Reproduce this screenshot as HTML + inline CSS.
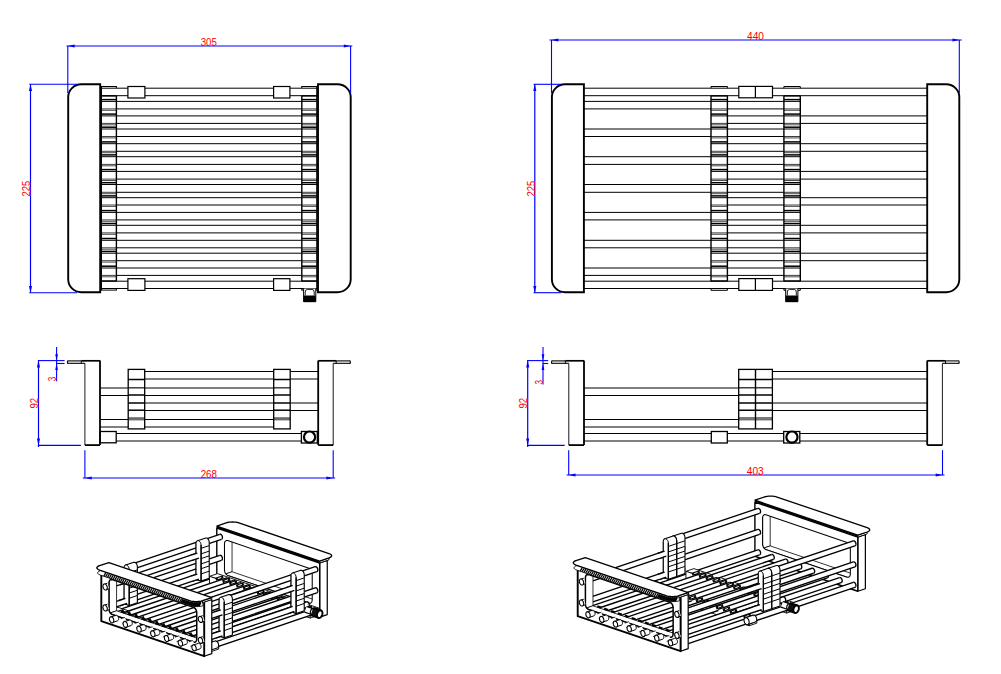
<!DOCTYPE html>
<html><head><meta charset="utf-8"><title>drawing</title>
<style>
html,body{margin:0;padding:0;background:#fff;}
body{width:1001px;height:674px;overflow:hidden;font-family:"Liberation Sans",sans-serif;}
svg{display:block;font-family:"Liberation Sans",sans-serif;}
</style></head><body>
<svg width="1001" height="674" viewBox="0 0 1001 674">
<rect x="0" y="0" width="1001" height="674" fill="#fff"/>
<line x1="583.90" y1="88.20" x2="927.20" y2="88.20" stroke="#000" stroke-width="1.0"/>
<line x1="583.90" y1="95.70" x2="927.20" y2="95.70" stroke="#000" stroke-width="1.0"/>
<line x1="727.40" y1="101.40" x2="783.90" y2="101.40" stroke="#000" stroke-width="1.0"/>
<line x1="727.40" y1="108.90" x2="783.90" y2="108.90" stroke="#000" stroke-width="1.0"/>
<line x1="583.90" y1="101.40" x2="711.00" y2="101.40" stroke="#000" stroke-width="1.0"/>
<line x1="583.90" y1="108.90" x2="711.00" y2="108.90" stroke="#000" stroke-width="1.0"/>
<line x1="727.40" y1="115.90" x2="783.90" y2="115.90" stroke="#000" stroke-width="1.0"/>
<line x1="727.40" y1="123.40" x2="783.90" y2="123.40" stroke="#000" stroke-width="1.0"/>
<line x1="800.30" y1="115.90" x2="927.20" y2="115.90" stroke="#000" stroke-width="1.0"/>
<line x1="800.30" y1="123.40" x2="927.20" y2="123.40" stroke="#000" stroke-width="1.0"/>
<line x1="727.40" y1="129.00" x2="783.90" y2="129.00" stroke="#000" stroke-width="1.0"/>
<line x1="727.40" y1="136.50" x2="783.90" y2="136.50" stroke="#000" stroke-width="1.0"/>
<line x1="583.90" y1="129.00" x2="711.00" y2="129.00" stroke="#000" stroke-width="1.0"/>
<line x1="583.90" y1="136.50" x2="711.00" y2="136.50" stroke="#000" stroke-width="1.0"/>
<line x1="727.40" y1="143.70" x2="783.90" y2="143.70" stroke="#000" stroke-width="1.0"/>
<line x1="727.40" y1="151.30" x2="783.90" y2="151.30" stroke="#000" stroke-width="1.0"/>
<line x1="800.30" y1="143.70" x2="927.20" y2="143.70" stroke="#000" stroke-width="1.0"/>
<line x1="800.30" y1="151.30" x2="927.20" y2="151.30" stroke="#000" stroke-width="1.0"/>
<line x1="727.40" y1="156.70" x2="783.90" y2="156.70" stroke="#000" stroke-width="1.0"/>
<line x1="727.40" y1="164.40" x2="783.90" y2="164.40" stroke="#000" stroke-width="1.0"/>
<line x1="583.90" y1="156.70" x2="711.00" y2="156.70" stroke="#000" stroke-width="1.0"/>
<line x1="583.90" y1="164.40" x2="711.00" y2="164.40" stroke="#000" stroke-width="1.0"/>
<line x1="727.40" y1="171.40" x2="783.90" y2="171.40" stroke="#000" stroke-width="1.0"/>
<line x1="727.40" y1="179.10" x2="783.90" y2="179.10" stroke="#000" stroke-width="1.0"/>
<line x1="800.30" y1="171.40" x2="927.20" y2="171.40" stroke="#000" stroke-width="1.0"/>
<line x1="800.30" y1="179.10" x2="927.20" y2="179.10" stroke="#000" stroke-width="1.0"/>
<line x1="727.40" y1="184.50" x2="783.90" y2="184.50" stroke="#000" stroke-width="1.0"/>
<line x1="727.40" y1="192.30" x2="783.90" y2="192.30" stroke="#000" stroke-width="1.0"/>
<line x1="583.90" y1="184.50" x2="711.00" y2="184.50" stroke="#000" stroke-width="1.0"/>
<line x1="583.90" y1="192.30" x2="711.00" y2="192.30" stroke="#000" stroke-width="1.0"/>
<line x1="727.40" y1="197.70" x2="783.90" y2="197.70" stroke="#000" stroke-width="1.0"/>
<line x1="727.40" y1="205.00" x2="783.90" y2="205.00" stroke="#000" stroke-width="1.0"/>
<line x1="800.30" y1="197.70" x2="927.20" y2="197.70" stroke="#000" stroke-width="1.0"/>
<line x1="800.30" y1="205.00" x2="927.20" y2="205.00" stroke="#000" stroke-width="1.0"/>
<line x1="727.40" y1="212.40" x2="783.90" y2="212.40" stroke="#000" stroke-width="1.0"/>
<line x1="727.40" y1="219.90" x2="783.90" y2="219.90" stroke="#000" stroke-width="1.0"/>
<line x1="583.90" y1="212.40" x2="711.00" y2="212.40" stroke="#000" stroke-width="1.0"/>
<line x1="583.90" y1="219.90" x2="711.00" y2="219.90" stroke="#000" stroke-width="1.0"/>
<line x1="727.40" y1="225.30" x2="783.90" y2="225.30" stroke="#000" stroke-width="1.0"/>
<line x1="727.40" y1="232.90" x2="783.90" y2="232.90" stroke="#000" stroke-width="1.0"/>
<line x1="800.30" y1="225.30" x2="927.20" y2="225.30" stroke="#000" stroke-width="1.0"/>
<line x1="800.30" y1="232.90" x2="927.20" y2="232.90" stroke="#000" stroke-width="1.0"/>
<line x1="727.40" y1="240.30" x2="783.90" y2="240.30" stroke="#000" stroke-width="1.0"/>
<line x1="727.40" y1="247.80" x2="783.90" y2="247.80" stroke="#000" stroke-width="1.0"/>
<line x1="583.90" y1="240.30" x2="711.00" y2="240.30" stroke="#000" stroke-width="1.0"/>
<line x1="583.90" y1="247.80" x2="711.00" y2="247.80" stroke="#000" stroke-width="1.0"/>
<line x1="727.40" y1="253.20" x2="783.90" y2="253.20" stroke="#000" stroke-width="1.0"/>
<line x1="727.40" y1="260.70" x2="783.90" y2="260.70" stroke="#000" stroke-width="1.0"/>
<line x1="800.30" y1="253.20" x2="927.20" y2="253.20" stroke="#000" stroke-width="1.0"/>
<line x1="800.30" y1="260.70" x2="927.20" y2="260.70" stroke="#000" stroke-width="1.0"/>
<line x1="727.40" y1="268.00" x2="783.90" y2="268.00" stroke="#000" stroke-width="1.0"/>
<line x1="727.40" y1="275.40" x2="783.90" y2="275.40" stroke="#000" stroke-width="1.0"/>
<line x1="583.90" y1="268.00" x2="711.00" y2="268.00" stroke="#000" stroke-width="1.0"/>
<line x1="583.90" y1="275.40" x2="711.00" y2="275.40" stroke="#000" stroke-width="1.0"/>
<line x1="583.90" y1="281.20" x2="927.20" y2="281.20" stroke="#000" stroke-width="1.0"/>
<line x1="583.90" y1="288.50" x2="927.20" y2="288.50" stroke="#000" stroke-width="1.0"/>
<line x1="711.00" y1="99.60" x2="727.40" y2="99.60" stroke="#000" stroke-width="1.5"/>
<line x1="711.00" y1="101.40" x2="727.40" y2="101.40" stroke="#000" stroke-width="1.0"/>
<line x1="711.00" y1="108.90" x2="727.40" y2="108.90" stroke="#000" stroke-width="1.0" stroke-opacity="0.75"/>
<line x1="711.00" y1="110.30" x2="727.40" y2="110.30" stroke="#000" stroke-width="1.0" stroke-opacity="0.7"/>
<line x1="711.00" y1="114.10" x2="727.40" y2="114.10" stroke="#000" stroke-width="1.5"/>
<line x1="711.00" y1="115.90" x2="727.40" y2="115.90" stroke="#000" stroke-width="1.0"/>
<line x1="711.00" y1="123.40" x2="727.40" y2="123.40" stroke="#000" stroke-width="1.0" stroke-opacity="0.75"/>
<line x1="711.00" y1="124.80" x2="727.40" y2="124.80" stroke="#000" stroke-width="1.0" stroke-opacity="0.7"/>
<line x1="711.00" y1="127.20" x2="727.40" y2="127.20" stroke="#000" stroke-width="1.5"/>
<line x1="711.00" y1="129.00" x2="727.40" y2="129.00" stroke="#000" stroke-width="1.0"/>
<line x1="711.00" y1="136.50" x2="727.40" y2="136.50" stroke="#000" stroke-width="1.0" stroke-opacity="0.75"/>
<line x1="711.00" y1="137.90" x2="727.40" y2="137.90" stroke="#000" stroke-width="1.0" stroke-opacity="0.7"/>
<line x1="711.00" y1="141.90" x2="727.40" y2="141.90" stroke="#000" stroke-width="1.5"/>
<line x1="711.00" y1="143.70" x2="727.40" y2="143.70" stroke="#000" stroke-width="1.0"/>
<line x1="711.00" y1="151.30" x2="727.40" y2="151.30" stroke="#000" stroke-width="1.0" stroke-opacity="0.75"/>
<line x1="711.00" y1="152.70" x2="727.40" y2="152.70" stroke="#000" stroke-width="1.0" stroke-opacity="0.7"/>
<line x1="711.00" y1="154.90" x2="727.40" y2="154.90" stroke="#000" stroke-width="1.5"/>
<line x1="711.00" y1="156.70" x2="727.40" y2="156.70" stroke="#000" stroke-width="1.0"/>
<line x1="711.00" y1="164.40" x2="727.40" y2="164.40" stroke="#000" stroke-width="1.0" stroke-opacity="0.75"/>
<line x1="711.00" y1="165.80" x2="727.40" y2="165.80" stroke="#000" stroke-width="1.0" stroke-opacity="0.7"/>
<line x1="711.00" y1="169.60" x2="727.40" y2="169.60" stroke="#000" stroke-width="1.5"/>
<line x1="711.00" y1="171.40" x2="727.40" y2="171.40" stroke="#000" stroke-width="1.0"/>
<line x1="711.00" y1="179.10" x2="727.40" y2="179.10" stroke="#000" stroke-width="1.0" stroke-opacity="0.75"/>
<line x1="711.00" y1="180.50" x2="727.40" y2="180.50" stroke="#000" stroke-width="1.0" stroke-opacity="0.7"/>
<line x1="711.00" y1="182.70" x2="727.40" y2="182.70" stroke="#000" stroke-width="1.5"/>
<line x1="711.00" y1="184.50" x2="727.40" y2="184.50" stroke="#000" stroke-width="1.0"/>
<line x1="711.00" y1="192.30" x2="727.40" y2="192.30" stroke="#000" stroke-width="1.0" stroke-opacity="0.75"/>
<line x1="711.00" y1="193.70" x2="727.40" y2="193.70" stroke="#000" stroke-width="1.0" stroke-opacity="0.7"/>
<line x1="711.00" y1="195.90" x2="727.40" y2="195.90" stroke="#000" stroke-width="1.5"/>
<line x1="711.00" y1="197.70" x2="727.40" y2="197.70" stroke="#000" stroke-width="1.0"/>
<line x1="711.00" y1="205.00" x2="727.40" y2="205.00" stroke="#000" stroke-width="1.0" stroke-opacity="0.75"/>
<line x1="711.00" y1="206.40" x2="727.40" y2="206.40" stroke="#000" stroke-width="1.0" stroke-opacity="0.7"/>
<line x1="711.00" y1="210.60" x2="727.40" y2="210.60" stroke="#000" stroke-width="1.5"/>
<line x1="711.00" y1="212.40" x2="727.40" y2="212.40" stroke="#000" stroke-width="1.0"/>
<line x1="711.00" y1="219.90" x2="727.40" y2="219.90" stroke="#000" stroke-width="1.0" stroke-opacity="0.75"/>
<line x1="711.00" y1="221.30" x2="727.40" y2="221.30" stroke="#000" stroke-width="1.0" stroke-opacity="0.7"/>
<line x1="711.00" y1="223.50" x2="727.40" y2="223.50" stroke="#000" stroke-width="1.5"/>
<line x1="711.00" y1="225.30" x2="727.40" y2="225.30" stroke="#000" stroke-width="1.0"/>
<line x1="711.00" y1="232.90" x2="727.40" y2="232.90" stroke="#000" stroke-width="1.0" stroke-opacity="0.75"/>
<line x1="711.00" y1="234.30" x2="727.40" y2="234.30" stroke="#000" stroke-width="1.0" stroke-opacity="0.7"/>
<line x1="711.00" y1="238.50" x2="727.40" y2="238.50" stroke="#000" stroke-width="1.5"/>
<line x1="711.00" y1="240.30" x2="727.40" y2="240.30" stroke="#000" stroke-width="1.0"/>
<line x1="711.00" y1="247.80" x2="727.40" y2="247.80" stroke="#000" stroke-width="1.0" stroke-opacity="0.75"/>
<line x1="711.00" y1="249.20" x2="727.40" y2="249.20" stroke="#000" stroke-width="1.0" stroke-opacity="0.7"/>
<line x1="711.00" y1="251.40" x2="727.40" y2="251.40" stroke="#000" stroke-width="1.5"/>
<line x1="711.00" y1="253.20" x2="727.40" y2="253.20" stroke="#000" stroke-width="1.0"/>
<line x1="711.00" y1="260.70" x2="727.40" y2="260.70" stroke="#000" stroke-width="1.0" stroke-opacity="0.75"/>
<line x1="711.00" y1="262.10" x2="727.40" y2="262.10" stroke="#000" stroke-width="1.0" stroke-opacity="0.7"/>
<line x1="711.00" y1="266.20" x2="727.40" y2="266.20" stroke="#000" stroke-width="1.5"/>
<line x1="711.00" y1="268.00" x2="727.40" y2="268.00" stroke="#000" stroke-width="1.0"/>
<line x1="711.00" y1="275.40" x2="727.40" y2="275.40" stroke="#000" stroke-width="1.0" stroke-opacity="0.75"/>
<line x1="711.00" y1="276.80" x2="727.40" y2="276.80" stroke="#000" stroke-width="1.0" stroke-opacity="0.7"/>
<line x1="783.90" y1="99.60" x2="800.30" y2="99.60" stroke="#000" stroke-width="1.5"/>
<line x1="783.90" y1="101.40" x2="800.30" y2="101.40" stroke="#000" stroke-width="1.0"/>
<line x1="783.90" y1="108.90" x2="800.30" y2="108.90" stroke="#000" stroke-width="1.0" stroke-opacity="0.75"/>
<line x1="783.90" y1="110.30" x2="800.30" y2="110.30" stroke="#000" stroke-width="1.0" stroke-opacity="0.7"/>
<line x1="783.90" y1="114.10" x2="800.30" y2="114.10" stroke="#000" stroke-width="1.5"/>
<line x1="783.90" y1="115.90" x2="800.30" y2="115.90" stroke="#000" stroke-width="1.0"/>
<line x1="783.90" y1="123.40" x2="800.30" y2="123.40" stroke="#000" stroke-width="1.0" stroke-opacity="0.75"/>
<line x1="783.90" y1="124.80" x2="800.30" y2="124.80" stroke="#000" stroke-width="1.0" stroke-opacity="0.7"/>
<line x1="783.90" y1="127.20" x2="800.30" y2="127.20" stroke="#000" stroke-width="1.5"/>
<line x1="783.90" y1="129.00" x2="800.30" y2="129.00" stroke="#000" stroke-width="1.0"/>
<line x1="783.90" y1="136.50" x2="800.30" y2="136.50" stroke="#000" stroke-width="1.0" stroke-opacity="0.75"/>
<line x1="783.90" y1="137.90" x2="800.30" y2="137.90" stroke="#000" stroke-width="1.0" stroke-opacity="0.7"/>
<line x1="783.90" y1="141.90" x2="800.30" y2="141.90" stroke="#000" stroke-width="1.5"/>
<line x1="783.90" y1="143.70" x2="800.30" y2="143.70" stroke="#000" stroke-width="1.0"/>
<line x1="783.90" y1="151.30" x2="800.30" y2="151.30" stroke="#000" stroke-width="1.0" stroke-opacity="0.75"/>
<line x1="783.90" y1="152.70" x2="800.30" y2="152.70" stroke="#000" stroke-width="1.0" stroke-opacity="0.7"/>
<line x1="783.90" y1="154.90" x2="800.30" y2="154.90" stroke="#000" stroke-width="1.5"/>
<line x1="783.90" y1="156.70" x2="800.30" y2="156.70" stroke="#000" stroke-width="1.0"/>
<line x1="783.90" y1="164.40" x2="800.30" y2="164.40" stroke="#000" stroke-width="1.0" stroke-opacity="0.75"/>
<line x1="783.90" y1="165.80" x2="800.30" y2="165.80" stroke="#000" stroke-width="1.0" stroke-opacity="0.7"/>
<line x1="783.90" y1="169.60" x2="800.30" y2="169.60" stroke="#000" stroke-width="1.5"/>
<line x1="783.90" y1="171.40" x2="800.30" y2="171.40" stroke="#000" stroke-width="1.0"/>
<line x1="783.90" y1="179.10" x2="800.30" y2="179.10" stroke="#000" stroke-width="1.0" stroke-opacity="0.75"/>
<line x1="783.90" y1="180.50" x2="800.30" y2="180.50" stroke="#000" stroke-width="1.0" stroke-opacity="0.7"/>
<line x1="783.90" y1="182.70" x2="800.30" y2="182.70" stroke="#000" stroke-width="1.5"/>
<line x1="783.90" y1="184.50" x2="800.30" y2="184.50" stroke="#000" stroke-width="1.0"/>
<line x1="783.90" y1="192.30" x2="800.30" y2="192.30" stroke="#000" stroke-width="1.0" stroke-opacity="0.75"/>
<line x1="783.90" y1="193.70" x2="800.30" y2="193.70" stroke="#000" stroke-width="1.0" stroke-opacity="0.7"/>
<line x1="783.90" y1="195.90" x2="800.30" y2="195.90" stroke="#000" stroke-width="1.5"/>
<line x1="783.90" y1="197.70" x2="800.30" y2="197.70" stroke="#000" stroke-width="1.0"/>
<line x1="783.90" y1="205.00" x2="800.30" y2="205.00" stroke="#000" stroke-width="1.0" stroke-opacity="0.75"/>
<line x1="783.90" y1="206.40" x2="800.30" y2="206.40" stroke="#000" stroke-width="1.0" stroke-opacity="0.7"/>
<line x1="783.90" y1="210.60" x2="800.30" y2="210.60" stroke="#000" stroke-width="1.5"/>
<line x1="783.90" y1="212.40" x2="800.30" y2="212.40" stroke="#000" stroke-width="1.0"/>
<line x1="783.90" y1="219.90" x2="800.30" y2="219.90" stroke="#000" stroke-width="1.0" stroke-opacity="0.75"/>
<line x1="783.90" y1="221.30" x2="800.30" y2="221.30" stroke="#000" stroke-width="1.0" stroke-opacity="0.7"/>
<line x1="783.90" y1="223.50" x2="800.30" y2="223.50" stroke="#000" stroke-width="1.5"/>
<line x1="783.90" y1="225.30" x2="800.30" y2="225.30" stroke="#000" stroke-width="1.0"/>
<line x1="783.90" y1="232.90" x2="800.30" y2="232.90" stroke="#000" stroke-width="1.0" stroke-opacity="0.75"/>
<line x1="783.90" y1="234.30" x2="800.30" y2="234.30" stroke="#000" stroke-width="1.0" stroke-opacity="0.7"/>
<line x1="783.90" y1="238.50" x2="800.30" y2="238.50" stroke="#000" stroke-width="1.5"/>
<line x1="783.90" y1="240.30" x2="800.30" y2="240.30" stroke="#000" stroke-width="1.0"/>
<line x1="783.90" y1="247.80" x2="800.30" y2="247.80" stroke="#000" stroke-width="1.0" stroke-opacity="0.75"/>
<line x1="783.90" y1="249.20" x2="800.30" y2="249.20" stroke="#000" stroke-width="1.0" stroke-opacity="0.7"/>
<line x1="783.90" y1="251.40" x2="800.30" y2="251.40" stroke="#000" stroke-width="1.5"/>
<line x1="783.90" y1="253.20" x2="800.30" y2="253.20" stroke="#000" stroke-width="1.0"/>
<line x1="783.90" y1="260.70" x2="800.30" y2="260.70" stroke="#000" stroke-width="1.0" stroke-opacity="0.75"/>
<line x1="783.90" y1="262.10" x2="800.30" y2="262.10" stroke="#000" stroke-width="1.0" stroke-opacity="0.7"/>
<line x1="783.90" y1="266.20" x2="800.30" y2="266.20" stroke="#000" stroke-width="1.5"/>
<line x1="783.90" y1="268.00" x2="800.30" y2="268.00" stroke="#000" stroke-width="1.0"/>
<line x1="783.90" y1="275.40" x2="800.30" y2="275.40" stroke="#000" stroke-width="1.0" stroke-opacity="0.75"/>
<line x1="783.90" y1="276.80" x2="800.30" y2="276.80" stroke="#000" stroke-width="1.0" stroke-opacity="0.7"/>
<line x1="711.00" y1="95.90" x2="727.40" y2="95.90" stroke="#000" stroke-width="1.4"/>
<line x1="711.00" y1="281.00" x2="727.40" y2="281.00" stroke="#000" stroke-width="1.4"/>
<line x1="711.00" y1="95.70" x2="711.00" y2="281.20" stroke="#000" stroke-width="1.4"/>
<line x1="727.40" y1="95.70" x2="727.40" y2="281.20" stroke="#000" stroke-width="1.4"/>
<line x1="711.00" y1="86.50" x2="727.40" y2="86.50" stroke="#000" stroke-width="1.0"/>
<line x1="711.00" y1="290.30" x2="727.40" y2="290.30" stroke="#000" stroke-width="1.0"/>
<line x1="711.00" y1="86.50" x2="711.00" y2="88.20" stroke="#000" stroke-width="1.0"/>
<line x1="727.40" y1="86.50" x2="727.40" y2="88.20" stroke="#000" stroke-width="1.0"/>
<line x1="711.00" y1="288.50" x2="711.00" y2="290.30" stroke="#000" stroke-width="1.0"/>
<line x1="727.40" y1="288.50" x2="727.40" y2="290.30" stroke="#000" stroke-width="1.0"/>
<line x1="783.90" y1="95.90" x2="800.30" y2="95.90" stroke="#000" stroke-width="1.4"/>
<line x1="783.90" y1="281.00" x2="800.30" y2="281.00" stroke="#000" stroke-width="1.4"/>
<line x1="783.90" y1="95.70" x2="783.90" y2="281.20" stroke="#000" stroke-width="1.4"/>
<line x1="800.30" y1="95.70" x2="800.30" y2="281.20" stroke="#000" stroke-width="1.4"/>
<line x1="783.90" y1="86.50" x2="800.30" y2="86.50" stroke="#000" stroke-width="1.0"/>
<line x1="783.90" y1="290.30" x2="800.30" y2="290.30" stroke="#000" stroke-width="1.0"/>
<line x1="783.90" y1="86.50" x2="783.90" y2="88.20" stroke="#000" stroke-width="1.0"/>
<line x1="800.30" y1="86.50" x2="800.30" y2="88.20" stroke="#000" stroke-width="1.0"/>
<line x1="783.90" y1="288.50" x2="783.90" y2="290.30" stroke="#000" stroke-width="1.0"/>
<line x1="800.30" y1="288.50" x2="800.30" y2="290.30" stroke="#000" stroke-width="1.0"/>
<rect x="738.80" y="86.40" width="33.70" height="11.40" rx="0" fill="#fff" stroke="#000" stroke-width="1.2"/>
<line x1="755.40" y1="86.40" x2="755.40" y2="97.80" stroke="#000" stroke-width="1.2"/>
<rect x="738.80" y="278.60" width="33.70" height="11.80" rx="0" fill="#fff" stroke="#000" stroke-width="1.2"/>
<line x1="755.40" y1="278.60" x2="755.40" y2="290.40" stroke="#000" stroke-width="1.2"/>
<path d="M785.7 288.6 L785.7 301.7 L797.9 301.7 L797.9 288.6" fill="#fff" stroke="#000" stroke-width="1.0" />
<rect x="785.7" y="295.5" width="12.20" height="6.50" fill="#000"/>
<path d="M787.3000000000001 295.5 L787.3000000000001 292.0 Q787.3000000000001 289.5 789.5 289.40000000000003 L794.1 289.40000000000003 Q796.3 289.5 796.3 292.0 L796.3 295.5" fill="none" stroke="#000" stroke-width="0.9" />
<path d="M583.9 84.3 L564.9 84.3 A13 13 0 0 0 551.9 97.3 L551.9 279.2 A13 13 0 0 0 564.9 292.2 L583.9 292.2 Z" fill="#fff" stroke="#000" stroke-width="1.9" />
<path d="M927.2 84.3 L946.3 84.3 A13 13 0 0 1 959.3 97.3 L959.3 279.2 A13 13 0 0 1 946.3 292.2 L927.2 292.2 Z" fill="#fff" stroke="#000" stroke-width="1.9" />
<line x1="551.50" y1="40.00" x2="551.50" y2="93.40" stroke="#0000ff" stroke-width="1.1"/>
<line x1="959.30" y1="40.00" x2="959.30" y2="93.40" stroke="#0000ff" stroke-width="1.1"/>
<line x1="549.50" y1="40.00" x2="961.70" y2="40.00" stroke="#0000ff" stroke-width="1.0"/>
<polygon points="551.50,40.00 558.30,38.45 558.30,41.55" fill="#0000ff"/>
<polygon points="959.30,40.00 952.50,41.55 952.50,38.45" fill="#0000ff"/>
<line x1="534.80" y1="84.30" x2="534.80" y2="292.70" stroke="#0000ff" stroke-width="1.2"/>
<line x1="533.60" y1="84.30" x2="561.40" y2="84.30" stroke="#0000ff" stroke-width="1.1"/>
<line x1="533.60" y1="292.70" x2="561.40" y2="292.70" stroke="#0000ff" stroke-width="1.1"/>
<polygon points="534.80,84.30 536.35,91.10 533.25,91.10" fill="#0000ff"/>
<polygon points="534.80,292.70 533.25,285.90 536.35,285.90" fill="#0000ff"/>
<line x1="100.20" y1="88.20" x2="318.00" y2="88.20" stroke="#000" stroke-width="1.0"/>
<line x1="100.20" y1="95.70" x2="318.00" y2="95.70" stroke="#000" stroke-width="1.0"/>
<line x1="116.40" y1="101.40" x2="301.80" y2="101.40" stroke="#000" stroke-width="1.0"/>
<line x1="116.40" y1="108.90" x2="301.80" y2="108.90" stroke="#000" stroke-width="1.0"/>
<line x1="116.40" y1="115.90" x2="301.80" y2="115.90" stroke="#000" stroke-width="1.0"/>
<line x1="116.40" y1="123.40" x2="301.80" y2="123.40" stroke="#000" stroke-width="1.0"/>
<line x1="116.40" y1="129.00" x2="301.80" y2="129.00" stroke="#000" stroke-width="1.0"/>
<line x1="116.40" y1="136.50" x2="301.80" y2="136.50" stroke="#000" stroke-width="1.0"/>
<line x1="116.40" y1="143.70" x2="301.80" y2="143.70" stroke="#000" stroke-width="1.0"/>
<line x1="116.40" y1="151.30" x2="301.80" y2="151.30" stroke="#000" stroke-width="1.0"/>
<line x1="116.40" y1="156.70" x2="301.80" y2="156.70" stroke="#000" stroke-width="1.0"/>
<line x1="116.40" y1="164.40" x2="301.80" y2="164.40" stroke="#000" stroke-width="1.0"/>
<line x1="116.40" y1="171.40" x2="301.80" y2="171.40" stroke="#000" stroke-width="1.0"/>
<line x1="116.40" y1="179.10" x2="301.80" y2="179.10" stroke="#000" stroke-width="1.0"/>
<line x1="116.40" y1="184.50" x2="301.80" y2="184.50" stroke="#000" stroke-width="1.0"/>
<line x1="116.40" y1="192.30" x2="301.80" y2="192.30" stroke="#000" stroke-width="1.0"/>
<line x1="116.40" y1="197.70" x2="301.80" y2="197.70" stroke="#000" stroke-width="1.0"/>
<line x1="116.40" y1="205.00" x2="301.80" y2="205.00" stroke="#000" stroke-width="1.0"/>
<line x1="116.40" y1="212.40" x2="301.80" y2="212.40" stroke="#000" stroke-width="1.0"/>
<line x1="116.40" y1="219.90" x2="301.80" y2="219.90" stroke="#000" stroke-width="1.0"/>
<line x1="116.40" y1="225.30" x2="301.80" y2="225.30" stroke="#000" stroke-width="1.0"/>
<line x1="116.40" y1="232.90" x2="301.80" y2="232.90" stroke="#000" stroke-width="1.0"/>
<line x1="116.40" y1="240.30" x2="301.80" y2="240.30" stroke="#000" stroke-width="1.0"/>
<line x1="116.40" y1="247.80" x2="301.80" y2="247.80" stroke="#000" stroke-width="1.0"/>
<line x1="116.40" y1="253.20" x2="301.80" y2="253.20" stroke="#000" stroke-width="1.0"/>
<line x1="116.40" y1="260.70" x2="301.80" y2="260.70" stroke="#000" stroke-width="1.0"/>
<line x1="116.40" y1="268.00" x2="301.80" y2="268.00" stroke="#000" stroke-width="1.0"/>
<line x1="116.40" y1="275.40" x2="301.80" y2="275.40" stroke="#000" stroke-width="1.0"/>
<line x1="100.20" y1="281.20" x2="318.00" y2="281.20" stroke="#000" stroke-width="1.0"/>
<line x1="100.20" y1="288.50" x2="318.00" y2="288.50" stroke="#000" stroke-width="1.0"/>
<line x1="101.20" y1="99.60" x2="116.40" y2="99.60" stroke="#000" stroke-width="1.5"/>
<line x1="101.20" y1="101.40" x2="116.40" y2="101.40" stroke="#000" stroke-width="1.0"/>
<line x1="101.20" y1="108.90" x2="116.40" y2="108.90" stroke="#000" stroke-width="1.0" stroke-opacity="0.75"/>
<line x1="101.20" y1="110.30" x2="116.40" y2="110.30" stroke="#000" stroke-width="1.0" stroke-opacity="0.7"/>
<line x1="101.20" y1="114.10" x2="116.40" y2="114.10" stroke="#000" stroke-width="1.5"/>
<line x1="101.20" y1="115.90" x2="116.40" y2="115.90" stroke="#000" stroke-width="1.0"/>
<line x1="101.20" y1="123.40" x2="116.40" y2="123.40" stroke="#000" stroke-width="1.0" stroke-opacity="0.75"/>
<line x1="101.20" y1="124.80" x2="116.40" y2="124.80" stroke="#000" stroke-width="1.0" stroke-opacity="0.7"/>
<line x1="101.20" y1="127.20" x2="116.40" y2="127.20" stroke="#000" stroke-width="1.5"/>
<line x1="101.20" y1="129.00" x2="116.40" y2="129.00" stroke="#000" stroke-width="1.0"/>
<line x1="101.20" y1="136.50" x2="116.40" y2="136.50" stroke="#000" stroke-width="1.0" stroke-opacity="0.75"/>
<line x1="101.20" y1="137.90" x2="116.40" y2="137.90" stroke="#000" stroke-width="1.0" stroke-opacity="0.7"/>
<line x1="101.20" y1="141.90" x2="116.40" y2="141.90" stroke="#000" stroke-width="1.5"/>
<line x1="101.20" y1="143.70" x2="116.40" y2="143.70" stroke="#000" stroke-width="1.0"/>
<line x1="101.20" y1="151.30" x2="116.40" y2="151.30" stroke="#000" stroke-width="1.0" stroke-opacity="0.75"/>
<line x1="101.20" y1="152.70" x2="116.40" y2="152.70" stroke="#000" stroke-width="1.0" stroke-opacity="0.7"/>
<line x1="101.20" y1="154.90" x2="116.40" y2="154.90" stroke="#000" stroke-width="1.5"/>
<line x1="101.20" y1="156.70" x2="116.40" y2="156.70" stroke="#000" stroke-width="1.0"/>
<line x1="101.20" y1="164.40" x2="116.40" y2="164.40" stroke="#000" stroke-width="1.0" stroke-opacity="0.75"/>
<line x1="101.20" y1="165.80" x2="116.40" y2="165.80" stroke="#000" stroke-width="1.0" stroke-opacity="0.7"/>
<line x1="101.20" y1="169.60" x2="116.40" y2="169.60" stroke="#000" stroke-width="1.5"/>
<line x1="101.20" y1="171.40" x2="116.40" y2="171.40" stroke="#000" stroke-width="1.0"/>
<line x1="101.20" y1="179.10" x2="116.40" y2="179.10" stroke="#000" stroke-width="1.0" stroke-opacity="0.75"/>
<line x1="101.20" y1="180.50" x2="116.40" y2="180.50" stroke="#000" stroke-width="1.0" stroke-opacity="0.7"/>
<line x1="101.20" y1="182.70" x2="116.40" y2="182.70" stroke="#000" stroke-width="1.5"/>
<line x1="101.20" y1="184.50" x2="116.40" y2="184.50" stroke="#000" stroke-width="1.0"/>
<line x1="101.20" y1="192.30" x2="116.40" y2="192.30" stroke="#000" stroke-width="1.0" stroke-opacity="0.75"/>
<line x1="101.20" y1="193.70" x2="116.40" y2="193.70" stroke="#000" stroke-width="1.0" stroke-opacity="0.7"/>
<line x1="101.20" y1="195.90" x2="116.40" y2="195.90" stroke="#000" stroke-width="1.5"/>
<line x1="101.20" y1="197.70" x2="116.40" y2="197.70" stroke="#000" stroke-width="1.0"/>
<line x1="101.20" y1="205.00" x2="116.40" y2="205.00" stroke="#000" stroke-width="1.0" stroke-opacity="0.75"/>
<line x1="101.20" y1="206.40" x2="116.40" y2="206.40" stroke="#000" stroke-width="1.0" stroke-opacity="0.7"/>
<line x1="101.20" y1="210.60" x2="116.40" y2="210.60" stroke="#000" stroke-width="1.5"/>
<line x1="101.20" y1="212.40" x2="116.40" y2="212.40" stroke="#000" stroke-width="1.0"/>
<line x1="101.20" y1="219.90" x2="116.40" y2="219.90" stroke="#000" stroke-width="1.0" stroke-opacity="0.75"/>
<line x1="101.20" y1="221.30" x2="116.40" y2="221.30" stroke="#000" stroke-width="1.0" stroke-opacity="0.7"/>
<line x1="101.20" y1="223.50" x2="116.40" y2="223.50" stroke="#000" stroke-width="1.5"/>
<line x1="101.20" y1="225.30" x2="116.40" y2="225.30" stroke="#000" stroke-width="1.0"/>
<line x1="101.20" y1="232.90" x2="116.40" y2="232.90" stroke="#000" stroke-width="1.0" stroke-opacity="0.75"/>
<line x1="101.20" y1="234.30" x2="116.40" y2="234.30" stroke="#000" stroke-width="1.0" stroke-opacity="0.7"/>
<line x1="101.20" y1="238.50" x2="116.40" y2="238.50" stroke="#000" stroke-width="1.5"/>
<line x1="101.20" y1="240.30" x2="116.40" y2="240.30" stroke="#000" stroke-width="1.0"/>
<line x1="101.20" y1="247.80" x2="116.40" y2="247.80" stroke="#000" stroke-width="1.0" stroke-opacity="0.75"/>
<line x1="101.20" y1="249.20" x2="116.40" y2="249.20" stroke="#000" stroke-width="1.0" stroke-opacity="0.7"/>
<line x1="101.20" y1="251.40" x2="116.40" y2="251.40" stroke="#000" stroke-width="1.5"/>
<line x1="101.20" y1="253.20" x2="116.40" y2="253.20" stroke="#000" stroke-width="1.0"/>
<line x1="101.20" y1="260.70" x2="116.40" y2="260.70" stroke="#000" stroke-width="1.0" stroke-opacity="0.75"/>
<line x1="101.20" y1="262.10" x2="116.40" y2="262.10" stroke="#000" stroke-width="1.0" stroke-opacity="0.7"/>
<line x1="101.20" y1="266.20" x2="116.40" y2="266.20" stroke="#000" stroke-width="1.5"/>
<line x1="101.20" y1="268.00" x2="116.40" y2="268.00" stroke="#000" stroke-width="1.0"/>
<line x1="101.20" y1="275.40" x2="116.40" y2="275.40" stroke="#000" stroke-width="1.0" stroke-opacity="0.75"/>
<line x1="101.20" y1="276.80" x2="116.40" y2="276.80" stroke="#000" stroke-width="1.0" stroke-opacity="0.7"/>
<line x1="301.80" y1="99.60" x2="317.00" y2="99.60" stroke="#000" stroke-width="1.5"/>
<line x1="301.80" y1="101.40" x2="317.00" y2="101.40" stroke="#000" stroke-width="1.0"/>
<line x1="301.80" y1="108.90" x2="317.00" y2="108.90" stroke="#000" stroke-width="1.0" stroke-opacity="0.75"/>
<line x1="301.80" y1="110.30" x2="317.00" y2="110.30" stroke="#000" stroke-width="1.0" stroke-opacity="0.7"/>
<line x1="301.80" y1="114.10" x2="317.00" y2="114.10" stroke="#000" stroke-width="1.5"/>
<line x1="301.80" y1="115.90" x2="317.00" y2="115.90" stroke="#000" stroke-width="1.0"/>
<line x1="301.80" y1="123.40" x2="317.00" y2="123.40" stroke="#000" stroke-width="1.0" stroke-opacity="0.75"/>
<line x1="301.80" y1="124.80" x2="317.00" y2="124.80" stroke="#000" stroke-width="1.0" stroke-opacity="0.7"/>
<line x1="301.80" y1="127.20" x2="317.00" y2="127.20" stroke="#000" stroke-width="1.5"/>
<line x1="301.80" y1="129.00" x2="317.00" y2="129.00" stroke="#000" stroke-width="1.0"/>
<line x1="301.80" y1="136.50" x2="317.00" y2="136.50" stroke="#000" stroke-width="1.0" stroke-opacity="0.75"/>
<line x1="301.80" y1="137.90" x2="317.00" y2="137.90" stroke="#000" stroke-width="1.0" stroke-opacity="0.7"/>
<line x1="301.80" y1="141.90" x2="317.00" y2="141.90" stroke="#000" stroke-width="1.5"/>
<line x1="301.80" y1="143.70" x2="317.00" y2="143.70" stroke="#000" stroke-width="1.0"/>
<line x1="301.80" y1="151.30" x2="317.00" y2="151.30" stroke="#000" stroke-width="1.0" stroke-opacity="0.75"/>
<line x1="301.80" y1="152.70" x2="317.00" y2="152.70" stroke="#000" stroke-width="1.0" stroke-opacity="0.7"/>
<line x1="301.80" y1="154.90" x2="317.00" y2="154.90" stroke="#000" stroke-width="1.5"/>
<line x1="301.80" y1="156.70" x2="317.00" y2="156.70" stroke="#000" stroke-width="1.0"/>
<line x1="301.80" y1="164.40" x2="317.00" y2="164.40" stroke="#000" stroke-width="1.0" stroke-opacity="0.75"/>
<line x1="301.80" y1="165.80" x2="317.00" y2="165.80" stroke="#000" stroke-width="1.0" stroke-opacity="0.7"/>
<line x1="301.80" y1="169.60" x2="317.00" y2="169.60" stroke="#000" stroke-width="1.5"/>
<line x1="301.80" y1="171.40" x2="317.00" y2="171.40" stroke="#000" stroke-width="1.0"/>
<line x1="301.80" y1="179.10" x2="317.00" y2="179.10" stroke="#000" stroke-width="1.0" stroke-opacity="0.75"/>
<line x1="301.80" y1="180.50" x2="317.00" y2="180.50" stroke="#000" stroke-width="1.0" stroke-opacity="0.7"/>
<line x1="301.80" y1="182.70" x2="317.00" y2="182.70" stroke="#000" stroke-width="1.5"/>
<line x1="301.80" y1="184.50" x2="317.00" y2="184.50" stroke="#000" stroke-width="1.0"/>
<line x1="301.80" y1="192.30" x2="317.00" y2="192.30" stroke="#000" stroke-width="1.0" stroke-opacity="0.75"/>
<line x1="301.80" y1="193.70" x2="317.00" y2="193.70" stroke="#000" stroke-width="1.0" stroke-opacity="0.7"/>
<line x1="301.80" y1="195.90" x2="317.00" y2="195.90" stroke="#000" stroke-width="1.5"/>
<line x1="301.80" y1="197.70" x2="317.00" y2="197.70" stroke="#000" stroke-width="1.0"/>
<line x1="301.80" y1="205.00" x2="317.00" y2="205.00" stroke="#000" stroke-width="1.0" stroke-opacity="0.75"/>
<line x1="301.80" y1="206.40" x2="317.00" y2="206.40" stroke="#000" stroke-width="1.0" stroke-opacity="0.7"/>
<line x1="301.80" y1="210.60" x2="317.00" y2="210.60" stroke="#000" stroke-width="1.5"/>
<line x1="301.80" y1="212.40" x2="317.00" y2="212.40" stroke="#000" stroke-width="1.0"/>
<line x1="301.80" y1="219.90" x2="317.00" y2="219.90" stroke="#000" stroke-width="1.0" stroke-opacity="0.75"/>
<line x1="301.80" y1="221.30" x2="317.00" y2="221.30" stroke="#000" stroke-width="1.0" stroke-opacity="0.7"/>
<line x1="301.80" y1="223.50" x2="317.00" y2="223.50" stroke="#000" stroke-width="1.5"/>
<line x1="301.80" y1="225.30" x2="317.00" y2="225.30" stroke="#000" stroke-width="1.0"/>
<line x1="301.80" y1="232.90" x2="317.00" y2="232.90" stroke="#000" stroke-width="1.0" stroke-opacity="0.75"/>
<line x1="301.80" y1="234.30" x2="317.00" y2="234.30" stroke="#000" stroke-width="1.0" stroke-opacity="0.7"/>
<line x1="301.80" y1="238.50" x2="317.00" y2="238.50" stroke="#000" stroke-width="1.5"/>
<line x1="301.80" y1="240.30" x2="317.00" y2="240.30" stroke="#000" stroke-width="1.0"/>
<line x1="301.80" y1="247.80" x2="317.00" y2="247.80" stroke="#000" stroke-width="1.0" stroke-opacity="0.75"/>
<line x1="301.80" y1="249.20" x2="317.00" y2="249.20" stroke="#000" stroke-width="1.0" stroke-opacity="0.7"/>
<line x1="301.80" y1="251.40" x2="317.00" y2="251.40" stroke="#000" stroke-width="1.5"/>
<line x1="301.80" y1="253.20" x2="317.00" y2="253.20" stroke="#000" stroke-width="1.0"/>
<line x1="301.80" y1="260.70" x2="317.00" y2="260.70" stroke="#000" stroke-width="1.0" stroke-opacity="0.75"/>
<line x1="301.80" y1="262.10" x2="317.00" y2="262.10" stroke="#000" stroke-width="1.0" stroke-opacity="0.7"/>
<line x1="301.80" y1="266.20" x2="317.00" y2="266.20" stroke="#000" stroke-width="1.5"/>
<line x1="301.80" y1="268.00" x2="317.00" y2="268.00" stroke="#000" stroke-width="1.0"/>
<line x1="301.80" y1="275.40" x2="317.00" y2="275.40" stroke="#000" stroke-width="1.0" stroke-opacity="0.75"/>
<line x1="301.80" y1="276.80" x2="317.00" y2="276.80" stroke="#000" stroke-width="1.0" stroke-opacity="0.7"/>
<line x1="100.20" y1="95.90" x2="116.40" y2="95.90" stroke="#000" stroke-width="1.4"/>
<line x1="301.80" y1="95.90" x2="318.00" y2="95.90" stroke="#000" stroke-width="1.4"/>
<line x1="100.20" y1="281.00" x2="116.40" y2="281.00" stroke="#000" stroke-width="1.4"/>
<line x1="301.80" y1="281.00" x2="318.00" y2="281.00" stroke="#000" stroke-width="1.4"/>
<line x1="116.40" y1="95.70" x2="116.40" y2="281.20" stroke="#000" stroke-width="1.4"/>
<line x1="301.80" y1="95.70" x2="301.80" y2="281.20" stroke="#000" stroke-width="1.4"/>
<line x1="116.40" y1="86.50" x2="116.40" y2="88.20" stroke="#000" stroke-width="1.0"/>
<line x1="301.80" y1="86.50" x2="301.80" y2="88.20" stroke="#000" stroke-width="1.0"/>
<line x1="116.40" y1="288.50" x2="116.40" y2="290.10" stroke="#000" stroke-width="1.0"/>
<line x1="301.80" y1="288.50" x2="301.80" y2="290.10" stroke="#000" stroke-width="1.0"/>
<line x1="101.50" y1="86.50" x2="101.50" y2="290.20" stroke="#000" stroke-width="1.0"/>
<line x1="316.70" y1="86.50" x2="316.70" y2="290.20" stroke="#000" stroke-width="1.0"/>
<line x1="100.20" y1="86.50" x2="116.90" y2="86.50" stroke="#000" stroke-width="1.0"/>
<line x1="301.30" y1="86.50" x2="318.00" y2="86.50" stroke="#000" stroke-width="1.0"/>
<line x1="100.20" y1="290.10" x2="116.90" y2="290.10" stroke="#000" stroke-width="1.0"/>
<line x1="301.30" y1="290.10" x2="318.00" y2="290.10" stroke="#000" stroke-width="1.0"/>
<rect x="127.90" y="86.50" width="17.00" height="11.50" rx="0" fill="#fff" stroke="#000" stroke-width="1.2"/>
<rect x="127.90" y="278.70" width="17.00" height="11.70" rx="0" fill="#fff" stroke="#000" stroke-width="1.2"/>
<rect x="273.60" y="86.50" width="16.30" height="11.50" rx="0" fill="#fff" stroke="#000" stroke-width="1.2"/>
<rect x="273.60" y="278.70" width="16.30" height="11.70" rx="0" fill="#fff" stroke="#000" stroke-width="1.2"/>
<path d="M303.6 288.6 L303.6 301.7 L315.8 301.7 L315.8 288.6" fill="#fff" stroke="#000" stroke-width="1.0" />
<rect x="303.6" y="295.5" width="12.20" height="6.50" fill="#000"/>
<path d="M305.20000000000005 295.5 L305.20000000000005 292.0 Q305.20000000000005 289.5 307.40000000000003 289.40000000000003 L312.0 289.40000000000003 Q314.2 289.5 314.2 292.0 L314.2 295.5" fill="none" stroke="#000" stroke-width="0.9" />
<path d="M100.2 84.3 L81.2 84.3 A13 13 0 0 0 68.2 97.3 L68.2 279.2 A13 13 0 0 0 81.2 292.2 L100.2 292.2 Z" fill="#fff" stroke="#000" stroke-width="1.9" />
<path d="M318.0 84.3 L337.7 84.3 A13 13 0 0 1 350.7 97.3 L350.7 279.2 A13 13 0 0 1 337.7 292.2 L318.0 292.2 Z" fill="#fff" stroke="#000" stroke-width="1.9" />
<line x1="67.80" y1="46.00" x2="67.80" y2="93.30" stroke="#0000ff" stroke-width="1.1"/>
<line x1="350.60" y1="46.00" x2="350.60" y2="93.30" stroke="#0000ff" stroke-width="1.1"/>
<line x1="66.50" y1="46.00" x2="352.30" y2="46.00" stroke="#0000ff" stroke-width="1.0"/>
<polygon points="67.80,46.00 74.60,44.45 74.60,47.55" fill="#0000ff"/>
<polygon points="350.60,46.00 343.80,47.55 343.80,44.45" fill="#0000ff"/>
<text x="200.70" y="46.00" font-size="11" fill="#ff0000" textLength="16.2" lengthAdjust="spacingAndGlyphs">305</text>
<line x1="30.50" y1="84.30" x2="30.50" y2="292.70" stroke="#0000ff" stroke-width="1.2"/>
<line x1="29.30" y1="84.30" x2="77.00" y2="84.30" stroke="#0000ff" stroke-width="1.1"/>
<line x1="29.30" y1="292.70" x2="77.00" y2="292.70" stroke="#0000ff" stroke-width="1.1"/>
<polygon points="30.50,84.30 32.05,91.10 28.95,91.10" fill="#0000ff"/>
<polygon points="30.50,292.70 28.95,285.90 32.05,285.90" fill="#0000ff"/>
<text transform="translate(30.00,196.50) rotate(-90)" font-size="11" fill="#ff0000" textLength="15.8" lengthAdjust="spacingAndGlyphs">225</text>
<text x="747.00" y="39.90" font-size="11" fill="#ff0000" textLength="17.0" lengthAdjust="spacingAndGlyphs">440</text>
<text transform="translate(534.60,196.50) rotate(-90)" font-size="11" fill="#ff0000" textLength="15.8" lengthAdjust="spacingAndGlyphs">225</text>
<line x1="144.70" y1="371.50" x2="273.70" y2="371.50" stroke="#000" stroke-width="1.0"/>
<line x1="144.70" y1="379.00" x2="273.70" y2="379.00" stroke="#000" stroke-width="1.0"/>
<line x1="144.70" y1="388.00" x2="273.70" y2="388.00" stroke="#000" stroke-width="1.0"/>
<line x1="144.70" y1="395.50" x2="273.70" y2="395.50" stroke="#000" stroke-width="1.0"/>
<line x1="144.70" y1="403.00" x2="273.70" y2="403.00" stroke="#000" stroke-width="1.0"/>
<line x1="144.70" y1="410.50" x2="273.70" y2="410.50" stroke="#000" stroke-width="1.0"/>
<line x1="144.70" y1="419.50" x2="273.70" y2="419.50" stroke="#000" stroke-width="1.0"/>
<line x1="144.70" y1="427.00" x2="273.70" y2="427.00" stroke="#000" stroke-width="1.0"/>
<line x1="100.00" y1="388.00" x2="128.20" y2="388.00" stroke="#000" stroke-width="1.0"/>
<line x1="100.00" y1="395.50" x2="128.20" y2="395.50" stroke="#000" stroke-width="1.0"/>
<line x1="100.00" y1="419.50" x2="128.20" y2="419.50" stroke="#000" stroke-width="1.0"/>
<line x1="100.00" y1="427.00" x2="128.20" y2="427.00" stroke="#000" stroke-width="1.0"/>
<line x1="290.20" y1="371.50" x2="318.20" y2="371.50" stroke="#000" stroke-width="1.0"/>
<line x1="290.20" y1="379.00" x2="318.20" y2="379.00" stroke="#000" stroke-width="1.0"/>
<line x1="290.20" y1="403.00" x2="318.20" y2="403.00" stroke="#000" stroke-width="1.0"/>
<line x1="290.20" y1="410.50" x2="318.20" y2="410.50" stroke="#000" stroke-width="1.0"/>
<line x1="116.20" y1="433.50" x2="301.40" y2="433.50" stroke="#000" stroke-width="1.0"/>
<line x1="116.20" y1="441.00" x2="301.40" y2="441.00" stroke="#000" stroke-width="1.0"/>
<rect x="128.20" y="369.40" width="16.50" height="59.50" rx="0" fill="#fff" stroke="#000" stroke-width="1.3"/>
<line x1="128.20" y1="379.50" x2="144.70" y2="379.50" stroke="#000" stroke-width="1.5" stroke-opacity="1"/>
<line x1="128.20" y1="387.80" x2="144.70" y2="387.80" stroke="#000" stroke-width="1.5" stroke-opacity="0.75"/>
<line x1="128.20" y1="395.00" x2="144.70" y2="395.00" stroke="#000" stroke-width="1.5" stroke-opacity="1"/>
<line x1="128.20" y1="403.00" x2="144.70" y2="403.00" stroke="#000" stroke-width="1.5" stroke-opacity="1"/>
<line x1="128.20" y1="410.20" x2="144.70" y2="410.20" stroke="#000" stroke-width="1.5" stroke-opacity="1"/>
<line x1="128.20" y1="418.10" x2="144.70" y2="418.10" stroke="#000" stroke-width="1.5" stroke-opacity="0.7"/>
<line x1="128.20" y1="419.80" x2="144.70" y2="419.80" stroke="#000" stroke-width="1.0" stroke-opacity="0.8"/>
<rect x="273.70" y="369.40" width="16.50" height="59.50" rx="0" fill="#fff" stroke="#000" stroke-width="1.3"/>
<line x1="273.70" y1="379.50" x2="290.20" y2="379.50" stroke="#000" stroke-width="1.5" stroke-opacity="1"/>
<line x1="273.70" y1="387.80" x2="290.20" y2="387.80" stroke="#000" stroke-width="1.5" stroke-opacity="0.75"/>
<line x1="273.70" y1="395.00" x2="290.20" y2="395.00" stroke="#000" stroke-width="1.5" stroke-opacity="1"/>
<line x1="273.70" y1="403.00" x2="290.20" y2="403.00" stroke="#000" stroke-width="1.5" stroke-opacity="1"/>
<line x1="273.70" y1="410.20" x2="290.20" y2="410.20" stroke="#000" stroke-width="1.5" stroke-opacity="1"/>
<line x1="273.70" y1="418.10" x2="290.20" y2="418.10" stroke="#000" stroke-width="1.5" stroke-opacity="0.7"/>
<line x1="273.70" y1="419.80" x2="290.20" y2="419.80" stroke="#000" stroke-width="1.0" stroke-opacity="0.8"/>
<rect x="100.00" y="431.50" width="16.20" height="11.30" rx="0" fill="#fff" stroke="#000" stroke-width="1.3"/>
<rect x="301.40" y="431.50" width="15.90" height="11.50" rx="0" fill="#fff" stroke="#000" stroke-width="1.3"/>
<circle cx="309.55" cy="437.1" r="5.6" fill="#fff" stroke="#000" stroke-width="2.2"/>
<path d="M100.0 445.1 L84.9 445.1" fill="none" stroke="#000" stroke-width="1.8" />
<line x1="84.90" y1="363.40" x2="84.90" y2="445.10" stroke="#000" stroke-width="1.0" stroke-opacity="0.9"/>
<line x1="100.00" y1="360.60" x2="100.00" y2="445.10" stroke="#000" stroke-width="1.8"/>
<path d="M81.3 360.8 L100.0 360.8" fill="none" stroke="#000" stroke-width="1.7" />
<path d="M67.8 360.9 L81.3 360.9" fill="none" stroke="#000" stroke-width="1.1" />
<path d="M67.5 363.3 L84.9 363.3" fill="none" stroke="#000" stroke-width="1.1" />
<line x1="81.30" y1="360.60" x2="81.30" y2="363.30" stroke="#000" stroke-width="1.0"/>
<path d="M67.9 360.5 Q66.8 362.1 67.9 363.7" fill="none" stroke="#000" stroke-width="1.1" />
<path d="M318.2 445.1 L333.2 445.1" fill="none" stroke="#000" stroke-width="1.8" />
<line x1="333.20" y1="363.40" x2="333.20" y2="445.10" stroke="#000" stroke-width="1.0" stroke-opacity="0.9"/>
<line x1="318.20" y1="360.60" x2="318.20" y2="445.10" stroke="#000" stroke-width="1.8"/>
<path d="M336.2 360.8 L318.2 360.8" fill="none" stroke="#000" stroke-width="1.7" />
<path d="M350.0 360.9 L336.2 360.9" fill="none" stroke="#000" stroke-width="1.1" />
<path d="M350.3 363.3 L333.2 363.3" fill="none" stroke="#000" stroke-width="1.1" />
<line x1="336.20" y1="360.60" x2="336.20" y2="363.30" stroke="#000" stroke-width="1.0"/>
<path d="M349.90000000000003 360.5 Q351.0 362.1 349.90000000000003 363.7" fill="none" stroke="#000" stroke-width="1.1" />
<line x1="38.50" y1="360.60" x2="38.50" y2="447.00" stroke="#0000ff" stroke-width="1.2"/>
<line x1="37.90" y1="360.60" x2="64.60" y2="360.60" stroke="#0000ff" stroke-width="1.1"/>
<line x1="37.90" y1="445.40" x2="80.90" y2="445.40" stroke="#0000ff" stroke-width="1.1"/>
<polygon points="38.50,360.60 40.05,367.40 36.95,367.40" fill="#0000ff"/>
<polygon points="38.50,445.40 36.95,438.60 40.05,438.60" fill="#0000ff"/>
<line x1="56.60" y1="347.00" x2="56.60" y2="381.20" stroke="#0000ff" stroke-width="1.1"/>
<line x1="56.20" y1="363.50" x2="64.60" y2="363.50" stroke="#0000ff" stroke-width="1.1"/>
<polygon points="56.60,360.60 55.20,354.20 58.00,354.20" fill="#0000ff"/>
<polygon points="56.60,363.50 58.00,369.90 55.20,369.90" fill="#0000ff"/>
<line x1="84.90" y1="450.20" x2="84.90" y2="478.00" stroke="#0000ff" stroke-width="1.1"/>
<line x1="333.20" y1="450.20" x2="333.20" y2="478.00" stroke="#0000ff" stroke-width="1.1"/>
<line x1="82.80" y1="478.00" x2="335.20" y2="478.00" stroke="#0000ff" stroke-width="1.0"/>
<polygon points="84.90,478.00 91.70,476.45 91.70,479.55" fill="#0000ff"/>
<polygon points="333.20,478.00 326.40,479.55 326.40,476.45" fill="#0000ff"/>
<text x="200.70" y="477.80" font-size="11" fill="#ff0000" textLength="16.3" lengthAdjust="spacingAndGlyphs">268</text>
<text transform="translate(38.20,408.50) rotate(-90)" font-size="11" fill="#ff0000" textLength="10.7" lengthAdjust="spacingAndGlyphs">92</text>
<text transform="translate(56.40,381.20) rotate(-90)" font-size="11" fill="#ff0000" textLength="4.5" lengthAdjust="spacingAndGlyphs">3</text>
<line x1="584.00" y1="388.00" x2="738.70" y2="388.00" stroke="#000" stroke-width="1.0"/>
<line x1="584.00" y1="395.50" x2="738.70" y2="395.50" stroke="#000" stroke-width="1.0"/>
<line x1="584.00" y1="419.50" x2="738.70" y2="419.50" stroke="#000" stroke-width="1.0"/>
<line x1="584.00" y1="427.00" x2="738.70" y2="427.00" stroke="#000" stroke-width="1.0"/>
<line x1="772.40" y1="371.50" x2="927.20" y2="371.50" stroke="#000" stroke-width="1.0"/>
<line x1="772.40" y1="379.00" x2="927.20" y2="379.00" stroke="#000" stroke-width="1.0"/>
<line x1="772.40" y1="403.00" x2="927.20" y2="403.00" stroke="#000" stroke-width="1.0"/>
<line x1="772.40" y1="410.50" x2="927.20" y2="410.50" stroke="#000" stroke-width="1.0"/>
<line x1="584.00" y1="433.50" x2="927.20" y2="433.50" stroke="#000" stroke-width="1.0"/>
<line x1="584.00" y1="441.00" x2="927.20" y2="441.00" stroke="#000" stroke-width="1.0"/>
<rect x="738.70" y="369.40" width="33.70" height="59.50" rx="0" fill="#fff" stroke="#000" stroke-width="1.3"/>
<line x1="738.70" y1="379.50" x2="772.40" y2="379.50" stroke="#000" stroke-width="1.5" stroke-opacity="1"/>
<line x1="738.70" y1="387.80" x2="772.40" y2="387.80" stroke="#000" stroke-width="1.5" stroke-opacity="0.75"/>
<line x1="738.70" y1="395.00" x2="772.40" y2="395.00" stroke="#000" stroke-width="1.5" stroke-opacity="1"/>
<line x1="738.70" y1="403.00" x2="772.40" y2="403.00" stroke="#000" stroke-width="1.5" stroke-opacity="1"/>
<line x1="738.70" y1="410.20" x2="772.40" y2="410.20" stroke="#000" stroke-width="1.5" stroke-opacity="1"/>
<line x1="738.70" y1="418.10" x2="772.40" y2="418.10" stroke="#000" stroke-width="1.5" stroke-opacity="0.7"/>
<line x1="738.70" y1="419.80" x2="772.40" y2="419.80" stroke="#000" stroke-width="1.0" stroke-opacity="0.8"/>
<line x1="755.50" y1="369.40" x2="755.50" y2="428.90" stroke="#000" stroke-width="1.4"/>
<rect x="711.30" y="431.50" width="16.00" height="11.50" rx="0" fill="#fff" stroke="#000" stroke-width="1.3"/>
<rect x="783.70" y="431.50" width="16.10" height="11.50" rx="0" fill="#fff" stroke="#000" stroke-width="1.3"/>
<circle cx="791.95" cy="437.1" r="5.6" fill="#fff" stroke="#000" stroke-width="2.2"/>
<path d="M584.0 445.1 L568.8 445.1" fill="none" stroke="#000" stroke-width="1.8" />
<line x1="568.80" y1="363.40" x2="568.80" y2="445.10" stroke="#000" stroke-width="1.0" stroke-opacity="0.9"/>
<line x1="584.00" y1="360.60" x2="584.00" y2="445.10" stroke="#000" stroke-width="1.8"/>
<path d="M565.3 360.8 L584.0 360.8" fill="none" stroke="#000" stroke-width="1.7" />
<path d="M551.9 360.9 L565.3 360.9" fill="none" stroke="#000" stroke-width="1.1" />
<path d="M551.6 363.3 L568.8 363.3" fill="none" stroke="#000" stroke-width="1.1" />
<line x1="565.30" y1="360.60" x2="565.30" y2="363.30" stroke="#000" stroke-width="1.0"/>
<path d="M552.0 360.5 Q550.9 362.1 552.0 363.7" fill="none" stroke="#000" stroke-width="1.1" />
<path d="M927.2 445.1 L942.4 445.1" fill="none" stroke="#000" stroke-width="1.8" />
<line x1="942.40" y1="363.40" x2="942.40" y2="445.10" stroke="#000" stroke-width="1.0" stroke-opacity="0.9"/>
<line x1="927.20" y1="360.60" x2="927.20" y2="445.10" stroke="#000" stroke-width="1.8"/>
<path d="M945.5 360.8 L927.2 360.8" fill="none" stroke="#000" stroke-width="1.7" />
<path d="M958.8000000000001 360.9 L945.5 360.9" fill="none" stroke="#000" stroke-width="1.1" />
<path d="M959.1 363.3 L942.4 363.3" fill="none" stroke="#000" stroke-width="1.1" />
<line x1="945.50" y1="360.60" x2="945.50" y2="363.30" stroke="#000" stroke-width="1.0"/>
<path d="M958.7 360.5 Q959.8000000000001 362.1 958.7 363.7" fill="none" stroke="#000" stroke-width="1.1" />
<line x1="527.70" y1="360.60" x2="527.70" y2="447.00" stroke="#0000ff" stroke-width="1.2"/>
<line x1="527.10" y1="360.60" x2="548.20" y2="360.60" stroke="#0000ff" stroke-width="1.1"/>
<line x1="527.10" y1="445.40" x2="564.70" y2="445.40" stroke="#0000ff" stroke-width="1.1"/>
<polygon points="527.70,360.60 529.25,367.40 526.15,367.40" fill="#0000ff"/>
<polygon points="527.70,445.40 526.15,438.60 529.25,438.60" fill="#0000ff"/>
<line x1="543.00" y1="347.00" x2="543.00" y2="384.50" stroke="#0000ff" stroke-width="1.1"/>
<line x1="542.60" y1="363.50" x2="548.20" y2="363.50" stroke="#0000ff" stroke-width="1.1"/>
<polygon points="543.00,360.60 541.60,354.20 544.40,354.20" fill="#0000ff"/>
<polygon points="543.00,363.50 544.40,369.90 541.60,369.90" fill="#0000ff"/>
<line x1="568.70" y1="450.20" x2="568.70" y2="475.00" stroke="#0000ff" stroke-width="1.1"/>
<line x1="942.50" y1="450.20" x2="942.50" y2="475.00" stroke="#0000ff" stroke-width="1.1"/>
<line x1="566.60" y1="475.00" x2="944.50" y2="475.00" stroke="#0000ff" stroke-width="1.0"/>
<polygon points="568.70,475.00 575.50,473.45 575.50,476.55" fill="#0000ff"/>
<polygon points="942.50,475.00 935.70,476.55 935.70,473.45" fill="#0000ff"/>
<text x="746.80" y="474.80" font-size="11" fill="#ff0000" textLength="16.9" lengthAdjust="spacingAndGlyphs">403</text>
<text transform="translate(527.40,408.50) rotate(-90)" font-size="11" fill="#ff0000" textLength="10.7" lengthAdjust="spacingAndGlyphs">92</text>
<text transform="translate(542.80,384.50) rotate(-90)" font-size="11" fill="#ff0000" textLength="4.5" lengthAdjust="spacingAndGlyphs">3</text>
<path d="M319.68 617.14 L327.26 614.58 L327.26 560.42 L319.68 562.99 Z" fill="#fff" stroke="#000" stroke-width="1.2" stroke-linejoin="round"/>
<path d="M224.48 574.32 L232.06 571.76 L232.06 536.94 L224.48 539.51 Z" fill="#fff" stroke="#000" stroke-width="0.8" stroke-linejoin="round"/>
<path d="M224.48 574.32 L232.06 571.76 L319.80 601.60 L312.22 604.17 Z" fill="#fff" stroke="#000" stroke-width="0.8" stroke-linejoin="round"/>
<path d="M216.79 582.14 L319.68 617.14 L319.68 562.99 L216.79 527.99 Z M312.22 573.65 L312.06 572.27 L311.61 570.92 L310.90 569.73 L310.01 568.81 L309.02 568.26 L227.68 540.60 L226.69 540.47 L225.80 540.78 L225.09 541.49 L224.64 542.53 L224.48 543.80 L224.48 570.02 L224.64 571.40 L225.09 572.76 L225.80 573.95 L226.69 574.86 L227.68 575.41 L309.02 603.08 L310.01 603.20 L310.90 602.90 L311.61 602.19 L312.06 601.14 L312.22 599.87 Z" fill="#fff" fill-rule="evenodd" stroke="none"/>
<path d="M216.79 582.14 L319.68 617.14 L319.68 562.99 L216.79 527.99 Z" fill="none" stroke="#000" stroke-width="1.4" stroke-linejoin="round"/>
<path d="M312.22 573.65 L312.06 572.27 L311.61 570.92 L310.90 569.73 L310.01 568.81 L309.02 568.26 L227.68 540.60 L226.69 540.47 L225.80 540.78 L225.09 541.49 L224.64 542.53 L224.48 543.80 L224.48 570.02 L224.64 571.40 L225.09 572.76 L225.80 573.95 L226.69 574.86 L227.68 575.41 L309.02 603.08 L310.01 603.20 L310.90 602.90 L311.61 602.19 L312.06 601.14 L312.22 599.87 Z" fill="none" stroke="#000" stroke-width="1.05" stroke-linejoin="round"/>
<line x1="216.79" y1="526.88" x2="319.68" y2="561.88" stroke="#000" stroke-width="1.7"/>
<path d="M319.68 562.99 L329.00 559.84 L329.00 557.87 L319.68 561.02 Z" fill="#fff" stroke="#000" stroke-width="0.9" stroke-linejoin="round"/>
<path d="M319.68 561.02 L329.00 557.87 L330.12 557.41 L330.96 556.88 L331.47 556.30 L331.65 555.70 L331.47 555.11 L330.95 554.53 L330.11 554.00 L328.99 553.53 L238.91 522.89 L237.54 522.50 L235.97 522.22 L234.27 522.04 L232.51 521.98 L230.74 522.04 L229.04 522.21 L227.48 522.49 L226.11 522.87 L216.79 526.02 Z" fill="#fff" stroke="#000" stroke-width="1.3" stroke-linejoin="round"/>
<path d="M221.43 580.72 L221.74 580.56 L222.00 580.31 L222.21 579.98 L222.35 579.58 L222.43 579.13 L222.44 578.65 L222.37 578.15 L222.24 577.65 L222.04 577.17 L221.79 576.73 L221.49 576.35 L221.16 576.05 L220.81 575.82 L220.44 575.69 L220.09 575.65 L219.75 575.71 Z" fill="#fff" stroke="none" stroke-width="0" />
<path d="M113.53 617.21 L221.43 580.72 L219.75 575.71 L111.85 612.21 Z" fill="#fff" stroke="none" stroke-width="0" />
<line x1="113.53" y1="617.21" x2="221.43" y2="580.72" stroke="#000" stroke-width="1.35"/>
<line x1="111.85" y1="612.21" x2="219.75" y2="575.71" stroke="#000" stroke-width="1.35"/>
<path d="M221.43 580.72 L221.74 580.56 L222.00 580.31 L222.21 579.98 L222.35 579.58 L222.43 579.13 L222.44 578.65 L222.37 578.15 L222.24 577.65 L222.04 577.17 L221.79 576.73 L221.49 576.35 L221.16 576.05 L220.81 575.82 L220.44 575.69 L220.09 575.65 L219.75 575.71" fill="none" stroke="#000" stroke-width="1.35" />
<path d="M121.85 615.46 L122.27 615.24 L122.64 614.90 L122.92 614.45 L123.12 613.90 L123.23 613.27 L123.24 612.60 L123.15 611.91 L122.97 611.22 L122.70 610.56 L122.35 609.96 L121.94 609.43 L121.48 609.00 L120.99 608.69 L120.49 608.51 L119.99 608.46 L119.52 608.55 Z" fill="#fff" stroke="none" stroke-width="0" />
<path d="M114.22 618.04 L121.85 615.46 L119.52 608.55 L111.89 611.13 Z" fill="#fff" stroke="none" stroke-width="0" />
<line x1="114.22" y1="618.04" x2="121.85" y2="615.46" stroke="#000" stroke-width="1.1"/>
<line x1="111.89" y1="611.13" x2="119.52" y2="608.55" stroke="#000" stroke-width="1.1"/>
<path d="M121.85 615.46 L122.27 615.24 L122.64 614.90 L122.92 614.45 L123.12 613.90 L123.23 613.27 L123.24 612.60 L123.15 611.91 L122.97 611.22 L122.70 610.56 L122.35 609.96 L121.94 609.43 L121.48 609.00 L120.99 608.69 L120.49 608.51 L119.99 608.46 L119.52 608.55" fill="none" stroke="#000" stroke-width="1.1" />
<path d="M115.62 615.46 L115.53 614.54 L115.28 613.62 L114.87 612.77 L114.34 612.04 L113.72 611.49 L113.06 611.15 L112.39 611.04 L111.78 611.17 L111.25 611.54 L110.84 612.11 L110.58 612.85 L110.50 613.71 L110.58 614.63 L110.84 615.55 L111.25 616.40 L111.78 617.13 L112.39 617.68 L113.06 618.02 L113.72 618.13 L114.34 618.00 L114.87 617.63 L115.28 617.06 L115.53 616.32 Z" fill="#fff" stroke="#000" stroke-width="1.1" />
<path d="M207.36 555.21 L207.67 555.05 L207.93 554.80 L208.14 554.47 L208.28 554.07 L208.36 553.62 L208.37 553.14 L208.30 552.64 L208.17 552.14 L207.98 551.66 L207.72 551.22 L207.43 550.84 L207.09 550.53 L206.74 550.31 L206.37 550.18 L206.02 550.14 L205.68 550.20 Z" fill="#fff" stroke="none" stroke-width="0" />
<path d="M113.53 586.94 L207.36 555.21 L205.68 550.20 L111.85 581.94 Z" fill="#fff" stroke="none" stroke-width="0" />
<line x1="113.53" y1="586.94" x2="207.36" y2="555.21" stroke="#000" stroke-width="1.35"/>
<line x1="111.85" y1="581.94" x2="205.68" y2="550.20" stroke="#000" stroke-width="1.35"/>
<path d="M207.36 555.21 L207.67 555.05 L207.93 554.80 L208.14 554.47 L208.28 554.07 L208.36 553.62 L208.37 553.14 L208.30 552.64 L208.17 552.14 L207.98 551.66 L207.72 551.22 L207.43 550.84 L207.09 550.53 L206.74 550.31 L206.37 550.18 L206.02 550.14 L205.68 550.20" fill="none" stroke="#000" stroke-width="1.35" />
<path d="M207.36 576.20 L207.67 576.05 L207.93 575.80 L208.14 575.47 L208.28 575.07 L208.36 574.62 L208.37 574.14 L208.30 573.63 L208.17 573.14 L207.98 572.66 L207.72 572.22 L207.43 571.84 L207.09 571.53 L206.74 571.31 L206.37 571.17 L206.02 571.14 L205.68 571.20 Z" fill="#fff" stroke="none" stroke-width="0" />
<path d="M113.53 607.94 L207.36 576.20 L205.68 571.20 L111.85 602.94 Z" fill="#fff" stroke="none" stroke-width="0" />
<line x1="113.53" y1="607.94" x2="207.36" y2="576.20" stroke="#000" stroke-width="1.35"/>
<line x1="111.85" y1="602.94" x2="205.68" y2="571.20" stroke="#000" stroke-width="1.35"/>
<path d="M207.36 576.20 L207.67 576.05 L207.93 575.80 L208.14 575.47 L208.28 575.07 L208.36 574.62 L208.37 574.14 L208.30 573.63 L208.17 573.14 L207.98 572.66 L207.72 572.22 L207.43 571.84 L207.09 571.53 L206.74 571.31 L206.37 571.17 L206.02 571.14 L205.68 571.20" fill="none" stroke="#000" stroke-width="1.35" />
<path d="M221.43 539.27 L221.74 539.11 L222.00 538.87 L222.21 538.54 L222.35 538.14 L222.43 537.69 L222.44 537.20 L222.37 536.70 L222.24 536.20 L222.04 535.73 L221.79 535.29 L221.49 534.91 L221.16 534.60 L220.81 534.38 L220.44 534.24 L220.09 534.21 L219.75 534.27 Z" fill="#fff" stroke="none" stroke-width="0" />
<path d="M127.33 571.10 L221.43 539.27 L219.75 534.27 L125.65 566.10 Z" fill="#fff" stroke="none" stroke-width="0" />
<line x1="127.33" y1="571.10" x2="221.43" y2="539.27" stroke="#000" stroke-width="1.35"/>
<line x1="125.65" y1="566.10" x2="219.75" y2="534.27" stroke="#000" stroke-width="1.35"/>
<path d="M221.43 539.27 L221.74 539.11 L222.00 538.87 L222.21 538.54 L222.35 538.14 L222.43 537.69 L222.44 537.20 L222.37 536.70 L222.24 536.20 L222.04 535.73 L221.79 535.29 L221.49 534.91 L221.16 534.60 L220.81 534.38 L220.44 534.24 L220.09 534.21 L219.75 534.27" fill="none" stroke="#000" stroke-width="1.35" />
<path d="M221.43 560.33 L221.74 560.17 L222.00 559.93 L222.21 559.60 L222.35 559.20 L222.43 558.75 L222.44 558.26 L222.37 557.76 L222.24 557.26 L222.04 556.79 L221.79 556.35 L221.49 555.97 L221.16 555.66 L220.81 555.44 L220.44 555.30 L220.09 555.27 L219.75 555.33 Z" fill="#fff" stroke="none" stroke-width="0" />
<path d="M127.33 592.16 L221.43 560.33 L219.75 555.33 L125.65 587.16 Z" fill="#fff" stroke="none" stroke-width="0" />
<line x1="127.33" y1="592.16" x2="221.43" y2="560.33" stroke="#000" stroke-width="1.35"/>
<line x1="125.65" y1="587.16" x2="219.75" y2="555.33" stroke="#000" stroke-width="1.35"/>
<path d="M221.43 560.33 L221.74 560.17 L222.00 559.93 L222.21 559.60 L222.35 559.20 L222.43 558.75 L222.44 558.26 L222.37 557.76 L222.24 557.26 L222.04 556.79 L221.79 556.35 L221.49 555.97 L221.16 555.66 L220.81 555.44 L220.44 555.30 L220.09 555.27 L219.75 555.33" fill="none" stroke="#000" stroke-width="1.35" />
<path d="M196.05 579.40 L201.09 581.12 L209.22 578.37 L209.22 542.26 L209.03 540.91 L208.48 539.62 L207.67 538.62 L206.70 538.03 L205.74 537.96 L197.61 540.71 L196.79 541.16 L196.25 542.07 L196.05 543.30 Z" fill="#fff" stroke="#000" stroke-width="1.1" stroke-linejoin="round"/>
<path d="M196.05 579.40 L201.09 581.12 L201.09 545.01 L200.90 543.66 L200.35 542.38 L199.53 541.37 L198.57 540.78 L197.61 540.71 L196.79 541.16 L196.25 542.07 L196.05 543.30 Z" fill="#fff" stroke="#000" stroke-width="1.0" stroke-linejoin="round"/>
<line x1="201.09" y1="548.33" x2="209.22" y2="545.58" stroke="#000" stroke-width="1.0"/>
<line x1="201.09" y1="553.86" x2="209.22" y2="551.11" stroke="#000" stroke-width="1.0"/>
<line x1="201.09" y1="558.58" x2="209.22" y2="555.83" stroke="#000" stroke-width="1.0"/>
<line x1="201.09" y1="563.92" x2="209.22" y2="561.17" stroke="#000" stroke-width="1.0"/>
<line x1="201.09" y1="568.71" x2="209.22" y2="565.96" stroke="#000" stroke-width="1.0"/>
<line x1="201.09" y1="573.93" x2="209.22" y2="571.18" stroke="#000" stroke-width="1.0"/>
<line x1="201.09" y1="581.12" x2="201.09" y2="545.01" stroke="#000" stroke-width="1.3"/>
<path d="M191.92 560.43 L199.00 558.03 L197.32 553.03 L190.24 555.42 Z" fill="#fff" stroke="none" stroke-width="0" />
<line x1="191.92" y1="560.43" x2="199.00" y2="558.03" stroke="#000" stroke-width="1.35"/>
<line x1="190.24" y1="555.42" x2="197.32" y2="553.03" stroke="#000" stroke-width="1.35"/>
<path d="M191.92 581.43 L199.00 579.03 L197.32 574.03 L190.24 576.42 Z" fill="#fff" stroke="none" stroke-width="0" />
<line x1="191.92" y1="581.43" x2="199.00" y2="579.03" stroke="#000" stroke-width="1.35"/>
<line x1="190.24" y1="576.42" x2="197.32" y2="574.03" stroke="#000" stroke-width="1.35"/>
<path d="M124.15 603.72 L129.19 605.44 L137.37 602.67 L137.37 566.57 L137.17 565.21 L136.63 563.93 L135.81 562.92 L134.85 562.33 L133.88 562.26 L125.71 565.03 L124.89 565.48 L124.35 566.39 L124.15 567.62 Z" fill="#fff" stroke="#000" stroke-width="1.1" stroke-linejoin="round"/>
<path d="M124.15 603.72 L129.19 605.44 L129.19 569.33 L129.00 567.97 L128.45 566.69 L127.63 565.68 L126.67 565.10 L125.71 565.03 L124.89 565.48 L124.35 566.39 L124.15 567.62 Z" fill="#fff" stroke="#000" stroke-width="1.0" stroke-linejoin="round"/>
<line x1="129.19" y1="572.65" x2="137.37" y2="569.88" stroke="#000" stroke-width="1.0"/>
<line x1="129.19" y1="578.17" x2="137.37" y2="575.41" stroke="#000" stroke-width="1.0"/>
<line x1="129.19" y1="582.90" x2="137.37" y2="580.14" stroke="#000" stroke-width="1.0"/>
<line x1="129.19" y1="588.24" x2="137.37" y2="585.48" stroke="#000" stroke-width="1.0"/>
<line x1="129.19" y1="593.03" x2="137.37" y2="590.27" stroke="#000" stroke-width="1.0"/>
<line x1="129.19" y1="598.25" x2="137.37" y2="595.49" stroke="#000" stroke-width="1.0"/>
<line x1="129.19" y1="605.44" x2="129.19" y2="569.33" stroke="#000" stroke-width="1.3"/>
<path d="M120.02 584.75 L127.10 582.35 L125.42 577.35 L118.34 579.74 Z" fill="#fff" stroke="none" stroke-width="0" />
<line x1="120.02" y1="584.75" x2="127.10" y2="582.35" stroke="#000" stroke-width="1.35"/>
<line x1="118.34" y1="579.74" x2="125.42" y2="577.35" stroke="#000" stroke-width="1.35"/>
<path d="M120.02 605.75 L127.10 603.35 L125.42 598.35 L118.34 600.74 Z" fill="#fff" stroke="none" stroke-width="0" />
<line x1="120.02" y1="605.75" x2="127.10" y2="603.35" stroke="#000" stroke-width="1.35"/>
<line x1="118.34" y1="600.74" x2="125.42" y2="598.35" stroke="#000" stroke-width="1.35"/>
<path d="M209.53 576.32 L217.52 573.61 L318.26 607.88 L310.27 610.59 Z" fill="#fff" stroke="#000" stroke-width="0.9" stroke-linejoin="round"/>
<path d="M209.53 583.81 L310.27 618.08 L310.27 610.59 L209.53 576.32 Z" fill="#fff" stroke="#000" stroke-width="0.9" stroke-linejoin="round"/>
<path d="M310.27 618.08 L318.26 615.37 L318.26 607.88 L310.27 610.59 Z" fill="#fff" stroke="#000" stroke-width="0.9" stroke-linejoin="round"/>
<path d="M110.36 609.86 L117.99 607.28 L218.73 641.55 L211.10 644.13 Z" fill="#fff" stroke="#000" stroke-width="0.9" stroke-linejoin="round"/>
<path d="M110.36 617.35 L211.10 651.62 L211.10 644.13 L110.36 609.86 Z" fill="#fff" stroke="#000" stroke-width="0.9" stroke-linejoin="round"/>
<path d="M211.10 651.62 L218.73 649.04 L218.73 641.55 L211.10 644.13 Z" fill="#fff" stroke="#000" stroke-width="0.9" stroke-linejoin="round"/>
<path d="M227.58 583.06 L227.89 582.90 L228.15 582.65 L228.36 582.32 L228.50 581.92 L228.58 581.47 L228.59 580.99 L228.53 580.49 L228.39 579.99 L228.20 579.51 L227.95 579.08 L227.65 578.69 L227.31 578.39 L226.96 578.16 L226.60 578.03 L226.24 577.99 L225.90 578.05 Z" fill="#fff" stroke="none" stroke-width="0" />
<path d="M112.47 621.99 L227.58 583.06 L225.90 578.05 L110.79 616.99 Z" fill="#fff" stroke="none" stroke-width="0" />
<line x1="112.47" y1="621.99" x2="227.58" y2="583.06" stroke="#000" stroke-width="1.35"/>
<line x1="110.79" y1="616.99" x2="225.90" y2="578.05" stroke="#000" stroke-width="1.35"/>
<path d="M227.58 583.06 L227.89 582.90 L228.15 582.65 L228.36 582.32 L228.50 581.92 L228.58 581.47 L228.59 580.99 L228.53 580.49 L228.39 579.99 L228.20 579.51 L227.95 579.08 L227.65 578.69 L227.31 578.39 L226.96 578.16 L226.60 578.03 L226.24 577.99 L225.90 578.05" fill="none" stroke="#000" stroke-width="1.35" />
<path d="M235.12 585.38 L235.43 585.22 L235.69 584.97 L235.90 584.64 L236.04 584.24 L236.12 583.79 L236.13 583.31 L236.07 582.81 L235.93 582.31 L235.74 581.83 L235.49 581.39 L235.19 581.01 L234.85 580.70 L234.50 580.48 L234.14 580.35 L233.78 580.31 L233.44 580.37 Z" fill="#fff" stroke="none" stroke-width="0" />
<path d="M127.59 621.74 L235.12 585.38 L233.44 580.37 L125.91 616.74 Z" fill="#fff" stroke="none" stroke-width="0" />
<line x1="127.59" y1="621.74" x2="235.12" y2="585.38" stroke="#000" stroke-width="1.35"/>
<line x1="125.91" y1="616.74" x2="233.44" y2="580.37" stroke="#000" stroke-width="1.35"/>
<path d="M235.12 585.38 L235.43 585.22 L235.69 584.97 L235.90 584.64 L236.04 584.24 L236.12 583.79 L236.13 583.31 L236.07 582.81 L235.93 582.31 L235.74 581.83 L235.49 581.39 L235.19 581.01 L234.85 580.70 L234.50 580.48 L234.14 580.35 L233.78 580.31 L233.44 580.37" fill="none" stroke="#000" stroke-width="1.35" />
<path d="M241.24 587.70 L241.55 587.55 L241.81 587.30 L242.02 586.97 L242.16 586.57 L242.24 586.12 L242.25 585.64 L242.18 585.13 L242.05 584.64 L241.85 584.16 L241.60 583.72 L241.30 583.34 L240.97 583.03 L240.62 582.81 L240.25 582.67 L239.90 582.64 L239.56 582.70 Z" fill="#fff" stroke="none" stroke-width="0" />
<path d="M126.13 626.64 L241.24 587.70 L239.56 582.70 L124.44 621.63 Z" fill="#fff" stroke="none" stroke-width="0" />
<line x1="126.13" y1="626.64" x2="241.24" y2="587.70" stroke="#000" stroke-width="1.35"/>
<line x1="124.44" y1="621.63" x2="239.56" y2="582.70" stroke="#000" stroke-width="1.35"/>
<path d="M241.24 587.70 L241.55 587.55 L241.81 587.30 L242.02 586.97 L242.16 586.57 L242.24 586.12 L242.25 585.64 L242.18 585.13 L242.05 584.64 L241.85 584.16 L241.60 583.72 L241.30 583.34 L240.97 583.03 L240.62 582.81 L240.25 582.67 L239.90 582.64 L239.56 582.70" fill="none" stroke="#000" stroke-width="1.35" />
<path d="M248.90 590.06 L249.21 589.90 L249.47 589.66 L249.68 589.33 L249.83 588.93 L249.90 588.48 L249.91 587.99 L249.85 587.49 L249.71 586.99 L249.52 586.52 L249.27 586.08 L248.97 585.70 L248.63 585.39 L248.28 585.17 L247.92 585.03 L247.56 585.00 L247.22 585.06 Z" fill="#fff" stroke="none" stroke-width="0" />
<path d="M141.37 626.43 L248.90 590.06 L247.22 585.06 L139.69 621.43 Z" fill="#fff" stroke="none" stroke-width="0" />
<line x1="141.37" y1="626.43" x2="248.90" y2="590.06" stroke="#000" stroke-width="1.35"/>
<line x1="139.69" y1="621.43" x2="247.22" y2="585.06" stroke="#000" stroke-width="1.35"/>
<path d="M248.90 590.06 L249.21 589.90 L249.47 589.66 L249.68 589.33 L249.83 588.93 L249.90 588.48 L249.91 587.99 L249.85 587.49 L249.71 586.99 L249.52 586.52 L249.27 586.08 L248.97 585.70 L248.63 585.39 L248.28 585.17 L247.92 585.03 L247.56 585.00 L247.22 585.06" fill="none" stroke="#000" stroke-width="1.35" />
<path d="M255.00 592.38 L255.30 592.22 L255.56 591.98 L255.77 591.65 L255.92 591.25 L255.99 590.80 L256.00 590.32 L255.94 589.81 L255.81 589.31 L255.61 588.84 L255.36 588.40 L255.06 588.02 L254.73 587.71 L254.37 587.49 L254.01 587.35 L253.65 587.32 L253.31 587.38 Z" fill="#fff" stroke="none" stroke-width="0" />
<path d="M139.88 631.32 L255.00 592.38 L253.31 587.38 L138.20 626.31 Z" fill="#fff" stroke="none" stroke-width="0" />
<line x1="139.88" y1="631.32" x2="255.00" y2="592.38" stroke="#000" stroke-width="1.35"/>
<line x1="138.20" y1="626.31" x2="253.31" y2="587.38" stroke="#000" stroke-width="1.35"/>
<path d="M255.00 592.38 L255.30 592.22 L255.56 591.98 L255.77 591.65 L255.92 591.25 L255.99 590.80 L256.00 590.32 L255.94 589.81 L255.81 589.31 L255.61 588.84 L255.36 588.40 L255.06 588.02 L254.73 587.71 L254.37 587.49 L254.01 587.35 L253.65 587.32 L253.31 587.38" fill="none" stroke="#000" stroke-width="1.35" />
<path d="M262.63 594.73 L262.94 594.58 L263.20 594.33 L263.41 594.00 L263.56 593.60 L263.63 593.15 L263.64 592.67 L263.58 592.16 L263.44 591.67 L263.25 591.19 L263.00 590.75 L262.70 590.37 L262.37 590.06 L262.01 589.84 L261.65 589.70 L261.29 589.67 L260.95 589.73 Z" fill="#fff" stroke="none" stroke-width="0" />
<path d="M155.10 631.10 L262.63 594.73 L260.95 589.73 L153.42 626.10 Z" fill="#fff" stroke="none" stroke-width="0" />
<line x1="155.10" y1="631.10" x2="262.63" y2="594.73" stroke="#000" stroke-width="1.35"/>
<line x1="153.42" y1="626.10" x2="260.95" y2="589.73" stroke="#000" stroke-width="1.35"/>
<path d="M262.63 594.73 L262.94 594.58 L263.20 594.33 L263.41 594.00 L263.56 593.60 L263.63 593.15 L263.64 592.67 L263.58 592.16 L263.44 591.67 L263.25 591.19 L263.00 590.75 L262.70 590.37 L262.37 590.06 L262.01 589.84 L261.65 589.70 L261.29 589.67 L260.95 589.73" fill="none" stroke="#000" stroke-width="1.35" />
<path d="M268.78 597.07 L269.08 596.91 L269.34 596.66 L269.55 596.33 L269.70 595.94 L269.78 595.49 L269.78 595.00 L269.72 594.50 L269.59 594.00 L269.39 593.53 L269.14 593.09 L268.84 592.71 L268.51 592.40 L268.15 592.17 L267.79 592.04 L267.43 592.00 L267.09 592.07 Z" fill="#fff" stroke="none" stroke-width="0" />
<path d="M153.66 636.01 L268.78 597.07 L267.09 592.07 L151.98 631.00 Z" fill="#fff" stroke="none" stroke-width="0" />
<line x1="153.66" y1="636.01" x2="268.78" y2="597.07" stroke="#000" stroke-width="1.35"/>
<line x1="151.98" y1="631.00" x2="267.09" y2="592.07" stroke="#000" stroke-width="1.35"/>
<path d="M268.78 597.07 L269.08 596.91 L269.34 596.66 L269.55 596.33 L269.70 595.94 L269.78 595.49 L269.78 595.00 L269.72 594.50 L269.59 594.00 L269.39 593.53 L269.14 593.09 L268.84 592.71 L268.51 592.40 L268.15 592.17 L267.79 592.04 L267.43 592.00 L267.09 592.07" fill="none" stroke="#000" stroke-width="1.35" />
<path d="M275.55 599.13 L275.86 598.97 L276.12 598.72 L276.33 598.39 L276.47 597.99 L276.55 597.54 L276.56 597.06 L276.49 596.56 L276.36 596.06 L276.16 595.58 L275.91 595.14 L275.61 594.76 L275.28 594.46 L274.93 594.23 L274.56 594.10 L274.20 594.06 L273.87 594.12 Z" fill="#fff" stroke="none" stroke-width="0" />
<path d="M168.02 635.50 L275.55 599.13 L273.87 594.12 L166.34 630.49 Z" fill="#fff" stroke="none" stroke-width="0" />
<line x1="168.02" y1="635.50" x2="275.55" y2="599.13" stroke="#000" stroke-width="1.35"/>
<line x1="166.34" y1="630.49" x2="273.87" y2="594.12" stroke="#000" stroke-width="1.35"/>
<path d="M275.55 599.13 L275.86 598.97 L276.12 598.72 L276.33 598.39 L276.47 597.99 L276.55 597.54 L276.56 597.06 L276.49 596.56 L276.36 596.06 L276.16 595.58 L275.91 595.14 L275.61 594.76 L275.28 594.46 L274.93 594.23 L274.56 594.10 L274.20 594.06 L273.87 594.12" fill="none" stroke="#000" stroke-width="1.35" />
<path d="M282.51 601.74 L282.81 601.58 L283.07 601.33 L283.28 601.01 L283.43 600.61 L283.51 600.16 L283.51 599.67 L283.45 599.17 L283.32 598.67 L283.12 598.20 L282.87 597.76 L282.57 597.38 L282.24 597.07 L281.88 596.85 L281.52 596.71 L281.16 596.68 L280.82 596.74 Z" fill="#fff" stroke="none" stroke-width="0" />
<path d="M167.39 640.68 L282.51 601.74 L280.82 596.74 L165.71 635.67 Z" fill="#fff" stroke="none" stroke-width="0" />
<line x1="167.39" y1="640.68" x2="282.51" y2="601.74" stroke="#000" stroke-width="1.35"/>
<line x1="165.71" y1="635.67" x2="280.82" y2="596.74" stroke="#000" stroke-width="1.35"/>
<path d="M282.51 601.74 L282.81 601.58 L283.07 601.33 L283.28 601.01 L283.43 600.61 L283.51 600.16 L283.51 599.67 L283.45 599.17 L283.32 598.67 L283.12 598.20 L282.87 597.76 L282.57 597.38 L282.24 597.07 L281.88 596.85 L281.52 596.71 L281.16 596.68 L280.82 596.74" fill="none" stroke="#000" stroke-width="1.35" />
<path d="M289.28 603.80 L289.59 603.64 L289.85 603.39 L290.06 603.06 L290.20 602.66 L290.28 602.22 L290.29 601.73 L290.22 601.23 L290.09 600.73 L289.89 600.25 L289.64 599.82 L289.34 599.44 L289.01 599.13 L288.66 598.90 L288.29 598.77 L287.94 598.73 L287.60 598.79 Z" fill="#fff" stroke="none" stroke-width="0" />
<path d="M181.75 640.17 L289.28 603.80 L287.60 598.79 L180.07 635.16 Z" fill="#fff" stroke="none" stroke-width="0" />
<line x1="181.75" y1="640.17" x2="289.28" y2="603.80" stroke="#000" stroke-width="1.35"/>
<line x1="180.07" y1="635.16" x2="287.60" y2="598.79" stroke="#000" stroke-width="1.35"/>
<path d="M289.28 603.80 L289.59 603.64 L289.85 603.39 L290.06 603.06 L290.20 602.66 L290.28 602.22 L290.29 601.73 L290.22 601.23 L290.09 600.73 L289.89 600.25 L289.64 599.82 L289.34 599.44 L289.01 599.13 L288.66 598.90 L288.29 598.77 L287.94 598.73 L287.60 598.79" fill="none" stroke="#000" stroke-width="1.35" />
<path d="M296.31 606.44 L296.62 606.28 L296.88 606.03 L297.09 605.70 L297.23 605.30 L297.31 604.86 L297.32 604.37 L297.25 603.87 L297.12 603.37 L296.93 602.89 L296.67 602.46 L296.38 602.08 L296.04 601.77 L295.69 601.54 L295.33 601.41 L294.97 601.37 L294.63 601.43 Z" fill="#fff" stroke="none" stroke-width="0" />
<path d="M181.20 645.37 L296.31 606.44 L294.63 601.43 L179.52 640.37 Z" fill="#fff" stroke="none" stroke-width="0" />
<line x1="181.20" y1="645.37" x2="296.31" y2="606.44" stroke="#000" stroke-width="1.35"/>
<line x1="179.52" y1="640.37" x2="294.63" y2="601.43" stroke="#000" stroke-width="1.35"/>
<path d="M296.31 606.44 L296.62 606.28 L296.88 606.03 L297.09 605.70 L297.23 605.30 L297.31 604.86 L297.32 604.37 L297.25 603.87 L297.12 603.37 L296.93 602.89 L296.67 602.46 L296.38 602.08 L296.04 601.77 L295.69 601.54 L295.33 601.41 L294.97 601.37 L294.63 601.43" fill="none" stroke="#000" stroke-width="1.35" />
<path d="M303.06 608.49 L303.37 608.33 L303.63 608.08 L303.84 607.75 L303.98 607.35 L304.06 606.90 L304.07 606.42 L304.00 605.92 L303.87 605.42 L303.67 604.94 L303.42 604.50 L303.12 604.12 L302.79 603.81 L302.44 603.59 L302.07 603.46 L301.72 603.42 L301.38 603.48 Z" fill="#fff" stroke="none" stroke-width="0" />
<path d="M195.53 644.86 L303.06 608.49 L301.38 603.48 L193.85 639.85 Z" fill="#fff" stroke="none" stroke-width="0" />
<line x1="195.53" y1="644.86" x2="303.06" y2="608.49" stroke="#000" stroke-width="1.35"/>
<line x1="193.85" y1="639.85" x2="301.38" y2="603.48" stroke="#000" stroke-width="1.35"/>
<path d="M303.06 608.49 L303.37 608.33 L303.63 608.08 L303.84 607.75 L303.98 607.35 L304.06 606.90 L304.07 606.42 L304.00 605.92 L303.87 605.42 L303.67 604.94 L303.42 604.50 L303.12 604.12 L302.79 603.81 L302.44 603.59 L302.07 603.46 L301.72 603.42 L301.38 603.48" fill="none" stroke="#000" stroke-width="1.35" />
<path d="M309.99 611.09 L310.30 610.93 L310.56 610.69 L310.77 610.36 L310.92 609.96 L310.99 609.51 L311.00 609.02 L310.94 608.52 L310.80 608.02 L310.61 607.55 L310.36 607.11 L310.06 606.73 L309.73 606.42 L309.37 606.20 L309.01 606.06 L308.65 606.03 L308.31 606.09 Z" fill="#fff" stroke="none" stroke-width="0" />
<path d="M194.88 650.03 L309.99 611.09 L308.31 606.09 L193.20 645.02 Z" fill="#fff" stroke="none" stroke-width="0" />
<line x1="194.88" y1="650.03" x2="309.99" y2="611.09" stroke="#000" stroke-width="1.35"/>
<line x1="193.20" y1="645.02" x2="308.31" y2="606.09" stroke="#000" stroke-width="1.35"/>
<path d="M309.99 611.09 L310.30 610.93 L310.56 610.69 L310.77 610.36 L310.92 609.96 L310.99 609.51 L311.00 609.02 L310.94 608.52 L310.80 608.02 L310.61 607.55 L310.36 607.11 L310.06 606.73 L309.73 606.42 L309.37 606.20 L309.01 606.06 L308.65 606.03 L308.31 606.09" fill="none" stroke="#000" stroke-width="1.35" />
<line x1="215.71" y1="579.31" x2="223.25" y2="576.76" stroke="#0a0a0a" stroke-width="3.2"/>
<line x1="217.77" y1="578.61" x2="221.19" y2="577.46" stroke="#fff" stroke-width="1.0"/>
<line x1="222.56" y1="581.64" x2="230.10" y2="579.09" stroke="#0a0a0a" stroke-width="3.2"/>
<line x1="224.62" y1="580.95" x2="228.04" y2="579.79" stroke="#fff" stroke-width="1.0"/>
<line x1="229.39" y1="583.96" x2="236.93" y2="581.41" stroke="#0a0a0a" stroke-width="3.2"/>
<line x1="231.45" y1="583.27" x2="234.87" y2="582.11" stroke="#fff" stroke-width="1.0"/>
<line x1="236.28" y1="586.31" x2="243.82" y2="583.76" stroke="#0a0a0a" stroke-width="3.2"/>
<line x1="238.34" y1="585.61" x2="241.76" y2="584.45" stroke="#fff" stroke-width="1.0"/>
<line x1="243.16" y1="588.65" x2="250.70" y2="586.10" stroke="#0a0a0a" stroke-width="3.2"/>
<line x1="245.22" y1="587.95" x2="248.64" y2="586.79" stroke="#fff" stroke-width="1.0"/>
<line x1="250.03" y1="590.98" x2="257.56" y2="588.43" stroke="#0a0a0a" stroke-width="3.2"/>
<line x1="252.08" y1="590.29" x2="255.51" y2="589.13" stroke="#fff" stroke-width="1.0"/>
<line x1="256.92" y1="593.33" x2="264.45" y2="590.78" stroke="#0a0a0a" stroke-width="3.2"/>
<line x1="258.97" y1="592.63" x2="262.40" y2="591.47" stroke="#fff" stroke-width="1.0"/>
<line x1="263.37" y1="595.52" x2="270.91" y2="592.97" stroke="#0a0a0a" stroke-width="3.2"/>
<line x1="265.43" y1="594.83" x2="268.85" y2="593.67" stroke="#fff" stroke-width="1.0"/>
<line x1="270.24" y1="597.86" x2="277.78" y2="595.31" stroke="#0a0a0a" stroke-width="3.2"/>
<line x1="272.29" y1="597.16" x2="275.72" y2="596.00" stroke="#fff" stroke-width="1.0"/>
<line x1="277.10" y1="600.19" x2="284.64" y2="597.64" stroke="#0a0a0a" stroke-width="3.2"/>
<line x1="279.16" y1="599.50" x2="282.59" y2="598.34" stroke="#fff" stroke-width="1.0"/>
<line x1="284.01" y1="602.54" x2="291.54" y2="599.99" stroke="#0a0a0a" stroke-width="3.2"/>
<line x1="286.06" y1="601.85" x2="289.49" y2="600.69" stroke="#fff" stroke-width="1.0"/>
<line x1="290.90" y1="604.89" x2="298.43" y2="602.34" stroke="#0a0a0a" stroke-width="3.2"/>
<line x1="292.95" y1="604.19" x2="296.38" y2="603.03" stroke="#fff" stroke-width="1.0"/>
<line x1="297.74" y1="607.21" x2="305.27" y2="604.66" stroke="#0a0a0a" stroke-width="3.2"/>
<line x1="299.79" y1="606.52" x2="303.22" y2="605.36" stroke="#fff" stroke-width="1.0"/>
<line x1="304.64" y1="609.56" x2="312.18" y2="607.01" stroke="#0a0a0a" stroke-width="3.2"/>
<line x1="306.70" y1="608.87" x2="310.12" y2="607.71" stroke="#fff" stroke-width="1.0"/>
<line x1="116.54" y1="612.85" x2="123.71" y2="610.43" stroke="#0a0a0a" stroke-width="3.2"/>
<line x1="118.59" y1="612.16" x2="121.65" y2="611.12" stroke="#fff" stroke-width="1.0"/>
<line x1="123.39" y1="615.18" x2="130.56" y2="612.76" stroke="#0a0a0a" stroke-width="3.2"/>
<line x1="125.45" y1="614.49" x2="128.51" y2="613.45" stroke="#fff" stroke-width="1.0"/>
<line x1="130.22" y1="617.51" x2="137.39" y2="615.08" stroke="#0a0a0a" stroke-width="3.2"/>
<line x1="132.28" y1="616.81" x2="135.34" y2="615.77" stroke="#fff" stroke-width="1.0"/>
<line x1="137.11" y1="619.85" x2="144.28" y2="617.42" stroke="#0a0a0a" stroke-width="3.2"/>
<line x1="139.17" y1="619.15" x2="142.23" y2="618.12" stroke="#fff" stroke-width="1.0"/>
<line x1="143.99" y1="622.19" x2="151.16" y2="619.76" stroke="#0a0a0a" stroke-width="3.2"/>
<line x1="146.04" y1="621.49" x2="149.10" y2="620.46" stroke="#fff" stroke-width="1.0"/>
<line x1="150.85" y1="624.52" x2="158.03" y2="622.10" stroke="#0a0a0a" stroke-width="3.2"/>
<line x1="152.91" y1="623.83" x2="155.97" y2="622.79" stroke="#fff" stroke-width="1.0"/>
<line x1="157.74" y1="626.87" x2="164.92" y2="624.44" stroke="#0a0a0a" stroke-width="3.2"/>
<line x1="159.80" y1="626.17" x2="162.86" y2="625.14" stroke="#fff" stroke-width="1.0"/>
<line x1="164.20" y1="629.06" x2="171.37" y2="626.64" stroke="#0a0a0a" stroke-width="3.2"/>
<line x1="166.26" y1="628.37" x2="169.32" y2="627.33" stroke="#fff" stroke-width="1.0"/>
<line x1="171.07" y1="631.40" x2="178.24" y2="628.97" stroke="#0a0a0a" stroke-width="3.2"/>
<line x1="173.12" y1="630.71" x2="176.18" y2="629.67" stroke="#fff" stroke-width="1.0"/>
<line x1="177.93" y1="633.74" x2="185.10" y2="631.31" stroke="#0a0a0a" stroke-width="3.2"/>
<line x1="179.99" y1="633.04" x2="183.05" y2="632.01" stroke="#fff" stroke-width="1.0"/>
<line x1="184.84" y1="636.08" x2="192.01" y2="633.66" stroke="#0a0a0a" stroke-width="3.2"/>
<line x1="186.89" y1="635.39" x2="189.95" y2="634.35" stroke="#fff" stroke-width="1.0"/>
<line x1="191.73" y1="638.43" x2="198.90" y2="636.00" stroke="#0a0a0a" stroke-width="3.2"/>
<line x1="193.78" y1="637.73" x2="196.84" y2="636.70" stroke="#fff" stroke-width="1.0"/>
<line x1="198.57" y1="640.75" x2="205.74" y2="638.33" stroke="#0a0a0a" stroke-width="3.2"/>
<line x1="200.62" y1="640.06" x2="203.68" y2="639.02" stroke="#fff" stroke-width="1.0"/>
<line x1="205.47" y1="643.10" x2="212.64" y2="640.68" stroke="#0a0a0a" stroke-width="3.2"/>
<line x1="207.52" y1="642.41" x2="210.58" y2="641.37" stroke="#fff" stroke-width="1.0"/>
<path d="M316.82 613.17 L317.12 613.01 L317.38 612.76 L317.59 612.43 L317.74 612.03 L317.81 611.58 L317.82 611.10 L317.76 610.60 L317.63 610.10 L317.43 609.62 L317.18 609.18 L316.88 608.80 L316.55 608.49 L316.19 608.27 L315.83 608.13 L315.47 608.10 L315.13 608.16 Z" fill="#fff" stroke="none" stroke-width="0" />
<path d="M208.92 649.66 L316.82 613.17 L315.13 608.16 L207.24 644.65 Z" fill="#fff" stroke="none" stroke-width="0" />
<line x1="208.92" y1="649.66" x2="316.82" y2="613.17" stroke="#000" stroke-width="1.35"/>
<line x1="207.24" y1="644.65" x2="315.13" y2="608.16" stroke="#000" stroke-width="1.35"/>
<path d="M316.82 613.17 L317.12 613.01 L317.38 612.76 L317.59 612.43 L317.74 612.03 L317.81 611.58 L317.82 611.10 L317.76 610.60 L317.63 610.10 L317.43 609.62 L317.18 609.18 L316.88 608.80 L316.55 608.49 L316.19 608.27 L315.83 608.13 L315.47 608.10 L315.13 608.16" fill="none" stroke="#000" stroke-width="1.35" />
<path d="M217.24 647.91 L217.66 647.69 L218.02 647.35 L218.31 646.89 L218.51 646.34 L218.62 645.72 L218.63 645.05 L218.54 644.36 L218.36 643.67 L218.08 643.01 L217.74 642.40 L217.32 641.88 L216.86 641.45 L216.37 641.14 L215.87 640.96 L215.38 640.91 L214.91 640.99 Z" fill="#fff" stroke="none" stroke-width="0" />
<path d="M209.61 650.49 L217.24 647.91 L214.91 640.99 L207.28 643.57 Z" fill="#fff" stroke="none" stroke-width="0" />
<line x1="209.61" y1="650.49" x2="217.24" y2="647.91" stroke="#000" stroke-width="1.1"/>
<line x1="207.28" y1="643.57" x2="214.91" y2="640.99" stroke="#000" stroke-width="1.1"/>
<path d="M217.24 647.91 L217.66 647.69 L218.02 647.35 L218.31 646.89 L218.51 646.34 L218.62 645.72 L218.63 645.05 L218.54 644.36 L218.36 643.67 L218.08 643.01 L217.74 642.40 L217.32 641.88 L216.86 641.45 L216.37 641.14 L215.87 640.96 L215.38 640.91 L214.91 640.99" fill="none" stroke="#000" stroke-width="1.1" />
<path d="M211.01 647.90 L210.92 646.99 L210.66 646.07 L210.26 645.22 L209.72 644.49 L209.11 643.94 L208.44 643.59 L207.78 643.49 L207.16 643.62 L206.63 643.98 L206.22 644.56 L205.97 645.30 L205.88 646.16 L205.97 647.08 L206.22 648.00 L206.63 648.85 L207.16 649.57 L207.78 650.13 L208.44 650.47 L209.11 650.58 L209.72 650.45 L210.26 650.08 L210.66 649.51 L210.92 648.76 Z" fill="#fff" stroke="#000" stroke-width="1.1" />
<path d="M302.75 587.65 L303.05 587.50 L303.31 587.25 L303.52 586.92 L303.67 586.52 L303.75 586.07 L303.75 585.59 L303.69 585.08 L303.56 584.58 L303.36 584.11 L303.11 583.67 L302.81 583.29 L302.48 582.98 L302.12 582.76 L301.76 582.62 L301.40 582.59 L301.06 582.65 Z" fill="#fff" stroke="none" stroke-width="0" />
<path d="M208.92 619.39 L302.75 587.65 L301.06 582.65 L207.24 614.38 Z" fill="#fff" stroke="none" stroke-width="0" />
<line x1="208.92" y1="619.39" x2="302.75" y2="587.65" stroke="#000" stroke-width="1.35"/>
<line x1="207.24" y1="614.38" x2="301.06" y2="582.65" stroke="#000" stroke-width="1.35"/>
<path d="M302.75 587.65 L303.05 587.50 L303.31 587.25 L303.52 586.92 L303.67 586.52 L303.75 586.07 L303.75 585.59 L303.69 585.08 L303.56 584.58 L303.36 584.11 L303.11 583.67 L302.81 583.29 L302.48 582.98 L302.12 582.76 L301.76 582.62 L301.40 582.59 L301.06 582.65" fill="none" stroke="#000" stroke-width="1.35" />
<path d="M308.23 606.80 L308.53 606.64 L308.80 606.39 L309.00 606.06 L309.15 605.66 L309.23 605.22 L309.23 604.73 L309.17 604.23 L309.04 603.73 L308.84 603.25 L308.59 602.82 L308.29 602.44 L307.96 602.13 L307.60 601.90 L307.24 601.77 L306.88 601.73 L306.54 601.79 Z" fill="#fff" stroke="none" stroke-width="0" />
<path d="M208.92 640.39 L308.23 606.80 L306.54 601.79 L207.24 635.38 Z" fill="#fff" stroke="none" stroke-width="0" />
<line x1="208.92" y1="640.39" x2="308.23" y2="606.80" stroke="#000" stroke-width="1.35"/>
<line x1="207.24" y1="635.38" x2="306.54" y2="601.79" stroke="#000" stroke-width="1.35"/>
<path d="M308.23 606.80 L308.53 606.64 L308.80 606.39 L309.00 606.06 L309.15 605.66 L309.23 605.22 L309.23 604.73 L309.17 604.23 L309.04 603.73 L308.84 603.25 L308.59 602.82 L308.29 602.44 L307.96 602.13 L307.60 601.90 L307.24 601.77 L306.88 601.73 L306.54 601.79" fill="none" stroke="#000" stroke-width="1.35" />
<path d="M316.82 571.72 L317.12 571.56 L317.38 571.31 L317.59 570.98 L317.74 570.59 L317.81 570.14 L317.82 569.65 L317.76 569.15 L317.63 568.65 L317.43 568.17 L317.18 567.74 L316.88 567.36 L316.55 567.05 L316.19 566.82 L315.83 566.69 L315.47 566.65 L315.13 566.72 Z" fill="#fff" stroke="none" stroke-width="0" />
<path d="M222.71 603.55 L316.82 571.72 L315.13 566.72 L221.03 598.54 Z" fill="#fff" stroke="none" stroke-width="0" />
<line x1="222.71" y1="603.55" x2="316.82" y2="571.72" stroke="#000" stroke-width="1.35"/>
<line x1="221.03" y1="598.54" x2="315.13" y2="566.72" stroke="#000" stroke-width="1.35"/>
<path d="M316.82 571.72 L317.12 571.56 L317.38 571.31 L317.59 570.98 L317.74 570.59 L317.81 570.14 L317.82 569.65 L317.76 569.15 L317.63 568.65 L317.43 568.17 L317.18 567.74 L316.88 567.36 L316.55 567.05 L316.19 566.82 L315.83 566.69 L315.47 566.65 L315.13 566.72" fill="none" stroke="#000" stroke-width="1.35" />
<path d="M316.82 592.78 L317.12 592.62 L317.38 592.37 L317.59 592.04 L317.74 591.65 L317.81 591.20 L317.82 590.71 L317.76 590.21 L317.63 589.71 L317.43 589.23 L317.18 588.80 L316.88 588.42 L316.55 588.11 L316.19 587.88 L315.83 587.75 L315.47 587.71 L315.13 587.78 Z" fill="#fff" stroke="none" stroke-width="0" />
<path d="M222.71 624.61 L316.82 592.78 L315.13 587.78 L221.03 619.60 Z" fill="#fff" stroke="none" stroke-width="0" />
<line x1="222.71" y1="624.61" x2="316.82" y2="592.78" stroke="#000" stroke-width="1.35"/>
<line x1="221.03" y1="619.60" x2="315.13" y2="587.78" stroke="#000" stroke-width="1.35"/>
<path d="M316.82 592.78 L317.12 592.62 L317.38 592.37 L317.59 592.04 L317.74 591.65 L317.81 591.20 L317.82 590.71 L317.76 590.21 L317.63 589.71 L317.43 589.23 L317.18 588.80 L316.88 588.42 L316.55 588.11 L316.19 587.88 L315.83 587.75 L315.47 587.71 L315.13 587.78" fill="none" stroke="#000" stroke-width="1.35" />
<path d="M291.07 611.73 L296.11 613.44 L304.24 610.69 L304.24 574.59 L304.05 573.23 L303.50 571.95 L302.68 570.94 L301.72 570.35 L300.76 570.28 L292.63 573.03 L291.81 573.49 L291.26 574.40 L291.07 575.62 Z" fill="#fff" stroke="#000" stroke-width="1.1" stroke-linejoin="round"/>
<path d="M291.07 611.73 L296.11 613.44 L296.11 577.34 L295.92 575.98 L295.37 574.70 L294.55 573.69 L293.59 573.10 L292.63 573.03 L291.81 573.49 L291.26 574.40 L291.07 575.62 Z" fill="#fff" stroke="#000" stroke-width="1.0" stroke-linejoin="round"/>
<line x1="296.11" y1="580.65" x2="304.24" y2="577.90" stroke="#000" stroke-width="1.0"/>
<line x1="296.11" y1="586.18" x2="304.24" y2="583.43" stroke="#000" stroke-width="1.0"/>
<line x1="296.11" y1="590.91" x2="304.24" y2="588.16" stroke="#000" stroke-width="1.0"/>
<line x1="296.11" y1="596.25" x2="304.24" y2="593.50" stroke="#000" stroke-width="1.0"/>
<line x1="296.11" y1="601.04" x2="304.24" y2="598.29" stroke="#000" stroke-width="1.0"/>
<line x1="296.11" y1="606.26" x2="304.24" y2="603.51" stroke="#000" stroke-width="1.0"/>
<line x1="296.11" y1="613.44" x2="296.11" y2="577.34" stroke="#000" stroke-width="1.3"/>
<path d="M287.31 592.88 L294.39 590.48 L292.70 585.48 L285.62 587.87 Z" fill="#fff" stroke="none" stroke-width="0" />
<line x1="287.31" y1="592.88" x2="294.39" y2="590.48" stroke="#000" stroke-width="1.35"/>
<line x1="285.62" y1="587.87" x2="292.70" y2="585.48" stroke="#000" stroke-width="1.35"/>
<path d="M287.31 613.87 L294.39 611.48 L292.70 606.48 L285.62 608.87 Z" fill="#fff" stroke="none" stroke-width="0" />
<line x1="287.31" y1="613.87" x2="294.39" y2="611.48" stroke="#000" stroke-width="1.35"/>
<line x1="285.62" y1="608.87" x2="292.70" y2="606.48" stroke="#000" stroke-width="1.35"/>
<path d="M219.17 636.05 L224.21 637.76 L232.38 634.99 L232.38 598.89 L232.19 597.53 L231.65 596.25 L230.83 595.24 L229.87 594.66 L228.90 594.59 L220.73 597.35 L219.91 597.81 L219.36 598.72 L219.17 599.94 Z" fill="#fff" stroke="#000" stroke-width="1.1" stroke-linejoin="round"/>
<path d="M219.17 636.05 L224.21 637.76 L224.21 601.66 L224.02 600.30 L223.47 599.02 L222.65 598.01 L221.69 597.42 L220.73 597.35 L219.91 597.81 L219.36 598.72 L219.17 599.94 Z" fill="#fff" stroke="#000" stroke-width="1.0" stroke-linejoin="round"/>
<line x1="224.21" y1="604.97" x2="232.38" y2="602.21" stroke="#000" stroke-width="1.0"/>
<line x1="224.21" y1="610.50" x2="232.38" y2="607.73" stroke="#000" stroke-width="1.0"/>
<line x1="224.21" y1="615.22" x2="232.38" y2="612.46" stroke="#000" stroke-width="1.0"/>
<line x1="224.21" y1="620.57" x2="232.38" y2="617.80" stroke="#000" stroke-width="1.0"/>
<line x1="224.21" y1="625.36" x2="232.38" y2="622.59" stroke="#000" stroke-width="1.0"/>
<line x1="224.21" y1="630.57" x2="232.38" y2="627.81" stroke="#000" stroke-width="1.0"/>
<line x1="224.21" y1="637.76" x2="224.21" y2="601.66" stroke="#000" stroke-width="1.3"/>
<path d="M215.41 617.19 L222.49 614.80 L220.80 609.80 L213.72 612.19 Z" fill="#fff" stroke="none" stroke-width="0" />
<line x1="215.41" y1="617.19" x2="222.49" y2="614.80" stroke="#000" stroke-width="1.35"/>
<line x1="213.72" y1="612.19" x2="220.80" y2="609.80" stroke="#000" stroke-width="1.35"/>
<path d="M215.41 638.19 L222.49 635.80 L220.80 630.79 L213.72 633.19 Z" fill="#fff" stroke="none" stroke-width="0" />
<line x1="215.41" y1="638.19" x2="222.49" y2="635.80" stroke="#000" stroke-width="1.35"/>
<line x1="213.72" y1="633.19" x2="220.80" y2="630.79" stroke="#000" stroke-width="1.35"/>
<path d="M304.59 612.16 L311.46 614.50 L313.37 608.82 L306.50 606.49 Z" fill="#fff" stroke="none" stroke-width="0" />
<line x1="304.59" y1="612.16" x2="311.46" y2="614.50" stroke="#000" stroke-width="1.2"/>
<line x1="306.50" y1="606.49" x2="313.37" y2="608.82" stroke="#000" stroke-width="1.2"/>
<path d="M314.51 610.95 L314.44 610.24 L314.23 609.63 L313.90 609.16 L313.46 608.86 L312.96 608.75 L312.41 608.84 L311.87 609.12 L311.36 609.57 L310.93 610.17 L310.59 610.86 L310.38 611.62 L310.31 612.37 L310.38 613.08 L310.59 613.69 L310.93 614.16 L311.36 614.46 L311.87 614.57 L312.41 614.49 L312.96 614.21 L313.46 613.75 L313.90 613.16 L314.23 612.46 L314.44 611.71 Z" fill="#fff" stroke="#000" stroke-width="1.2" />
<path d="M310.71 615.21 L318.49 617.86 L320.98 610.45 L313.20 607.80 Z" fill="#111" stroke="none" stroke-width="0" />
<line x1="310.71" y1="615.21" x2="318.49" y2="617.86" stroke="#000" stroke-width="1.9"/>
<line x1="313.20" y1="607.80" x2="320.98" y2="610.45" stroke="#000" stroke-width="1.9"/>
<path d="M322.48 613.23 L322.38 612.30 L322.11 611.51 L321.67 610.89 L321.11 610.50 L320.45 610.35 L319.74 610.47 L319.03 610.83 L318.37 611.43 L317.80 612.20 L317.36 613.11 L317.09 614.09 L317.00 615.08 L317.09 616.00 L317.36 616.80 L317.80 617.41 L318.37 617.81 L319.03 617.95 L319.74 617.84 L320.45 617.47 L321.11 616.88 L321.67 616.10 L322.11 615.19 L322.38 614.21 Z" fill="#fff" stroke="#000" stroke-width="1.9" />
<path d="M204.20 656.20 L211.78 653.64 L211.78 599.48 L204.20 602.05 Z" fill="#fff" stroke="#000" stroke-width="1.2" stroke-linejoin="round"/>
<path d="M109.00 613.38 L116.58 610.81 L116.58 576.00 L109.00 578.56 Z" fill="#fff" stroke="#000" stroke-width="0.8" stroke-linejoin="round"/>
<path d="M109.00 613.38 L116.58 610.81 L204.32 640.66 L196.74 643.23 Z" fill="#fff" stroke="#000" stroke-width="0.8" stroke-linejoin="round"/>
<line x1="120.88" y1="611.29" x2="124.72" y2="612.60" stroke="#000" stroke-width="2.2"/>
<line x1="127.70" y1="613.61" x2="131.55" y2="614.92" stroke="#000" stroke-width="2.2"/>
<line x1="134.59" y1="615.96" x2="138.44" y2="617.27" stroke="#000" stroke-width="2.2"/>
<line x1="141.47" y1="618.30" x2="145.32" y2="619.61" stroke="#000" stroke-width="2.2"/>
<line x1="148.34" y1="620.63" x2="152.18" y2="621.94" stroke="#000" stroke-width="2.2"/>
<line x1="155.23" y1="622.98" x2="159.07" y2="624.28" stroke="#000" stroke-width="2.2"/>
<line x1="161.69" y1="625.17" x2="165.53" y2="626.48" stroke="#000" stroke-width="2.2"/>
<line x1="168.55" y1="627.51" x2="172.40" y2="628.82" stroke="#000" stroke-width="2.2"/>
<line x1="175.42" y1="629.84" x2="179.26" y2="631.15" stroke="#000" stroke-width="2.2"/>
<line x1="182.32" y1="632.19" x2="186.16" y2="633.50" stroke="#000" stroke-width="2.2"/>
<line x1="189.21" y1="634.54" x2="193.05" y2="635.84" stroke="#000" stroke-width="2.2"/>
<line x1="196.05" y1="636.86" x2="199.89" y2="638.17" stroke="#000" stroke-width="2.2"/>
<path d="M101.31 621.20 L204.20 656.20 L204.20 602.05 L101.31 567.05 Z M196.74 612.71 L196.58 611.33 L196.13 609.98 L195.42 608.78 L194.53 607.87 L193.54 607.32 L112.20 579.65 L111.21 579.53 L110.32 579.83 L109.61 580.54 L109.16 581.59 L109.00 582.86 L109.00 609.08 L109.16 610.46 L109.61 611.81 L110.32 613.01 L111.21 613.92 L112.20 614.47 L193.54 642.14 L194.53 642.26 L195.42 641.96 L196.13 641.25 L196.58 640.20 L196.74 638.93 Z" fill="#fff" fill-rule="evenodd" stroke="none"/>
<path d="M101.31 621.20 L204.20 656.20 L204.20 602.05 L101.31 567.05 Z" fill="none" stroke="#000" stroke-width="1.9" stroke-linejoin="round"/>
<path d="M196.74 612.71 L196.58 611.33 L196.13 609.98 L195.42 608.78 L194.53 607.87 L193.54 607.32 L112.20 579.65 L111.21 579.53 L110.32 579.83 L109.61 580.54 L109.16 581.59 L109.00 582.86 L109.00 609.08 L109.16 610.46 L109.61 611.81 L110.32 613.01 L111.21 613.92 L112.20 614.47 L193.54 642.14 L194.53 642.26 L195.42 641.96 L196.13 641.25 L196.58 640.20 L196.74 638.93 Z" fill="none" stroke="#000" stroke-width="1.5" stroke-linejoin="round"/>
<path d="M122.38 623.20 L126.49 621.81 L125.00 617.36 L120.89 618.75 Z" fill="#fff" stroke="none" stroke-width="0" />
<line x1="122.38" y1="623.20" x2="126.49" y2="621.81" stroke="#000" stroke-width="0.8"/>
<line x1="120.89" y1="618.75" x2="125.00" y2="617.36" stroke="#000" stroke-width="0.8"/>
<path d="M136.16 627.89 L140.27 626.49 L138.78 622.05 L134.67 623.44 Z" fill="#fff" stroke="none" stroke-width="0" />
<line x1="136.16" y1="627.89" x2="140.27" y2="626.49" stroke="#000" stroke-width="0.8"/>
<line x1="134.67" y1="623.44" x2="138.78" y2="622.05" stroke="#000" stroke-width="0.8"/>
<path d="M149.89 632.56 L154.01 631.17 L152.51 626.72 L148.40 628.11 Z" fill="#fff" stroke="none" stroke-width="0" />
<line x1="149.89" y1="632.56" x2="154.01" y2="631.17" stroke="#000" stroke-width="0.8"/>
<line x1="148.40" y1="628.11" x2="152.51" y2="626.72" stroke="#000" stroke-width="0.8"/>
<path d="M162.81 636.95 L166.92 635.56 L165.42 631.11 L161.31 632.50 Z" fill="#fff" stroke="none" stroke-width="0" />
<line x1="162.81" y1="636.95" x2="166.92" y2="635.56" stroke="#000" stroke-width="0.8"/>
<line x1="161.31" y1="632.50" x2="165.42" y2="631.11" stroke="#000" stroke-width="0.8"/>
<path d="M176.54 641.62 L180.65 640.23 L179.15 635.78 L175.04 637.17 Z" fill="#fff" stroke="none" stroke-width="0" />
<line x1="176.54" y1="641.62" x2="180.65" y2="640.23" stroke="#000" stroke-width="0.8"/>
<line x1="175.04" y1="637.17" x2="179.15" y2="635.78" stroke="#000" stroke-width="0.8"/>
<path d="M190.32 646.31 L194.43 644.92 L192.94 640.47 L188.82 641.86 Z" fill="#fff" stroke="none" stroke-width="0" />
<line x1="190.32" y1="646.31" x2="194.43" y2="644.92" stroke="#000" stroke-width="0.8"/>
<line x1="188.82" y1="641.86" x2="192.94" y2="640.47" stroke="#000" stroke-width="0.8"/>
<path d="M106.02 589.72 L109.22 588.64 L107.39 583.20 L104.20 584.28 Z" fill="#fff" stroke="none" stroke-width="0" />
<line x1="106.02" y1="589.72" x2="109.22" y2="588.64" stroke="#000" stroke-width="1.0"/>
<line x1="104.20" y1="584.28" x2="107.39" y2="583.20" stroke="#000" stroke-width="1.0"/>
<path d="M107.31 587.75 L107.23 586.96 L107.01 586.18 L106.66 585.45 L106.21 584.82 L105.68 584.35 L105.11 584.06 L104.54 583.96 L104.01 584.08 L103.56 584.39 L103.21 584.88 L102.99 585.52 L102.91 586.26 L102.99 587.04 L103.21 587.83 L103.56 588.56 L104.01 589.18 L104.54 589.66 L105.11 589.95 L105.68 590.04 L106.21 589.93 L106.66 589.62 L107.01 589.12 L107.23 588.49 Z" fill="#fff" stroke="#000" stroke-width="1.1" />
<path d="M106.02 610.72 L109.22 609.64 L107.39 604.20 L104.20 605.28 Z" fill="#fff" stroke="none" stroke-width="0" />
<line x1="106.02" y1="610.72" x2="109.22" y2="609.64" stroke="#000" stroke-width="1.0"/>
<line x1="104.20" y1="605.28" x2="107.39" y2="604.20" stroke="#000" stroke-width="1.0"/>
<path d="M107.31 608.75 L107.23 607.96 L107.01 607.18 L106.66 606.45 L106.21 605.82 L105.68 605.35 L105.11 605.05 L104.54 604.96 L104.01 605.08 L103.56 605.39 L103.21 605.88 L102.99 606.52 L102.91 607.25 L102.99 608.04 L103.21 608.83 L103.56 609.56 L104.01 610.18 L104.54 610.66 L105.11 610.95 L105.68 611.04 L106.21 610.93 L106.66 610.61 L107.01 610.12 L107.23 609.49 Z" fill="#fff" stroke="#000" stroke-width="1.1" />
<path d="M201.41 622.17 L204.61 621.09 L202.78 615.65 L199.58 616.73 Z" fill="#fff" stroke="none" stroke-width="0" />
<line x1="201.41" y1="622.17" x2="204.61" y2="621.09" stroke="#000" stroke-width="1.0"/>
<line x1="199.58" y1="616.73" x2="202.78" y2="615.65" stroke="#000" stroke-width="1.0"/>
<path d="M202.69 620.20 L202.62 619.41 L202.40 618.62 L202.05 617.90 L201.59 617.27 L201.06 616.80 L200.49 616.50 L199.93 616.41 L199.40 616.52 L198.94 616.84 L198.59 617.33 L198.37 617.97 L198.30 618.70 L198.37 619.49 L198.59 620.28 L198.94 621.01 L199.40 621.63 L199.93 622.10 L200.49 622.40 L201.06 622.49 L201.59 622.38 L202.05 622.06 L202.40 621.57 L202.62 620.94 Z" fill="#fff" stroke="#000" stroke-width="1.1" />
<path d="M201.41 643.17 L204.61 642.09 L202.78 636.65 L199.58 637.73 Z" fill="#fff" stroke="none" stroke-width="0" />
<line x1="201.41" y1="643.17" x2="204.61" y2="642.09" stroke="#000" stroke-width="1.0"/>
<line x1="199.58" y1="637.73" x2="202.78" y2="636.65" stroke="#000" stroke-width="1.0"/>
<path d="M202.69 641.20 L202.62 640.41 L202.40 639.62 L202.05 638.89 L201.59 638.27 L201.06 637.80 L200.49 637.50 L199.93 637.41 L199.40 637.52 L198.94 637.84 L198.59 638.33 L198.37 638.97 L198.30 639.70 L198.37 640.49 L198.59 641.28 L198.94 642.01 L199.40 642.63 L199.93 643.10 L200.49 643.40 L201.06 643.49 L201.59 643.38 L202.05 643.06 L202.40 642.57 L202.62 641.93 Z" fill="#fff" stroke="#000" stroke-width="1.1" />
<path d="M117.57 620.82 L117.90 620.64 L118.18 620.37 L118.41 620.02 L118.57 619.58 L118.65 619.10 L118.66 618.57 L118.59 618.02 L118.45 617.48 L118.23 616.96 L117.96 616.49 L117.64 616.08 L117.27 615.74 L116.89 615.50 L116.49 615.35 L116.11 615.31 L115.74 615.38 Z" fill="#fff" stroke="none" stroke-width="0" />
<path d="M112.54 622.52 L117.57 620.82 L115.74 615.38 L110.71 617.08 Z" fill="#fff" stroke="none" stroke-width="0" />
<line x1="112.54" y1="622.52" x2="117.57" y2="620.82" stroke="#000" stroke-width="1.0"/>
<line x1="110.71" y1="617.08" x2="115.74" y2="615.38" stroke="#000" stroke-width="1.0"/>
<path d="M117.57 620.82 L117.90 620.64 L118.18 620.37 L118.41 620.02 L118.57 619.58 L118.65 619.10 L118.66 618.57 L118.59 618.02 L118.45 617.48 L118.23 616.96 L117.96 616.49 L117.64 616.08 L117.27 615.74 L116.89 615.50 L116.49 615.35 L116.11 615.31 L115.74 615.38" fill="none" stroke="#000" stroke-width="1.0" />
<path d="M113.82 620.54 L113.75 619.76 L113.53 618.97 L113.18 618.24 L112.73 617.62 L112.20 617.14 L111.63 616.85 L111.06 616.76 L110.53 616.87 L110.07 617.19 L109.73 617.68 L109.51 618.31 L109.43 619.05 L109.51 619.84 L109.73 620.62 L110.07 621.35 L110.53 621.98 L111.06 622.45 L111.63 622.74 L112.20 622.84 L112.73 622.72 L113.18 622.41 L113.53 621.92 L113.75 621.28 Z" fill="#fff" stroke="#000" stroke-width="1.1" />
<path d="M131.22 625.46 L131.56 625.29 L131.84 625.02 L132.07 624.66 L132.22 624.23 L132.31 623.74 L132.32 623.21 L132.25 622.67 L132.10 622.13 L131.89 621.61 L131.62 621.13 L131.29 620.72 L130.93 620.39 L130.55 620.14 L130.15 620.00 L129.76 619.96 L129.40 620.03 Z" fill="#fff" stroke="none" stroke-width="0" />
<path d="M126.20 627.16 L131.22 625.46 L129.40 620.03 L124.37 621.73 Z" fill="#fff" stroke="none" stroke-width="0" />
<line x1="126.20" y1="627.16" x2="131.22" y2="625.46" stroke="#000" stroke-width="1.0"/>
<line x1="124.37" y1="621.73" x2="129.40" y2="620.03" stroke="#000" stroke-width="1.0"/>
<path d="M131.22 625.46 L131.56 625.29 L131.84 625.02 L132.07 624.66 L132.22 624.23 L132.31 623.74 L132.32 623.21 L132.25 622.67 L132.10 622.13 L131.89 621.61 L131.62 621.13 L131.29 620.72 L130.93 620.39 L130.55 620.14 L130.15 620.00 L129.76 619.96 L129.40 620.03" fill="none" stroke="#000" stroke-width="1.0" />
<path d="M127.48 625.19 L127.41 624.40 L127.19 623.62 L126.84 622.89 L126.38 622.26 L125.85 621.79 L125.28 621.50 L124.72 621.40 L124.19 621.52 L123.73 621.83 L123.38 622.32 L123.16 622.96 L123.09 623.70 L123.16 624.48 L123.38 625.27 L123.73 626.00 L124.19 626.62 L124.72 627.10 L125.28 627.39 L125.85 627.48 L126.38 627.37 L126.84 627.06 L127.19 626.56 L127.41 625.93 Z" fill="#fff" stroke="#000" stroke-width="1.1" />
<path d="M144.98 630.14 L145.31 629.97 L145.60 629.70 L145.82 629.34 L145.98 628.91 L146.07 628.42 L146.07 627.89 L146.00 627.35 L145.86 626.81 L145.65 626.29 L145.37 625.81 L145.05 625.40 L144.69 625.07 L144.30 624.82 L143.91 624.68 L143.52 624.64 L143.15 624.70 Z" fill="#fff" stroke="none" stroke-width="0" />
<path d="M139.95 631.84 L144.98 630.14 L143.15 624.70 L138.13 626.40 Z" fill="#fff" stroke="none" stroke-width="0" />
<line x1="139.95" y1="631.84" x2="144.98" y2="630.14" stroke="#000" stroke-width="1.0"/>
<line x1="138.13" y1="626.40" x2="143.15" y2="624.70" stroke="#000" stroke-width="1.0"/>
<path d="M144.98 630.14 L145.31 629.97 L145.60 629.70 L145.82 629.34 L145.98 628.91 L146.07 628.42 L146.07 627.89 L146.00 627.35 L145.86 626.81 L145.65 626.29 L145.37 625.81 L145.05 625.40 L144.69 625.07 L144.30 624.82 L143.91 624.68 L143.52 624.64 L143.15 624.70" fill="none" stroke="#000" stroke-width="1.0" />
<path d="M141.24 629.87 L141.16 629.08 L140.94 628.30 L140.59 627.57 L140.14 626.94 L139.61 626.47 L139.04 626.18 L138.47 626.08 L137.94 626.20 L137.49 626.51 L137.14 627.00 L136.92 627.64 L136.84 628.38 L136.92 629.16 L137.14 629.95 L137.49 630.68 L137.94 631.30 L138.47 631.78 L139.04 632.07 L139.61 632.16 L140.14 632.05 L140.59 631.74 L140.94 631.24 L141.16 630.61 Z" fill="#fff" stroke="#000" stroke-width="1.1" />
<path d="M158.76 634.83 L159.09 634.66 L159.38 634.39 L159.60 634.03 L159.76 633.60 L159.85 633.11 L159.85 632.58 L159.78 632.04 L159.64 631.49 L159.43 630.98 L159.15 630.50 L158.83 630.09 L158.47 629.75 L158.08 629.51 L157.69 629.36 L157.30 629.32 L156.93 629.39 Z" fill="#fff" stroke="none" stroke-width="0" />
<path d="M153.74 636.53 L158.76 634.83 L156.93 629.39 L151.91 631.09 Z" fill="#fff" stroke="none" stroke-width="0" />
<line x1="153.74" y1="636.53" x2="158.76" y2="634.83" stroke="#000" stroke-width="1.0"/>
<line x1="151.91" y1="631.09" x2="156.93" y2="629.39" stroke="#000" stroke-width="1.0"/>
<path d="M158.76 634.83 L159.09 634.66 L159.38 634.39 L159.60 634.03 L159.76 633.60 L159.85 633.11 L159.85 632.58 L159.78 632.04 L159.64 631.49 L159.43 630.98 L159.15 630.50 L158.83 630.09 L158.47 629.75 L158.08 629.51 L157.69 629.36 L157.30 629.32 L156.93 629.39" fill="none" stroke="#000" stroke-width="1.0" />
<path d="M155.02 634.56 L154.94 633.77 L154.72 632.98 L154.37 632.25 L153.92 631.63 L153.39 631.16 L152.82 630.86 L152.25 630.77 L151.72 630.88 L151.27 631.20 L150.92 631.69 L150.70 632.33 L150.62 633.06 L150.70 633.85 L150.92 634.64 L151.27 635.37 L151.72 635.99 L152.25 636.46 L152.82 636.76 L153.39 636.85 L153.92 636.74 L154.37 636.42 L154.72 635.93 L154.94 635.30 Z" fill="#fff" stroke="#000" stroke-width="1.1" />
<path d="M172.49 639.50 L172.82 639.33 L173.11 639.06 L173.33 638.70 L173.49 638.27 L173.58 637.78 L173.58 637.25 L173.51 636.71 L173.37 636.17 L173.16 635.65 L172.88 635.17 L172.56 634.76 L172.20 634.42 L171.81 634.18 L171.42 634.03 L171.03 634.00 L170.66 634.06 Z" fill="#fff" stroke="none" stroke-width="0" />
<path d="M167.47 641.20 L172.49 639.50 L170.66 634.06 L165.64 635.76 Z" fill="#fff" stroke="none" stroke-width="0" />
<line x1="167.47" y1="641.20" x2="172.49" y2="639.50" stroke="#000" stroke-width="1.0"/>
<line x1="165.64" y1="635.76" x2="170.66" y2="634.06" stroke="#000" stroke-width="1.0"/>
<path d="M172.49 639.50 L172.82 639.33 L173.11 639.06 L173.33 638.70 L173.49 638.27 L173.58 637.78 L173.58 637.25 L173.51 636.71 L173.37 636.17 L173.16 635.65 L172.88 635.17 L172.56 634.76 L172.20 634.42 L171.81 634.18 L171.42 634.03 L171.03 634.00 L170.66 634.06" fill="none" stroke="#000" stroke-width="1.0" />
<path d="M168.75 639.23 L168.67 638.44 L168.45 637.66 L168.11 636.93 L167.65 636.30 L167.12 635.83 L166.55 635.53 L165.98 635.44 L165.45 635.56 L165.00 635.87 L164.65 636.36 L164.43 637.00 L164.35 637.73 L164.43 638.52 L164.65 639.31 L165.00 640.04 L165.45 640.66 L165.98 641.13 L166.55 641.43 L167.12 641.52 L167.65 641.41 L168.11 641.09 L168.45 640.60 L168.67 639.97 Z" fill="#fff" stroke="#000" stroke-width="1.1" />
<path d="M186.30 644.20 L186.63 644.02 L186.91 643.75 L187.14 643.40 L187.30 642.96 L187.38 642.48 L187.39 641.95 L187.32 641.40 L187.18 640.86 L186.96 640.34 L186.69 639.87 L186.37 639.46 L186.00 639.12 L185.62 638.88 L185.22 638.73 L184.84 638.69 L184.47 638.76 Z" fill="#fff" stroke="none" stroke-width="0" />
<path d="M181.27 645.90 L186.30 644.20 L184.47 638.76 L179.44 640.46 Z" fill="#fff" stroke="none" stroke-width="0" />
<line x1="181.27" y1="645.90" x2="186.30" y2="644.20" stroke="#000" stroke-width="1.0"/>
<line x1="179.44" y1="640.46" x2="184.47" y2="638.76" stroke="#000" stroke-width="1.0"/>
<path d="M186.30 644.20 L186.63 644.02 L186.91 643.75 L187.14 643.40 L187.30 642.96 L187.38 642.48 L187.39 641.95 L187.32 641.40 L187.18 640.86 L186.96 640.34 L186.69 639.87 L186.37 639.46 L186.00 639.12 L185.62 638.88 L185.22 638.73 L184.84 638.69 L184.47 638.76" fill="none" stroke="#000" stroke-width="1.0" />
<path d="M182.55 643.93 L182.48 643.14 L182.26 642.35 L181.91 641.62 L181.46 641.00 L180.93 640.52 L180.36 640.23 L179.79 640.14 L179.26 640.25 L178.80 640.57 L178.45 641.06 L178.23 641.69 L178.16 642.43 L178.23 643.22 L178.45 644.00 L178.80 644.73 L179.26 645.36 L179.79 645.83 L180.36 646.12 L180.93 646.22 L181.46 646.10 L181.91 645.79 L182.26 645.30 L182.48 644.66 Z" fill="#fff" stroke="#000" stroke-width="1.1" />
<path d="M199.98 648.85 L200.31 648.68 L200.59 648.41 L200.82 648.05 L200.98 647.62 L201.06 647.13 L201.07 646.60 L201.00 646.06 L200.86 645.52 L200.64 645.00 L200.37 644.52 L200.05 644.11 L199.69 643.77 L199.30 643.53 L198.91 643.39 L198.52 643.35 L198.15 643.41 Z" fill="#fff" stroke="none" stroke-width="0" />
<path d="M194.95 650.55 L199.98 648.85 L198.15 643.41 L193.12 645.11 Z" fill="#fff" stroke="none" stroke-width="0" />
<line x1="194.95" y1="650.55" x2="199.98" y2="648.85" stroke="#000" stroke-width="1.0"/>
<line x1="193.12" y1="645.11" x2="198.15" y2="643.41" stroke="#000" stroke-width="1.0"/>
<path d="M199.98 648.85 L200.31 648.68 L200.59 648.41 L200.82 648.05 L200.98 647.62 L201.06 647.13 L201.07 646.60 L201.00 646.06 L200.86 645.52 L200.64 645.00 L200.37 644.52 L200.05 644.11 L199.69 643.77 L199.30 643.53 L198.91 643.39 L198.52 643.35 L198.15 643.41" fill="none" stroke="#000" stroke-width="1.0" />
<path d="M196.24 648.58 L196.16 647.79 L195.94 647.01 L195.59 646.28 L195.14 645.65 L194.61 645.18 L194.04 644.88 L193.47 644.79 L192.94 644.91 L192.49 645.22 L192.14 645.71 L191.92 646.35 L191.84 647.08 L191.92 647.87 L192.14 648.66 L192.49 649.39 L192.94 650.01 L193.47 650.49 L194.04 650.78 L194.61 650.87 L195.14 650.76 L195.59 650.44 L195.94 649.95 L196.16 649.32 Z" fill="#fff" stroke="#000" stroke-width="1.1" />
<path d="M99.58 565.67 L98.45 566.13 L97.62 566.66 L97.10 567.24 L96.93 567.84 L97.11 568.43 L97.62 569.01 L98.46 569.54 L99.59 570.01 L189.66 600.65 L191.04 601.04 L192.60 601.32 L194.30 601.50 L196.07 601.56 L197.83 601.50 L199.53 601.33 L201.10 601.05 L202.47 600.67 L203.15 605.72 L201.78 606.10 L200.22 606.38 L198.52 606.55 L196.75 606.61 L194.99 606.55 L193.29 606.37 L191.72 606.08 L190.35 605.70 L100.27 575.06 L99.15 574.59 L98.31 574.06 L97.79 573.48 L97.62 572.88 L97.79 572.29 L98.30 571.71 L99.14 571.18 L100.26 570.72 Z" fill="#fff" stroke="#000" stroke-width="0.9" />
<line x1="105.72" y1="572.89" x2="103.81" y2="576.06" stroke="#000" stroke-width="1.25"/>
<line x1="107.57" y1="573.52" x2="105.66" y2="576.69" stroke="#000" stroke-width="1.25"/>
<line x1="109.42" y1="574.15" x2="107.51" y2="577.32" stroke="#000" stroke-width="1.25"/>
<line x1="111.27" y1="574.78" x2="109.36" y2="577.95" stroke="#000" stroke-width="1.25"/>
<line x1="113.12" y1="575.41" x2="111.21" y2="578.58" stroke="#000" stroke-width="1.25"/>
<line x1="114.97" y1="576.04" x2="113.06" y2="579.21" stroke="#000" stroke-width="1.25"/>
<line x1="116.82" y1="576.67" x2="114.91" y2="579.84" stroke="#000" stroke-width="1.25"/>
<line x1="118.67" y1="577.30" x2="116.76" y2="580.47" stroke="#000" stroke-width="1.25"/>
<line x1="120.52" y1="577.93" x2="118.61" y2="581.10" stroke="#000" stroke-width="1.25"/>
<line x1="122.37" y1="578.56" x2="120.47" y2="581.73" stroke="#000" stroke-width="1.25"/>
<line x1="124.22" y1="579.19" x2="122.32" y2="582.36" stroke="#000" stroke-width="1.25"/>
<line x1="126.07" y1="579.82" x2="124.17" y2="582.99" stroke="#000" stroke-width="1.25"/>
<line x1="127.92" y1="580.45" x2="126.02" y2="583.62" stroke="#000" stroke-width="1.25"/>
<line x1="129.77" y1="581.08" x2="127.87" y2="584.25" stroke="#000" stroke-width="1.25"/>
<line x1="131.62" y1="581.71" x2="129.72" y2="584.88" stroke="#000" stroke-width="1.25"/>
<line x1="133.48" y1="582.34" x2="131.57" y2="585.51" stroke="#000" stroke-width="1.25"/>
<line x1="135.33" y1="582.97" x2="133.42" y2="586.13" stroke="#000" stroke-width="1.25"/>
<line x1="137.18" y1="583.60" x2="135.27" y2="586.76" stroke="#000" stroke-width="1.25"/>
<line x1="139.03" y1="584.23" x2="137.12" y2="587.39" stroke="#000" stroke-width="1.25"/>
<line x1="140.88" y1="584.86" x2="138.97" y2="588.02" stroke="#000" stroke-width="1.25"/>
<line x1="142.73" y1="585.49" x2="140.82" y2="588.65" stroke="#000" stroke-width="1.25"/>
<line x1="144.58" y1="586.12" x2="142.67" y2="589.28" stroke="#000" stroke-width="1.25"/>
<line x1="146.43" y1="586.74" x2="144.52" y2="589.91" stroke="#000" stroke-width="1.25"/>
<line x1="148.28" y1="587.37" x2="146.37" y2="590.54" stroke="#000" stroke-width="1.25"/>
<line x1="150.13" y1="588.00" x2="148.23" y2="591.17" stroke="#000" stroke-width="1.25"/>
<line x1="151.98" y1="588.63" x2="150.08" y2="591.80" stroke="#000" stroke-width="1.25"/>
<line x1="153.83" y1="589.26" x2="151.93" y2="592.43" stroke="#000" stroke-width="1.25"/>
<line x1="155.68" y1="589.89" x2="153.78" y2="593.06" stroke="#000" stroke-width="1.25"/>
<line x1="157.53" y1="590.52" x2="155.63" y2="593.69" stroke="#000" stroke-width="1.25"/>
<line x1="159.38" y1="591.15" x2="157.48" y2="594.32" stroke="#000" stroke-width="1.25"/>
<line x1="161.24" y1="591.78" x2="159.33" y2="594.95" stroke="#000" stroke-width="1.25"/>
<line x1="163.09" y1="592.41" x2="161.18" y2="595.58" stroke="#000" stroke-width="1.25"/>
<line x1="164.94" y1="593.04" x2="163.03" y2="596.21" stroke="#000" stroke-width="1.25"/>
<line x1="166.79" y1="593.67" x2="164.88" y2="596.84" stroke="#000" stroke-width="1.25"/>
<line x1="168.64" y1="594.30" x2="166.73" y2="597.47" stroke="#000" stroke-width="1.25"/>
<line x1="170.49" y1="594.93" x2="168.58" y2="598.10" stroke="#000" stroke-width="1.25"/>
<line x1="172.34" y1="595.56" x2="170.43" y2="598.73" stroke="#000" stroke-width="1.25"/>
<line x1="174.19" y1="596.19" x2="172.28" y2="599.36" stroke="#000" stroke-width="1.25"/>
<line x1="176.04" y1="596.82" x2="174.13" y2="599.99" stroke="#000" stroke-width="1.25"/>
<line x1="177.89" y1="597.45" x2="175.99" y2="600.61" stroke="#000" stroke-width="1.25"/>
<line x1="179.74" y1="598.08" x2="177.84" y2="601.24" stroke="#000" stroke-width="1.25"/>
<line x1="181.59" y1="598.71" x2="179.69" y2="601.87" stroke="#000" stroke-width="1.25"/>
<line x1="183.44" y1="599.34" x2="181.54" y2="602.50" stroke="#000" stroke-width="2.3"/>
<line x1="185.29" y1="599.97" x2="183.39" y2="603.13" stroke="#000" stroke-width="2.3"/>
<line x1="187.14" y1="600.60" x2="185.24" y2="603.76" stroke="#000" stroke-width="2.3"/>
<line x1="189.00" y1="601.22" x2="187.09" y2="604.39" stroke="#000" stroke-width="2.3"/>
<line x1="190.87" y1="601.79" x2="188.94" y2="605.02" stroke="#000" stroke-width="2.3"/>
<line x1="192.79" y1="602.14" x2="190.80" y2="605.63" stroke="#000" stroke-width="2.3"/>
<line x1="194.73" y1="602.31" x2="192.70" y2="606.06" stroke="#000" stroke-width="2.3"/>
<line x1="196.69" y1="602.34" x2="194.64" y2="606.31" stroke="#000" stroke-width="2.3"/>
<line x1="198.64" y1="602.22" x2="196.59" y2="606.40" stroke="#000" stroke-width="2.3"/>
<line x1="200.57" y1="601.94" x2="198.55" y2="606.35" stroke="#000" stroke-width="2.3"/>
<path d="M202.47 602.63 L211.78 599.48 L211.78 597.52 L202.47 600.67 Z" fill="#fff" stroke="#000" stroke-width="0.9" stroke-linejoin="round"/>
<path d="M108.89 562.52 L99.58 565.67 L98.45 566.13 L97.62 566.66 L97.10 567.24 L96.93 567.84 L97.11 568.43 L97.62 569.01 L98.46 569.54 L99.59 570.01 L189.66 600.65 L191.04 601.04 L192.60 601.32 L194.30 601.50 L196.07 601.56 L197.83 601.50 L199.53 601.33 L201.10 601.05 L202.47 600.67 L211.78 597.52 Z" fill="#fff" stroke="#000" stroke-width="1.3" stroke-linejoin="round"/>
<path d="M857.79 591.27 L865.38 588.71 L865.38 534.55 L857.79 537.12 Z" fill="#fff" stroke="#000" stroke-width="1.2" stroke-linejoin="round"/>
<path d="M762.59 548.45 L770.18 545.88 L770.18 511.07 L762.59 513.63 Z" fill="#fff" stroke="#000" stroke-width="0.8" stroke-linejoin="round"/>
<path d="M762.59 548.45 L770.18 545.88 L857.92 575.73 L850.33 578.29 Z" fill="#fff" stroke="#000" stroke-width="0.8" stroke-linejoin="round"/>
<path d="M754.90 556.27 L857.79 591.27 L857.79 537.12 L754.90 502.11 Z M850.33 547.78 L850.18 546.40 L849.72 545.04 L849.01 543.85 L848.12 542.94 L847.13 542.39 L765.80 514.72 L764.81 514.60 L763.91 514.90 L763.21 515.61 L762.75 516.66 L762.59 517.93 L762.59 544.15 L762.75 545.53 L763.21 546.88 L763.91 548.08 L764.81 548.99 L765.80 549.54 L847.13 577.20 L848.12 577.33 L849.01 577.02 L849.72 576.31 L850.18 575.27 L850.33 574.00 Z" fill="#fff" fill-rule="evenodd" stroke="none"/>
<path d="M754.90 556.27 L857.79 591.27 L857.79 537.12 L754.90 502.11 Z" fill="none" stroke="#000" stroke-width="1.4" stroke-linejoin="round"/>
<path d="M850.33 547.78 L850.18 546.40 L849.72 545.04 L849.01 543.85 L848.12 542.94 L847.13 542.39 L765.80 514.72 L764.81 514.60 L763.91 514.90 L763.21 515.61 L762.75 516.66 L762.59 517.93 L762.59 544.15 L762.75 545.53 L763.21 546.88 L763.91 548.08 L764.81 548.99 L765.80 549.54 L847.13 577.20 L848.12 577.33 L849.01 577.02 L849.72 576.31 L850.18 575.27 L850.33 574.00 Z" fill="none" stroke="#000" stroke-width="1.05" stroke-linejoin="round"/>
<line x1="754.90" y1="501.01" x2="857.79" y2="536.01" stroke="#000" stroke-width="1.7"/>
<path d="M857.79 537.12 L867.11 533.96 L867.11 532.00 L857.79 535.15 Z" fill="#fff" stroke="#000" stroke-width="0.9" stroke-linejoin="round"/>
<path d="M857.79 535.15 L867.11 532.00 L868.24 531.54 L869.07 531.01 L869.59 530.43 L869.76 529.83 L869.58 529.23 L869.07 528.66 L868.23 528.12 L867.10 527.66 L777.03 497.01 L775.65 496.63 L774.09 496.35 L772.39 496.17 L770.62 496.11 L768.86 496.16 L767.16 496.34 L765.59 496.62 L764.22 497.00 L754.90 500.15 Z" fill="#fff" stroke="#000" stroke-width="1.3" stroke-linejoin="round"/>
<path d="M759.54 554.84 L759.85 554.69 L760.11 554.44 L760.32 554.11 L760.47 553.71 L760.54 553.26 L760.55 552.78 L760.49 552.27 L760.35 551.78 L760.16 551.30 L759.91 550.86 L759.61 550.48 L759.28 550.17 L758.92 549.95 L758.56 549.81 L758.20 549.78 L757.86 549.84 Z" fill="#fff" stroke="none" stroke-width="0" />
<path d="M589.93 612.21 L759.54 554.84 L757.86 549.84 L588.25 607.21 Z" fill="#fff" stroke="none" stroke-width="0" />
<line x1="589.93" y1="612.21" x2="759.54" y2="554.84" stroke="#000" stroke-width="1.35"/>
<line x1="588.25" y1="607.21" x2="757.86" y2="549.84" stroke="#000" stroke-width="1.35"/>
<path d="M759.54 554.84 L759.85 554.69 L760.11 554.44 L760.32 554.11 L760.47 553.71 L760.54 553.26 L760.55 552.78 L760.49 552.27 L760.35 551.78 L760.16 551.30 L759.91 550.86 L759.61 550.48 L759.28 550.17 L758.92 549.95 L758.56 549.81 L758.20 549.78 L757.86 549.84" fill="none" stroke="#000" stroke-width="1.35" />
<path d="M659.96 589.59 L660.39 589.37 L660.75 589.03 L661.04 588.57 L661.24 588.02 L661.35 587.40 L661.36 586.73 L661.27 586.04 L661.08 585.35 L660.81 584.69 L660.47 584.08 L660.05 583.56 L659.59 583.13 L659.10 582.82 L658.60 582.64 L658.10 582.59 L657.64 582.67 Z" fill="#fff" stroke="none" stroke-width="0" />
<path d="M652.34 592.17 L659.96 589.59 L657.64 582.67 L650.01 585.25 Z" fill="#fff" stroke="none" stroke-width="0" />
<line x1="652.34" y1="592.17" x2="659.96" y2="589.59" stroke="#000" stroke-width="1.1"/>
<line x1="650.01" y1="585.25" x2="657.64" y2="582.67" stroke="#000" stroke-width="1.1"/>
<path d="M659.96 589.59 L660.39 589.37 L660.75 589.03 L661.04 588.57 L661.24 588.02 L661.35 587.40 L661.36 586.73 L661.27 586.04 L661.08 585.35 L660.81 584.69 L660.47 584.08 L660.05 583.56 L659.59 583.13 L659.10 582.82 L658.60 582.64 L658.10 582.59 L657.64 582.67" fill="none" stroke="#000" stroke-width="1.1" />
<path d="M653.74 589.58 L653.65 588.66 L653.39 587.75 L652.98 586.90 L652.45 586.17 L651.84 585.62 L651.17 585.27 L650.51 585.17 L649.89 585.30 L649.36 585.66 L648.95 586.24 L648.70 586.98 L648.61 587.84 L648.70 588.76 L648.95 589.68 L649.36 590.53 L649.89 591.25 L650.51 591.81 L651.17 592.15 L651.84 592.26 L652.45 592.13 L652.98 591.76 L653.39 591.19 L653.65 590.44 Z" fill="#fff" stroke="#000" stroke-width="1.1" />
<path d="M683.76 550.21 L684.07 550.05 L684.33 549.80 L684.54 549.47 L684.68 549.07 L684.76 548.62 L684.77 548.14 L684.70 547.64 L684.57 547.14 L684.38 546.66 L684.12 546.22 L683.83 545.84 L683.49 545.53 L683.14 545.31 L682.77 545.18 L682.42 545.14 L682.08 545.20 Z" fill="#fff" stroke="none" stroke-width="0" />
<path d="M589.93 581.94 L683.76 550.21 L682.08 545.20 L588.25 576.94 Z" fill="#fff" stroke="none" stroke-width="0" />
<line x1="589.93" y1="581.94" x2="683.76" y2="550.21" stroke="#000" stroke-width="1.35"/>
<line x1="588.25" y1="576.94" x2="682.08" y2="545.20" stroke="#000" stroke-width="1.35"/>
<path d="M683.76 550.21 L684.07 550.05 L684.33 549.80 L684.54 549.47 L684.68 549.07 L684.76 548.62 L684.77 548.14 L684.70 547.64 L684.57 547.14 L684.38 546.66 L684.12 546.22 L683.83 545.84 L683.49 545.53 L683.14 545.31 L682.77 545.18 L682.42 545.14 L682.08 545.20" fill="none" stroke="#000" stroke-width="1.35" />
<path d="M683.76 571.20 L684.07 571.05 L684.33 570.80 L684.54 570.47 L684.68 570.07 L684.76 569.62 L684.77 569.14 L684.70 568.63 L684.57 568.14 L684.38 567.66 L684.12 567.22 L683.83 566.84 L683.49 566.53 L683.14 566.31 L682.77 566.17 L682.42 566.14 L682.08 566.20 Z" fill="#fff" stroke="none" stroke-width="0" />
<path d="M589.93 602.94 L683.76 571.20 L682.08 566.20 L588.25 597.94 Z" fill="#fff" stroke="none" stroke-width="0" />
<line x1="589.93" y1="602.94" x2="683.76" y2="571.20" stroke="#000" stroke-width="1.35"/>
<line x1="588.25" y1="597.94" x2="682.08" y2="566.20" stroke="#000" stroke-width="1.35"/>
<path d="M683.76 571.20 L684.07 571.05 L684.33 570.80 L684.54 570.47 L684.68 570.07 L684.76 569.62 L684.77 569.14 L684.70 568.63 L684.57 568.14 L684.38 567.66 L684.12 567.22 L683.83 566.84 L683.49 566.53 L683.14 566.31 L682.77 566.17 L682.42 566.14 L682.08 566.20" fill="none" stroke="#000" stroke-width="1.35" />
<path d="M759.54 513.40 L759.85 513.24 L760.11 512.99 L760.32 512.66 L760.47 512.27 L760.54 511.82 L760.55 511.33 L760.49 510.83 L760.35 510.33 L760.16 509.85 L759.91 509.42 L759.61 509.04 L759.28 508.73 L758.92 508.50 L758.56 508.37 L758.20 508.33 L757.86 508.40 Z" fill="#fff" stroke="none" stroke-width="0" />
<path d="M665.44 545.23 L759.54 513.40 L757.86 508.40 L663.76 540.22 Z" fill="#fff" stroke="none" stroke-width="0" />
<line x1="665.44" y1="545.23" x2="759.54" y2="513.40" stroke="#000" stroke-width="1.35"/>
<line x1="663.76" y1="540.22" x2="757.86" y2="508.40" stroke="#000" stroke-width="1.35"/>
<path d="M759.54 513.40 L759.85 513.24 L760.11 512.99 L760.32 512.66 L760.47 512.27 L760.54 511.82 L760.55 511.33 L760.49 510.83 L760.35 510.33 L760.16 509.85 L759.91 509.42 L759.61 509.04 L759.28 508.73 L758.92 508.50 L758.56 508.37 L758.20 508.33 L757.86 508.40" fill="none" stroke="#000" stroke-width="1.35" />
<path d="M759.54 534.46 L759.85 534.30 L760.11 534.05 L760.32 533.72 L760.47 533.33 L760.54 532.88 L760.55 532.39 L760.49 531.89 L760.35 531.39 L760.16 530.91 L759.91 530.48 L759.61 530.10 L759.28 529.79 L758.92 529.56 L758.56 529.43 L758.20 529.39 L757.86 529.46 Z" fill="#fff" stroke="none" stroke-width="0" />
<path d="M665.44 566.29 L759.54 534.46 L757.86 529.46 L663.76 561.28 Z" fill="#fff" stroke="none" stroke-width="0" />
<line x1="665.44" y1="566.29" x2="759.54" y2="534.46" stroke="#000" stroke-width="1.35"/>
<line x1="663.76" y1="561.28" x2="757.86" y2="529.46" stroke="#000" stroke-width="1.35"/>
<path d="M759.54 534.46 L759.85 534.30 L760.11 534.05 L760.32 533.72 L760.47 533.33 L760.54 532.88 L760.55 532.39 L760.49 531.89 L760.35 531.39 L760.16 530.91 L759.91 530.48 L759.61 530.10 L759.28 529.79 L758.92 529.56 L758.56 529.43 L758.20 529.39 L757.86 529.46" fill="none" stroke="#000" stroke-width="1.35" />
<path d="M671.59 574.70 L676.62 576.41 L684.98 573.58 L684.98 537.48 L684.79 536.12 L684.24 534.84 L683.43 533.83 L682.46 533.25 L681.50 533.18 L673.14 536.00 L672.32 536.46 L671.78 537.37 L671.59 538.59 Z" fill="#fff" stroke="#000" stroke-width="1.1" stroke-linejoin="round"/>
<path d="M671.59 574.70 L676.62 576.41 L676.62 540.31 L676.43 538.95 L675.88 537.67 L675.07 536.66 L674.10 536.07 L673.14 536.00 L672.32 536.46 L671.78 537.37 L671.59 538.59 Z" fill="#fff" stroke="#000" stroke-width="1.0" stroke-linejoin="round"/>
<line x1="676.62" y1="543.62" x2="684.98" y2="540.80" stroke="#000" stroke-width="1.0"/>
<line x1="676.62" y1="549.15" x2="684.98" y2="546.32" stroke="#000" stroke-width="1.0"/>
<line x1="676.62" y1="553.88" x2="684.98" y2="551.05" stroke="#000" stroke-width="1.0"/>
<line x1="676.62" y1="559.22" x2="684.98" y2="556.39" stroke="#000" stroke-width="1.0"/>
<line x1="676.62" y1="564.01" x2="684.98" y2="561.18" stroke="#000" stroke-width="1.0"/>
<line x1="676.62" y1="569.23" x2="684.98" y2="566.40" stroke="#000" stroke-width="1.0"/>
<line x1="676.62" y1="576.41" x2="676.62" y2="540.31" stroke="#000" stroke-width="1.3"/>
<path d="M663.32 577.49 L668.35 579.21 L676.62 576.41 L676.62 540.31 L676.43 538.95 L675.88 537.67 L675.07 536.66 L674.10 536.07 L673.14 536.00 L664.87 538.80 L664.06 539.25 L663.51 540.16 L663.32 541.39 Z" fill="#fff" stroke="#000" stroke-width="1.1" stroke-linejoin="round"/>
<path d="M663.32 577.49 L668.35 579.21 L668.35 543.10 L668.16 541.75 L667.62 540.47 L666.80 539.46 L665.84 538.87 L664.87 538.80 L664.06 539.25 L663.51 540.16 L663.32 541.39 Z" fill="#fff" stroke="#000" stroke-width="1.0" stroke-linejoin="round"/>
<line x1="668.35" y1="546.42" x2="676.62" y2="543.62" stroke="#000" stroke-width="1.0"/>
<line x1="668.35" y1="551.95" x2="676.62" y2="549.15" stroke="#000" stroke-width="1.0"/>
<line x1="668.35" y1="556.67" x2="676.62" y2="553.88" stroke="#000" stroke-width="1.0"/>
<line x1="668.35" y1="562.01" x2="676.62" y2="559.22" stroke="#000" stroke-width="1.0"/>
<line x1="668.35" y1="566.80" x2="676.62" y2="564.01" stroke="#000" stroke-width="1.0"/>
<line x1="668.35" y1="572.02" x2="676.62" y2="569.23" stroke="#000" stroke-width="1.0"/>
<line x1="668.35" y1="579.21" x2="668.35" y2="543.10" stroke="#000" stroke-width="1.3"/>
<path d="M659.19 558.52 L666.27 556.12 L664.58 551.12 L657.50 553.51 Z" fill="#fff" stroke="none" stroke-width="0" />
<line x1="659.19" y1="558.52" x2="666.27" y2="556.12" stroke="#000" stroke-width="1.35"/>
<line x1="657.50" y1="553.51" x2="664.58" y2="551.12" stroke="#000" stroke-width="1.35"/>
<path d="M659.19 579.52 L666.27 577.12 L664.58 572.12 L657.50 574.51 Z" fill="#fff" stroke="none" stroke-width="0" />
<line x1="659.19" y1="579.52" x2="666.27" y2="577.12" stroke="#000" stroke-width="1.35"/>
<line x1="657.50" y1="574.51" x2="664.58" y2="572.12" stroke="#000" stroke-width="1.35"/>
<path d="M685.93 571.32 L693.92 568.61 L794.66 602.88 L786.67 605.59 Z" fill="#fff" stroke="#000" stroke-width="0.9" stroke-linejoin="round"/>
<path d="M685.93 578.81 L786.67 613.08 L786.67 605.59 L685.93 571.32 Z" fill="#fff" stroke="#000" stroke-width="0.9" stroke-linejoin="round"/>
<path d="M786.67 613.08 L794.66 610.37 L794.66 602.88 L786.67 605.59 Z" fill="#fff" stroke="#000" stroke-width="0.9" stroke-linejoin="round"/>
<path d="M648.47 583.99 L656.10 581.41 L756.84 615.68 L749.21 618.26 Z" fill="#fff" stroke="#000" stroke-width="0.9" stroke-linejoin="round"/>
<path d="M648.47 591.48 L749.21 625.75 L749.21 618.26 L648.47 583.99 Z" fill="#fff" stroke="#000" stroke-width="0.9" stroke-linejoin="round"/>
<path d="M749.21 625.75 L756.84 623.17 L756.84 615.68 L749.21 618.26 Z" fill="#fff" stroke="#000" stroke-width="0.9" stroke-linejoin="round"/>
<path d="M703.98 578.06 L704.29 577.90 L704.55 577.65 L704.76 577.32 L704.90 576.92 L704.98 576.47 L704.99 575.99 L704.93 575.49 L704.79 574.99 L704.60 574.51 L704.35 574.08 L704.05 573.69 L703.71 573.39 L703.36 573.16 L703.00 573.03 L702.64 572.99 L702.30 573.05 Z" fill="#fff" stroke="none" stroke-width="0" />
<path d="M588.87 616.99 L703.98 578.06 L702.30 573.05 L587.19 611.99 Z" fill="#fff" stroke="none" stroke-width="0" />
<line x1="588.87" y1="616.99" x2="703.98" y2="578.06" stroke="#000" stroke-width="1.35"/>
<line x1="587.19" y1="611.99" x2="702.30" y2="573.05" stroke="#000" stroke-width="1.35"/>
<path d="M703.98 578.06 L704.29 577.90 L704.55 577.65 L704.76 577.32 L704.90 576.92 L704.98 576.47 L704.99 575.99 L704.93 575.49 L704.79 574.99 L704.60 574.51 L704.35 574.08 L704.05 573.69 L703.71 573.39 L703.36 573.16 L703.00 573.03 L702.64 572.99 L702.30 573.05" fill="none" stroke="#000" stroke-width="1.35" />
<path d="M773.24 559.50 L773.54 559.34 L773.80 559.10 L774.01 558.77 L774.16 558.37 L774.24 557.92 L774.24 557.43 L774.18 556.93 L774.05 556.43 L773.85 555.96 L773.60 555.52 L773.30 555.14 L772.97 554.83 L772.61 554.61 L772.25 554.47 L771.89 554.44 L771.55 554.50 Z" fill="#fff" stroke="none" stroke-width="0" />
<path d="M665.71 595.87 L773.24 559.50 L771.55 554.50 L664.02 590.87 Z" fill="#fff" stroke="none" stroke-width="0" />
<line x1="665.71" y1="595.87" x2="773.24" y2="559.50" stroke="#000" stroke-width="1.35"/>
<line x1="664.02" y1="590.87" x2="771.55" y2="554.50" stroke="#000" stroke-width="1.35"/>
<path d="M773.24 559.50 L773.54 559.34 L773.80 559.10 L774.01 558.77 L774.16 558.37 L774.24 557.92 L774.24 557.43 L774.18 556.93 L774.05 556.43 L773.85 555.96 L773.60 555.52 L773.30 555.14 L772.97 554.83 L772.61 554.61 L772.25 554.47 L771.89 554.44 L771.55 554.50" fill="none" stroke="#000" stroke-width="1.35" />
<path d="M717.64 582.70 L717.95 582.55 L718.21 582.30 L718.42 581.97 L718.56 581.57 L718.64 581.12 L718.65 580.64 L718.58 580.13 L718.45 579.64 L718.25 579.16 L718.00 578.72 L717.70 578.34 L717.37 578.03 L717.02 577.81 L716.65 577.67 L716.30 577.64 L715.96 577.70 Z" fill="#fff" stroke="none" stroke-width="0" />
<path d="M602.53 621.64 L717.64 582.70 L715.96 577.70 L600.84 616.63 Z" fill="#fff" stroke="none" stroke-width="0" />
<line x1="602.53" y1="621.64" x2="717.64" y2="582.70" stroke="#000" stroke-width="1.35"/>
<line x1="600.84" y1="616.63" x2="715.96" y2="577.70" stroke="#000" stroke-width="1.35"/>
<path d="M717.64 582.70 L717.95 582.55 L718.21 582.30 L718.42 581.97 L718.56 581.57 L718.64 581.12 L718.65 580.64 L718.58 580.13 L718.45 579.64 L718.25 579.16 L718.00 578.72 L717.70 578.34 L717.37 578.03 L717.02 577.81 L716.65 577.67 L716.30 577.64 L715.96 577.70" fill="none" stroke="#000" stroke-width="1.35" />
<path d="M787.02 564.19 L787.32 564.03 L787.59 563.78 L787.79 563.45 L787.94 563.06 L788.02 562.61 L788.02 562.12 L787.96 561.62 L787.83 561.12 L787.63 560.64 L787.38 560.21 L787.08 559.83 L786.75 559.52 L786.39 559.29 L786.03 559.16 L785.67 559.12 L785.33 559.19 Z" fill="#fff" stroke="none" stroke-width="0" />
<path d="M679.49 600.56 L787.02 564.19 L785.33 559.19 L677.80 595.56 Z" fill="#fff" stroke="none" stroke-width="0" />
<line x1="679.49" y1="600.56" x2="787.02" y2="564.19" stroke="#000" stroke-width="1.35"/>
<line x1="677.80" y1="595.56" x2="785.33" y2="559.19" stroke="#000" stroke-width="1.35"/>
<path d="M787.02 564.19 L787.32 564.03 L787.59 563.78 L787.79 563.45 L787.94 563.06 L788.02 562.61 L788.02 562.12 L787.96 561.62 L787.83 561.12 L787.63 560.64 L787.38 560.21 L787.08 559.83 L786.75 559.52 L786.39 559.29 L786.03 559.16 L785.67 559.12 L785.33 559.19" fill="none" stroke="#000" stroke-width="1.35" />
<path d="M731.40 587.38 L731.70 587.22 L731.96 586.98 L732.17 586.65 L732.32 586.25 L732.39 585.80 L732.40 585.32 L732.34 584.81 L732.21 584.31 L732.01 583.84 L731.76 583.40 L731.46 583.02 L731.13 582.71 L730.77 582.49 L730.41 582.35 L730.05 582.32 L729.71 582.38 Z" fill="#fff" stroke="none" stroke-width="0" />
<path d="M616.28 626.32 L731.40 587.38 L729.71 582.38 L614.60 621.31 Z" fill="#fff" stroke="none" stroke-width="0" />
<line x1="616.28" y1="626.32" x2="731.40" y2="587.38" stroke="#000" stroke-width="1.35"/>
<line x1="614.60" y1="621.31" x2="729.71" y2="582.38" stroke="#000" stroke-width="1.35"/>
<path d="M731.40 587.38 L731.70 587.22 L731.96 586.98 L732.17 586.65 L732.32 586.25 L732.39 585.80 L732.40 585.32 L732.34 584.81 L732.21 584.31 L732.01 583.84 L731.76 583.40 L731.46 583.02 L731.13 582.71 L730.77 582.49 L730.41 582.35 L730.05 582.32 L729.71 582.38" fill="none" stroke="#000" stroke-width="1.35" />
<path d="M800.75 568.86 L801.05 568.70 L801.32 568.45 L801.52 568.12 L801.67 567.73 L801.75 567.28 L801.75 566.79 L801.69 566.29 L801.56 565.79 L801.36 565.32 L801.11 564.88 L800.81 564.50 L800.48 564.19 L800.12 563.96 L799.76 563.83 L799.40 563.79 L799.07 563.86 Z" fill="#fff" stroke="none" stroke-width="0" />
<path d="M693.22 605.23 L800.75 568.86 L799.07 563.86 L691.53 600.23 Z" fill="#fff" stroke="none" stroke-width="0" />
<line x1="693.22" y1="605.23" x2="800.75" y2="568.86" stroke="#000" stroke-width="1.35"/>
<line x1="691.53" y1="600.23" x2="799.07" y2="563.86" stroke="#000" stroke-width="1.35"/>
<path d="M800.75 568.86 L801.05 568.70 L801.32 568.45 L801.52 568.12 L801.67 567.73 L801.75 567.28 L801.75 566.79 L801.69 566.29 L801.56 565.79 L801.36 565.32 L801.11 564.88 L800.81 564.50 L800.48 564.19 L800.12 563.96 L799.76 563.83 L799.40 563.79 L799.07 563.86" fill="none" stroke="#000" stroke-width="1.35" />
<path d="M745.18 592.07 L745.48 591.91 L745.74 591.66 L745.95 591.33 L746.10 590.94 L746.18 590.49 L746.18 590.00 L746.12 589.50 L745.99 589.00 L745.79 588.53 L745.54 588.09 L745.24 587.71 L744.91 587.40 L744.55 587.17 L744.19 587.04 L743.83 587.00 L743.49 587.07 Z" fill="#fff" stroke="none" stroke-width="0" />
<path d="M630.06 631.01 L745.18 592.07 L743.49 587.07 L628.38 626.00 Z" fill="#fff" stroke="none" stroke-width="0" />
<line x1="630.06" y1="631.01" x2="745.18" y2="592.07" stroke="#000" stroke-width="1.35"/>
<line x1="628.38" y1="626.00" x2="743.49" y2="587.07" stroke="#000" stroke-width="1.35"/>
<path d="M745.18 592.07 L745.48 591.91 L745.74 591.66 L745.95 591.33 L746.10 590.94 L746.18 590.49 L746.18 590.00 L746.12 589.50 L745.99 589.00 L745.79 588.53 L745.54 588.09 L745.24 587.71 L744.91 587.40 L744.55 587.17 L744.19 587.04 L743.83 587.00 L743.49 587.07" fill="none" stroke="#000" stroke-width="1.35" />
<path d="M813.66 573.25 L813.97 573.10 L814.23 572.85 L814.44 572.52 L814.58 572.12 L814.66 571.67 L814.67 571.19 L814.61 570.68 L814.47 570.19 L814.28 569.71 L814.03 569.27 L813.73 568.89 L813.39 568.58 L813.04 568.36 L812.68 568.22 L812.32 568.19 L811.98 568.25 Z" fill="#fff" stroke="none" stroke-width="0" />
<path d="M706.13 609.62 L813.66 573.25 L811.98 568.25 L704.45 604.62 Z" fill="#fff" stroke="none" stroke-width="0" />
<line x1="706.13" y1="609.62" x2="813.66" y2="573.25" stroke="#000" stroke-width="1.35"/>
<line x1="704.45" y1="604.62" x2="811.98" y2="568.25" stroke="#000" stroke-width="1.35"/>
<path d="M813.66 573.25 L813.97 573.10 L814.23 572.85 L814.44 572.52 L814.58 572.12 L814.66 571.67 L814.67 571.19 L814.61 570.68 L814.47 570.19 L814.28 569.71 L814.03 569.27 L813.73 568.89 L813.39 568.58 L813.04 568.36 L812.68 568.22 L812.32 568.19 L811.98 568.25" fill="none" stroke="#000" stroke-width="1.35" />
<path d="M758.91 596.74 L759.21 596.58 L759.47 596.33 L759.68 596.01 L759.83 595.61 L759.91 595.16 L759.91 594.67 L759.85 594.17 L759.72 593.67 L759.52 593.20 L759.27 592.76 L758.97 592.38 L758.64 592.07 L758.28 591.85 L757.92 591.71 L757.56 591.68 L757.22 591.74 Z" fill="#fff" stroke="none" stroke-width="0" />
<path d="M643.79 635.68 L758.91 596.74 L757.22 591.74 L642.11 630.67 Z" fill="#fff" stroke="none" stroke-width="0" />
<line x1="643.79" y1="635.68" x2="758.91" y2="596.74" stroke="#000" stroke-width="1.35"/>
<line x1="642.11" y1="630.67" x2="757.22" y2="591.74" stroke="#000" stroke-width="1.35"/>
<path d="M758.91 596.74 L759.21 596.58 L759.47 596.33 L759.68 596.01 L759.83 595.61 L759.91 595.16 L759.91 594.67 L759.85 594.17 L759.72 593.67 L759.52 593.20 L759.27 592.76 L758.97 592.38 L758.64 592.07 L758.28 591.85 L757.92 591.71 L757.56 591.68 L757.22 591.74" fill="none" stroke="#000" stroke-width="1.35" />
<path d="M827.39 577.93 L827.70 577.77 L827.96 577.52 L828.17 577.19 L828.32 576.79 L828.39 576.34 L828.40 575.86 L828.34 575.36 L828.20 574.86 L828.01 574.38 L827.76 573.94 L827.46 573.56 L827.13 573.25 L826.77 573.03 L826.41 572.90 L826.05 572.86 L825.71 572.92 Z" fill="#fff" stroke="none" stroke-width="0" />
<path d="M719.86 614.29 L827.39 577.93 L825.71 572.92 L718.18 609.29 Z" fill="#fff" stroke="none" stroke-width="0" />
<line x1="719.86" y1="614.29" x2="827.39" y2="577.93" stroke="#000" stroke-width="1.35"/>
<line x1="718.18" y1="609.29" x2="825.71" y2="572.92" stroke="#000" stroke-width="1.35"/>
<path d="M827.39 577.93 L827.70 577.77 L827.96 577.52 L828.17 577.19 L828.32 576.79 L828.39 576.34 L828.40 575.86 L828.34 575.36 L828.20 574.86 L828.01 574.38 L827.76 573.94 L827.46 573.56 L827.13 573.25 L826.77 573.03 L826.41 572.90 L826.05 572.86 L825.71 572.92" fill="none" stroke="#000" stroke-width="1.35" />
<path d="M772.71 601.44 L773.02 601.28 L773.28 601.03 L773.49 600.70 L773.63 600.30 L773.71 599.86 L773.72 599.37 L773.65 598.87 L773.52 598.37 L773.33 597.89 L773.07 597.46 L772.78 597.08 L772.44 596.77 L772.09 596.54 L771.73 596.41 L771.37 596.37 L771.03 596.43 Z" fill="#fff" stroke="none" stroke-width="0" />
<path d="M657.60 640.37 L772.71 601.44 L771.03 596.43 L655.92 635.37 Z" fill="#fff" stroke="none" stroke-width="0" />
<line x1="657.60" y1="640.37" x2="772.71" y2="601.44" stroke="#000" stroke-width="1.35"/>
<line x1="655.92" y1="635.37" x2="771.03" y2="596.43" stroke="#000" stroke-width="1.35"/>
<path d="M772.71 601.44 L773.02 601.28 L773.28 601.03 L773.49 600.70 L773.63 600.30 L773.71 599.86 L773.72 599.37 L773.65 598.87 L773.52 598.37 L773.33 597.89 L773.07 597.46 L772.78 597.08 L772.44 596.77 L772.09 596.54 L771.73 596.41 L771.37 596.37 L771.03 596.43" fill="none" stroke="#000" stroke-width="1.35" />
<path d="M841.17 582.61 L841.48 582.45 L841.74 582.21 L841.95 581.88 L842.10 581.48 L842.17 581.03 L842.18 580.55 L842.12 580.04 L841.98 579.54 L841.79 579.07 L841.54 578.63 L841.24 578.25 L840.91 577.94 L840.55 577.72 L840.19 577.58 L839.83 577.55 L839.49 577.61 Z" fill="#fff" stroke="none" stroke-width="0" />
<path d="M733.64 618.98 L841.17 582.61 L839.49 577.61 L731.96 613.98 Z" fill="#fff" stroke="none" stroke-width="0" />
<line x1="733.64" y1="618.98" x2="841.17" y2="582.61" stroke="#000" stroke-width="1.35"/>
<line x1="731.96" y1="613.98" x2="839.49" y2="577.61" stroke="#000" stroke-width="1.35"/>
<path d="M841.17 582.61 L841.48 582.45 L841.74 582.21 L841.95 581.88 L842.10 581.48 L842.17 581.03 L842.18 580.55 L842.12 580.04 L841.98 579.54 L841.79 579.07 L841.54 578.63 L841.24 578.25 L840.91 577.94 L840.55 577.72 L840.19 577.58 L839.83 577.55 L839.49 577.61" fill="none" stroke="#000" stroke-width="1.35" />
<path d="M786.39 606.09 L786.70 605.93 L786.96 605.69 L787.17 605.36 L787.32 604.96 L787.39 604.51 L787.40 604.02 L787.34 603.52 L787.20 603.02 L787.01 602.55 L786.76 602.11 L786.46 601.73 L786.13 601.42 L785.77 601.20 L785.41 601.06 L785.05 601.03 L784.71 601.09 Z" fill="#fff" stroke="none" stroke-width="0" />
<path d="M671.28 645.03 L786.39 606.09 L784.71 601.09 L669.60 640.02 Z" fill="#fff" stroke="none" stroke-width="0" />
<line x1="671.28" y1="645.03" x2="786.39" y2="606.09" stroke="#000" stroke-width="1.35"/>
<line x1="669.60" y1="640.02" x2="784.71" y2="601.09" stroke="#000" stroke-width="1.35"/>
<path d="M786.39 606.09 L786.70 605.93 L786.96 605.69 L787.17 605.36 L787.32 604.96 L787.39 604.51 L787.40 604.02 L787.34 603.52 L787.20 603.02 L787.01 602.55 L786.76 602.11 L786.46 601.73 L786.13 601.42 L785.77 601.20 L785.41 601.06 L785.05 601.03 L784.71 601.09" fill="none" stroke="#000" stroke-width="1.35" />
<line x1="692.11" y1="574.31" x2="699.65" y2="571.76" stroke="#0a0a0a" stroke-width="3.2"/>
<line x1="694.17" y1="573.61" x2="697.59" y2="572.46" stroke="#fff" stroke-width="1.0"/>
<line x1="698.96" y1="576.64" x2="706.50" y2="574.09" stroke="#0a0a0a" stroke-width="3.2"/>
<line x1="701.02" y1="575.95" x2="704.44" y2="574.79" stroke="#fff" stroke-width="1.0"/>
<line x1="705.79" y1="578.96" x2="713.33" y2="576.41" stroke="#0a0a0a" stroke-width="3.2"/>
<line x1="707.85" y1="578.27" x2="711.27" y2="577.11" stroke="#fff" stroke-width="1.0"/>
<line x1="712.68" y1="581.31" x2="720.22" y2="578.76" stroke="#0a0a0a" stroke-width="3.2"/>
<line x1="714.74" y1="580.61" x2="718.16" y2="579.45" stroke="#fff" stroke-width="1.0"/>
<line x1="719.56" y1="583.65" x2="727.10" y2="581.10" stroke="#0a0a0a" stroke-width="3.2"/>
<line x1="721.62" y1="582.95" x2="725.04" y2="581.79" stroke="#fff" stroke-width="1.0"/>
<line x1="726.43" y1="585.98" x2="733.96" y2="583.43" stroke="#0a0a0a" stroke-width="3.2"/>
<line x1="728.48" y1="585.29" x2="731.91" y2="584.13" stroke="#fff" stroke-width="1.0"/>
<line x1="733.32" y1="588.33" x2="740.85" y2="585.78" stroke="#0a0a0a" stroke-width="3.2"/>
<line x1="735.37" y1="587.63" x2="738.80" y2="586.47" stroke="#fff" stroke-width="1.0"/>
<line x1="739.77" y1="590.52" x2="747.31" y2="587.97" stroke="#0a0a0a" stroke-width="3.2"/>
<line x1="741.83" y1="589.83" x2="745.25" y2="588.67" stroke="#fff" stroke-width="1.0"/>
<line x1="746.64" y1="592.86" x2="754.18" y2="590.31" stroke="#0a0a0a" stroke-width="3.2"/>
<line x1="748.69" y1="592.16" x2="752.12" y2="591.00" stroke="#fff" stroke-width="1.0"/>
<line x1="753.50" y1="595.19" x2="761.04" y2="592.64" stroke="#0a0a0a" stroke-width="3.2"/>
<line x1="755.56" y1="594.50" x2="758.99" y2="593.34" stroke="#fff" stroke-width="1.0"/>
<line x1="760.41" y1="597.54" x2="767.94" y2="594.99" stroke="#0a0a0a" stroke-width="3.2"/>
<line x1="762.46" y1="596.85" x2="765.89" y2="595.69" stroke="#fff" stroke-width="1.0"/>
<line x1="767.30" y1="599.89" x2="774.83" y2="597.34" stroke="#0a0a0a" stroke-width="3.2"/>
<line x1="769.35" y1="599.19" x2="772.78" y2="598.03" stroke="#fff" stroke-width="1.0"/>
<line x1="774.14" y1="602.21" x2="781.67" y2="599.66" stroke="#0a0a0a" stroke-width="3.2"/>
<line x1="776.19" y1="601.52" x2="779.62" y2="600.36" stroke="#fff" stroke-width="1.0"/>
<line x1="781.04" y1="604.56" x2="788.58" y2="602.01" stroke="#0a0a0a" stroke-width="3.2"/>
<line x1="783.10" y1="603.87" x2="786.52" y2="602.71" stroke="#fff" stroke-width="1.0"/>
<line x1="654.65" y1="586.98" x2="661.82" y2="584.55" stroke="#0a0a0a" stroke-width="3.2"/>
<line x1="656.71" y1="586.28" x2="659.77" y2="585.25" stroke="#fff" stroke-width="1.0"/>
<line x1="661.51" y1="589.31" x2="668.68" y2="586.88" stroke="#0a0a0a" stroke-width="3.2"/>
<line x1="663.56" y1="588.61" x2="666.62" y2="587.58" stroke="#fff" stroke-width="1.0"/>
<line x1="668.33" y1="591.63" x2="675.51" y2="589.21" stroke="#0a0a0a" stroke-width="3.2"/>
<line x1="670.39" y1="590.94" x2="673.45" y2="589.90" stroke="#fff" stroke-width="1.0"/>
<line x1="675.22" y1="593.98" x2="682.40" y2="591.55" stroke="#0a0a0a" stroke-width="3.2"/>
<line x1="677.28" y1="593.28" x2="680.34" y2="592.25" stroke="#fff" stroke-width="1.0"/>
<line x1="682.10" y1="596.32" x2="689.27" y2="593.89" stroke="#0a0a0a" stroke-width="3.2"/>
<line x1="684.16" y1="595.62" x2="687.22" y2="594.59" stroke="#fff" stroke-width="1.0"/>
<line x1="688.97" y1="598.65" x2="696.14" y2="596.23" stroke="#0a0a0a" stroke-width="3.2"/>
<line x1="691.02" y1="597.96" x2="694.08" y2="596.92" stroke="#fff" stroke-width="1.0"/>
<line x1="695.86" y1="601.00" x2="703.03" y2="598.57" stroke="#0a0a0a" stroke-width="3.2"/>
<line x1="697.91" y1="600.30" x2="700.97" y2="599.26" stroke="#fff" stroke-width="1.0"/>
<line x1="702.32" y1="603.19" x2="709.49" y2="600.77" stroke="#0a0a0a" stroke-width="3.2"/>
<line x1="704.37" y1="602.50" x2="707.43" y2="601.46" stroke="#fff" stroke-width="1.0"/>
<line x1="709.18" y1="605.53" x2="716.35" y2="603.10" stroke="#0a0a0a" stroke-width="3.2"/>
<line x1="711.24" y1="604.83" x2="714.30" y2="603.80" stroke="#fff" stroke-width="1.0"/>
<line x1="716.05" y1="607.86" x2="723.22" y2="605.44" stroke="#0a0a0a" stroke-width="3.2"/>
<line x1="718.10" y1="607.17" x2="721.16" y2="606.13" stroke="#fff" stroke-width="1.0"/>
<line x1="722.95" y1="610.21" x2="730.12" y2="607.79" stroke="#0a0a0a" stroke-width="3.2"/>
<line x1="725.00" y1="609.52" x2="728.06" y2="608.48" stroke="#fff" stroke-width="1.0"/>
<line x1="729.84" y1="612.55" x2="737.01" y2="610.13" stroke="#0a0a0a" stroke-width="3.2"/>
<line x1="731.89" y1="611.86" x2="734.96" y2="610.82" stroke="#fff" stroke-width="1.0"/>
<line x1="736.68" y1="614.88" x2="743.85" y2="612.46" stroke="#0a0a0a" stroke-width="3.2"/>
<line x1="738.74" y1="614.19" x2="741.80" y2="613.15" stroke="#fff" stroke-width="1.0"/>
<line x1="743.58" y1="617.23" x2="750.75" y2="614.80" stroke="#0a0a0a" stroke-width="3.2"/>
<line x1="745.64" y1="616.53" x2="748.70" y2="615.50" stroke="#fff" stroke-width="1.0"/>
<path d="M854.93 587.29 L855.23 587.13 L855.50 586.89 L855.70 586.56 L855.85 586.16 L855.93 585.71 L855.94 585.22 L855.87 584.72 L855.74 584.22 L855.54 583.75 L855.29 583.31 L854.99 582.93 L854.66 582.62 L854.31 582.40 L853.94 582.26 L853.58 582.23 L853.25 582.29 Z" fill="#fff" stroke="none" stroke-width="0" />
<path d="M685.32 644.66 L854.93 587.29 L853.25 582.29 L683.64 639.65 Z" fill="#fff" stroke="none" stroke-width="0" />
<line x1="685.32" y1="644.66" x2="854.93" y2="587.29" stroke="#000" stroke-width="1.35"/>
<line x1="683.64" y1="639.65" x2="853.25" y2="582.29" stroke="#000" stroke-width="1.35"/>
<path d="M854.93 587.29 L855.23 587.13 L855.50 586.89 L855.70 586.56 L855.85 586.16 L855.93 585.71 L855.94 585.22 L855.87 584.72 L855.74 584.22 L855.54 583.75 L855.29 583.31 L854.99 582.93 L854.66 582.62 L854.31 582.40 L853.94 582.26 L853.58 582.23 L853.25 582.29" fill="none" stroke="#000" stroke-width="1.35" />
<path d="M755.35 622.04 L755.77 621.82 L756.13 621.48 L756.42 621.02 L756.62 620.47 L756.73 619.85 L756.74 619.18 L756.65 618.49 L756.47 617.80 L756.20 617.14 L755.85 616.53 L755.44 616.01 L754.98 615.58 L754.49 615.27 L753.98 615.08 L753.49 615.03 L753.02 615.12 Z" fill="#fff" stroke="none" stroke-width="0" />
<path d="M747.72 624.62 L755.35 622.04 L753.02 615.12 L745.39 617.70 Z" fill="#fff" stroke="none" stroke-width="0" />
<line x1="747.72" y1="624.62" x2="755.35" y2="622.04" stroke="#000" stroke-width="1.1"/>
<line x1="745.39" y1="617.70" x2="753.02" y2="615.12" stroke="#000" stroke-width="1.1"/>
<path d="M755.35 622.04 L755.77 621.82 L756.13 621.48 L756.42 621.02 L756.62 620.47 L756.73 619.85 L756.74 619.18 L756.65 618.49 L756.47 617.80 L756.20 617.14 L755.85 616.53 L755.44 616.01 L754.98 615.58 L754.49 615.27 L753.98 615.08 L753.49 615.03 L753.02 615.12" fill="none" stroke="#000" stroke-width="1.1" />
<path d="M749.12 622.03 L749.03 621.11 L748.78 620.20 L748.37 619.35 L747.84 618.62 L747.22 618.06 L746.56 617.72 L745.89 617.61 L745.28 617.75 L744.74 618.11 L744.34 618.69 L744.08 619.43 L743.99 620.29 L744.08 621.21 L744.34 622.12 L744.74 622.97 L745.28 623.70 L745.89 624.26 L746.56 624.60 L747.22 624.71 L747.84 624.57 L748.37 624.21 L748.78 623.63 L749.03 622.89 Z" fill="#fff" stroke="#000" stroke-width="1.1" />
<path d="M779.15 582.65 L779.45 582.50 L779.71 582.25 L779.92 581.92 L780.07 581.52 L780.15 581.07 L780.15 580.59 L780.09 580.08 L779.96 579.58 L779.76 579.11 L779.51 578.67 L779.21 578.29 L778.88 577.98 L778.52 577.76 L778.16 577.62 L777.80 577.59 L777.46 577.65 Z" fill="#fff" stroke="none" stroke-width="0" />
<path d="M685.32 614.39 L779.15 582.65 L777.46 577.65 L683.64 609.38 Z" fill="#fff" stroke="none" stroke-width="0" />
<line x1="685.32" y1="614.39" x2="779.15" y2="582.65" stroke="#000" stroke-width="1.35"/>
<line x1="683.64" y1="609.38" x2="777.46" y2="577.65" stroke="#000" stroke-width="1.35"/>
<path d="M779.15 582.65 L779.45 582.50 L779.71 582.25 L779.92 581.92 L780.07 581.52 L780.15 581.07 L780.15 580.59 L780.09 580.08 L779.96 579.58 L779.76 579.11 L779.51 578.67 L779.21 578.29 L778.88 577.98 L778.52 577.76 L778.16 577.62 L777.80 577.59 L777.46 577.65" fill="none" stroke="#000" stroke-width="1.35" />
<path d="M784.63 601.80 L784.93 601.64 L785.20 601.39 L785.40 601.06 L785.55 600.66 L785.63 600.22 L785.63 599.73 L785.57 599.23 L785.44 598.73 L785.24 598.25 L784.99 597.82 L784.69 597.44 L784.36 597.13 L784.00 596.90 L783.64 596.77 L783.28 596.73 L782.94 596.79 Z" fill="#fff" stroke="none" stroke-width="0" />
<path d="M685.32 635.39 L784.63 601.80 L782.94 596.79 L683.64 630.38 Z" fill="#fff" stroke="none" stroke-width="0" />
<line x1="685.32" y1="635.39" x2="784.63" y2="601.80" stroke="#000" stroke-width="1.35"/>
<line x1="683.64" y1="630.38" x2="782.94" y2="596.79" stroke="#000" stroke-width="1.35"/>
<path d="M784.63 601.80 L784.93 601.64 L785.20 601.39 L785.40 601.06 L785.55 600.66 L785.63 600.22 L785.63 599.73 L785.57 599.23 L785.44 598.73 L785.24 598.25 L784.99 597.82 L784.69 597.44 L784.36 597.13 L784.00 596.90 L783.64 596.77 L783.28 596.73 L782.94 596.79" fill="none" stroke="#000" stroke-width="1.35" />
<path d="M854.93 545.85 L855.23 545.69 L855.50 545.44 L855.70 545.11 L855.85 544.71 L855.93 544.26 L855.94 543.78 L855.87 543.28 L855.74 542.78 L855.54 542.30 L855.29 541.86 L854.99 541.48 L854.66 541.18 L854.31 540.95 L853.94 540.82 L853.58 540.78 L853.25 540.84 Z" fill="#fff" stroke="none" stroke-width="0" />
<path d="M760.83 577.67 L854.93 545.85 L853.25 540.84 L759.14 572.67 Z" fill="#fff" stroke="none" stroke-width="0" />
<line x1="760.83" y1="577.67" x2="854.93" y2="545.85" stroke="#000" stroke-width="1.35"/>
<line x1="759.14" y1="572.67" x2="853.25" y2="540.84" stroke="#000" stroke-width="1.35"/>
<path d="M854.93 545.85 L855.23 545.69 L855.50 545.44 L855.70 545.11 L855.85 544.71 L855.93 544.26 L855.94 543.78 L855.87 543.28 L855.74 542.78 L855.54 542.30 L855.29 541.86 L854.99 541.48 L854.66 541.18 L854.31 540.95 L853.94 540.82 L853.58 540.78 L853.25 540.84" fill="none" stroke="#000" stroke-width="1.35" />
<path d="M854.93 566.91 L855.23 566.75 L855.50 566.50 L855.70 566.17 L855.85 565.77 L855.93 565.32 L855.94 564.84 L855.87 564.34 L855.74 563.84 L855.54 563.36 L855.29 562.92 L854.99 562.54 L854.66 562.24 L854.31 562.01 L853.94 561.88 L853.58 561.84 L853.25 561.90 Z" fill="#fff" stroke="none" stroke-width="0" />
<path d="M760.83 598.73 L854.93 566.91 L853.25 561.90 L759.14 593.73 Z" fill="#fff" stroke="none" stroke-width="0" />
<line x1="760.83" y1="598.73" x2="854.93" y2="566.91" stroke="#000" stroke-width="1.35"/>
<line x1="759.14" y1="593.73" x2="853.25" y2="561.90" stroke="#000" stroke-width="1.35"/>
<path d="M854.93 566.91 L855.23 566.75 L855.50 566.50 L855.70 566.17 L855.85 565.77 L855.93 565.32 L855.94 564.84 L855.87 564.34 L855.74 563.84 L855.54 563.36 L855.29 562.92 L854.99 562.54 L854.66 562.24 L854.31 562.01 L853.94 561.88 L853.58 561.84 L853.25 561.90" fill="none" stroke="#000" stroke-width="1.35" />
<path d="M766.60 607.02 L771.64 608.73 L780.00 605.91 L780.00 569.80 L779.81 568.45 L779.26 567.16 L778.44 566.15 L777.48 565.57 L776.52 565.50 L768.16 568.33 L767.34 568.78 L766.80 569.69 L766.60 570.92 Z" fill="#fff" stroke="#000" stroke-width="1.1" stroke-linejoin="round"/>
<path d="M766.60 607.02 L771.64 608.73 L771.64 572.63 L771.45 571.27 L770.90 569.99 L770.09 568.98 L769.12 568.40 L768.16 568.33 L767.34 568.78 L766.80 569.69 L766.60 570.92 Z" fill="#fff" stroke="#000" stroke-width="1.0" stroke-linejoin="round"/>
<line x1="771.64" y1="575.95" x2="780.00" y2="573.12" stroke="#000" stroke-width="1.0"/>
<line x1="771.64" y1="581.47" x2="780.00" y2="578.64" stroke="#000" stroke-width="1.0"/>
<line x1="771.64" y1="586.20" x2="780.00" y2="583.37" stroke="#000" stroke-width="1.0"/>
<line x1="771.64" y1="591.54" x2="780.00" y2="588.71" stroke="#000" stroke-width="1.0"/>
<line x1="771.64" y1="596.33" x2="780.00" y2="593.50" stroke="#000" stroke-width="1.0"/>
<line x1="771.64" y1="601.55" x2="780.00" y2="598.72" stroke="#000" stroke-width="1.0"/>
<line x1="771.64" y1="608.73" x2="771.64" y2="572.63" stroke="#000" stroke-width="1.3"/>
<path d="M758.34 609.82 L763.37 611.53 L771.64 608.73 L771.64 572.63 L771.45 571.27 L770.90 569.99 L770.09 568.98 L769.12 568.40 L768.16 568.33 L759.89 571.12 L759.07 571.58 L758.53 572.49 L758.34 573.71 Z" fill="#fff" stroke="#000" stroke-width="1.1" stroke-linejoin="round"/>
<path d="M758.34 609.82 L763.37 611.53 L763.37 575.43 L763.18 574.07 L762.63 572.79 L761.82 571.78 L760.85 571.19 L759.89 571.12 L759.07 571.58 L758.53 572.49 L758.34 573.71 Z" fill="#fff" stroke="#000" stroke-width="1.0" stroke-linejoin="round"/>
<line x1="763.37" y1="578.74" x2="771.64" y2="575.95" stroke="#000" stroke-width="1.0"/>
<line x1="763.37" y1="584.27" x2="771.64" y2="581.47" stroke="#000" stroke-width="1.0"/>
<line x1="763.37" y1="589.00" x2="771.64" y2="586.20" stroke="#000" stroke-width="1.0"/>
<line x1="763.37" y1="594.34" x2="771.64" y2="591.54" stroke="#000" stroke-width="1.0"/>
<line x1="763.37" y1="599.13" x2="771.64" y2="596.33" stroke="#000" stroke-width="1.0"/>
<line x1="763.37" y1="604.35" x2="771.64" y2="601.55" stroke="#000" stroke-width="1.0"/>
<line x1="763.37" y1="611.53" x2="763.37" y2="575.43" stroke="#000" stroke-width="1.3"/>
<path d="M754.57 590.97 L761.65 588.57 L759.97 583.57 L752.89 585.96 Z" fill="#fff" stroke="none" stroke-width="0" />
<line x1="754.57" y1="590.97" x2="761.65" y2="588.57" stroke="#000" stroke-width="1.35"/>
<line x1="752.89" y1="585.96" x2="759.97" y2="583.57" stroke="#000" stroke-width="1.35"/>
<path d="M754.57 611.96 L761.65 609.57 L759.97 604.57 L752.89 606.96 Z" fill="#fff" stroke="none" stroke-width="0" />
<line x1="754.57" y1="611.96" x2="761.65" y2="609.57" stroke="#000" stroke-width="1.35"/>
<line x1="752.89" y1="606.96" x2="759.97" y2="604.57" stroke="#000" stroke-width="1.35"/>
<path d="M780.99 607.16 L787.86 609.50 L789.77 603.82 L782.90 601.49 Z" fill="#fff" stroke="none" stroke-width="0" />
<line x1="780.99" y1="607.16" x2="787.86" y2="609.50" stroke="#000" stroke-width="1.2"/>
<line x1="782.90" y1="601.49" x2="789.77" y2="603.82" stroke="#000" stroke-width="1.2"/>
<path d="M790.91 605.95 L790.84 605.24 L790.63 604.63 L790.30 604.16 L789.86 603.86 L789.36 603.75 L788.81 603.84 L788.27 604.12 L787.76 604.57 L787.33 605.17 L786.99 605.86 L786.78 606.62 L786.71 607.37 L786.78 608.08 L786.99 608.69 L787.33 609.16 L787.76 609.46 L788.27 609.57 L788.81 609.49 L789.36 609.21 L789.86 608.75 L790.30 608.16 L790.63 607.46 L790.84 606.71 Z" fill="#fff" stroke="#000" stroke-width="1.2" />
<path d="M787.11 610.21 L794.89 612.86 L797.38 605.45 L789.60 602.80 Z" fill="#111" stroke="none" stroke-width="0" />
<line x1="787.11" y1="610.21" x2="794.89" y2="612.86" stroke="#000" stroke-width="1.9"/>
<line x1="789.60" y1="602.80" x2="797.38" y2="605.45" stroke="#000" stroke-width="1.9"/>
<path d="M798.88 608.23 L798.78 607.30 L798.51 606.51 L798.07 605.89 L797.51 605.50 L796.85 605.35 L796.14 605.47 L795.43 605.83 L794.77 606.43 L794.20 607.20 L793.76 608.11 L793.49 609.09 L793.40 610.08 L793.49 611.00 L793.76 611.80 L794.20 612.41 L794.77 612.81 L795.43 612.95 L796.14 612.84 L796.85 612.47 L797.51 611.88 L798.07 611.10 L798.51 610.19 L798.78 609.21 Z" fill="#fff" stroke="#000" stroke-width="1.9" />
<path d="M680.60 651.20 L688.18 648.64 L688.18 594.48 L680.60 597.05 Z" fill="#fff" stroke="#000" stroke-width="1.2" stroke-linejoin="round"/>
<path d="M585.40 608.38 L592.98 605.81 L592.98 571.00 L585.40 573.56 Z" fill="#fff" stroke="#000" stroke-width="0.8" stroke-linejoin="round"/>
<path d="M585.40 608.38 L592.98 605.81 L680.72 635.66 L673.14 638.23 Z" fill="#fff" stroke="#000" stroke-width="0.8" stroke-linejoin="round"/>
<line x1="597.28" y1="606.29" x2="601.12" y2="607.60" stroke="#000" stroke-width="2.2"/>
<line x1="604.10" y1="608.61" x2="607.95" y2="609.92" stroke="#000" stroke-width="2.2"/>
<line x1="610.99" y1="610.96" x2="614.84" y2="612.27" stroke="#000" stroke-width="2.2"/>
<line x1="617.87" y1="613.30" x2="621.72" y2="614.61" stroke="#000" stroke-width="2.2"/>
<line x1="624.74" y1="615.63" x2="628.58" y2="616.94" stroke="#000" stroke-width="2.2"/>
<line x1="631.63" y1="617.98" x2="635.47" y2="619.28" stroke="#000" stroke-width="2.2"/>
<line x1="638.09" y1="620.17" x2="641.93" y2="621.48" stroke="#000" stroke-width="2.2"/>
<line x1="644.95" y1="622.51" x2="648.80" y2="623.82" stroke="#000" stroke-width="2.2"/>
<line x1="651.82" y1="624.84" x2="655.66" y2="626.15" stroke="#000" stroke-width="2.2"/>
<line x1="658.72" y1="627.19" x2="662.56" y2="628.50" stroke="#000" stroke-width="2.2"/>
<line x1="665.61" y1="629.54" x2="669.45" y2="630.84" stroke="#000" stroke-width="2.2"/>
<line x1="672.45" y1="631.86" x2="676.29" y2="633.17" stroke="#000" stroke-width="2.2"/>
<path d="M577.71 616.20 L680.60 651.20 L680.60 597.05 L577.71 562.05 Z M673.14 607.71 L672.98 606.33 L672.53 604.98 L671.82 603.78 L670.93 602.87 L669.94 602.32 L588.60 574.65 L587.61 574.53 L586.72 574.83 L586.01 575.54 L585.56 576.59 L585.40 577.86 L585.40 604.08 L585.56 605.46 L586.01 606.81 L586.72 608.01 L587.61 608.92 L588.60 609.47 L669.94 637.14 L670.93 637.26 L671.82 636.96 L672.53 636.25 L672.98 635.20 L673.14 633.93 Z" fill="#fff" fill-rule="evenodd" stroke="none"/>
<path d="M577.71 616.20 L680.60 651.20 L680.60 597.05 L577.71 562.05 Z" fill="none" stroke="#000" stroke-width="1.9" stroke-linejoin="round"/>
<path d="M673.14 607.71 L672.98 606.33 L672.53 604.98 L671.82 603.78 L670.93 602.87 L669.94 602.32 L588.60 574.65 L587.61 574.53 L586.72 574.83 L586.01 575.54 L585.56 576.59 L585.40 577.86 L585.40 604.08 L585.56 605.46 L586.01 606.81 L586.72 608.01 L587.61 608.92 L588.60 609.47 L669.94 637.14 L670.93 637.26 L671.82 636.96 L672.53 636.25 L672.98 635.20 L673.14 633.93 Z" fill="none" stroke="#000" stroke-width="1.5" stroke-linejoin="round"/>
<path d="M598.78 618.20 L602.89 616.81 L601.40 612.36 L597.29 613.75 Z" fill="#fff" stroke="none" stroke-width="0" />
<line x1="598.78" y1="618.20" x2="602.89" y2="616.81" stroke="#000" stroke-width="0.8"/>
<line x1="597.29" y1="613.75" x2="601.40" y2="612.36" stroke="#000" stroke-width="0.8"/>
<path d="M612.56 622.89 L616.67 621.49 L615.18 617.05 L611.07 618.44 Z" fill="#fff" stroke="none" stroke-width="0" />
<line x1="612.56" y1="622.89" x2="616.67" y2="621.49" stroke="#000" stroke-width="0.8"/>
<line x1="611.07" y1="618.44" x2="615.18" y2="617.05" stroke="#000" stroke-width="0.8"/>
<path d="M626.29 627.56 L630.41 626.17 L628.91 621.72 L624.80 623.11 Z" fill="#fff" stroke="none" stroke-width="0" />
<line x1="626.29" y1="627.56" x2="630.41" y2="626.17" stroke="#000" stroke-width="0.8"/>
<line x1="624.80" y1="623.11" x2="628.91" y2="621.72" stroke="#000" stroke-width="0.8"/>
<path d="M639.21 631.95 L643.32 630.56 L641.82 626.11 L637.71 627.50 Z" fill="#fff" stroke="none" stroke-width="0" />
<line x1="639.21" y1="631.95" x2="643.32" y2="630.56" stroke="#000" stroke-width="0.8"/>
<line x1="637.71" y1="627.50" x2="641.82" y2="626.11" stroke="#000" stroke-width="0.8"/>
<path d="M652.94 636.62 L657.05 635.23 L655.55 630.78 L651.44 632.17 Z" fill="#fff" stroke="none" stroke-width="0" />
<line x1="652.94" y1="636.62" x2="657.05" y2="635.23" stroke="#000" stroke-width="0.8"/>
<line x1="651.44" y1="632.17" x2="655.55" y2="630.78" stroke="#000" stroke-width="0.8"/>
<path d="M666.72 641.31 L670.83 639.92 L669.34 635.47 L665.22 636.86 Z" fill="#fff" stroke="none" stroke-width="0" />
<line x1="666.72" y1="641.31" x2="670.83" y2="639.92" stroke="#000" stroke-width="0.8"/>
<line x1="665.22" y1="636.86" x2="669.34" y2="635.47" stroke="#000" stroke-width="0.8"/>
<path d="M582.42 584.72 L585.62 583.64 L583.79 578.20 L580.60 579.28 Z" fill="#fff" stroke="none" stroke-width="0" />
<line x1="582.42" y1="584.72" x2="585.62" y2="583.64" stroke="#000" stroke-width="1.0"/>
<line x1="580.60" y1="579.28" x2="583.79" y2="578.20" stroke="#000" stroke-width="1.0"/>
<path d="M583.71 582.75 L583.63 581.96 L583.41 581.18 L583.06 580.45 L582.61 579.82 L582.08 579.35 L581.51 579.06 L580.94 578.96 L580.41 579.08 L579.96 579.39 L579.61 579.88 L579.39 580.52 L579.31 581.26 L579.39 582.04 L579.61 582.83 L579.96 583.56 L580.41 584.18 L580.94 584.66 L581.51 584.95 L582.08 585.04 L582.61 584.93 L583.06 584.62 L583.41 584.12 L583.63 583.49 Z" fill="#fff" stroke="#000" stroke-width="1.1" />
<path d="M582.42 605.72 L585.62 604.64 L583.79 599.20 L580.60 600.28 Z" fill="#fff" stroke="none" stroke-width="0" />
<line x1="582.42" y1="605.72" x2="585.62" y2="604.64" stroke="#000" stroke-width="1.0"/>
<line x1="580.60" y1="600.28" x2="583.79" y2="599.20" stroke="#000" stroke-width="1.0"/>
<path d="M583.71 603.75 L583.63 602.96 L583.41 602.18 L583.06 601.45 L582.61 600.82 L582.08 600.35 L581.51 600.05 L580.94 599.96 L580.41 600.08 L579.96 600.39 L579.61 600.88 L579.39 601.52 L579.31 602.25 L579.39 603.04 L579.61 603.83 L579.96 604.56 L580.41 605.18 L580.94 605.66 L581.51 605.95 L582.08 606.04 L582.61 605.93 L583.06 605.61 L583.41 605.12 L583.63 604.49 Z" fill="#fff" stroke="#000" stroke-width="1.1" />
<path d="M677.81 617.17 L681.01 616.09 L679.18 610.65 L675.98 611.73 Z" fill="#fff" stroke="none" stroke-width="0" />
<line x1="677.81" y1="617.17" x2="681.01" y2="616.09" stroke="#000" stroke-width="1.0"/>
<line x1="675.98" y1="611.73" x2="679.18" y2="610.65" stroke="#000" stroke-width="1.0"/>
<path d="M679.09 615.20 L679.02 614.41 L678.80 613.62 L678.45 612.90 L677.99 612.27 L677.46 611.80 L676.89 611.50 L676.33 611.41 L675.80 611.52 L675.34 611.84 L674.99 612.33 L674.77 612.97 L674.70 613.70 L674.77 614.49 L674.99 615.28 L675.34 616.01 L675.80 616.63 L676.33 617.10 L676.89 617.40 L677.46 617.49 L677.99 617.38 L678.45 617.06 L678.80 616.57 L679.02 615.94 Z" fill="#fff" stroke="#000" stroke-width="1.1" />
<path d="M677.81 638.17 L681.01 637.09 L679.18 631.65 L675.98 632.73 Z" fill="#fff" stroke="none" stroke-width="0" />
<line x1="677.81" y1="638.17" x2="681.01" y2="637.09" stroke="#000" stroke-width="1.0"/>
<line x1="675.98" y1="632.73" x2="679.18" y2="631.65" stroke="#000" stroke-width="1.0"/>
<path d="M679.09 636.20 L679.02 635.41 L678.80 634.62 L678.45 633.89 L677.99 633.27 L677.46 632.80 L676.89 632.50 L676.33 632.41 L675.80 632.52 L675.34 632.84 L674.99 633.33 L674.77 633.97 L674.70 634.70 L674.77 635.49 L674.99 636.28 L675.34 637.01 L675.80 637.63 L676.33 638.10 L676.89 638.40 L677.46 638.49 L677.99 638.38 L678.45 638.06 L678.80 637.57 L679.02 636.93 Z" fill="#fff" stroke="#000" stroke-width="1.1" />
<path d="M593.97 615.82 L594.30 615.64 L594.58 615.37 L594.81 615.02 L594.97 614.58 L595.05 614.10 L595.06 613.57 L594.99 613.02 L594.85 612.48 L594.63 611.96 L594.36 611.49 L594.04 611.08 L593.67 610.74 L593.29 610.50 L592.89 610.35 L592.51 610.31 L592.14 610.38 Z" fill="#fff" stroke="none" stroke-width="0" />
<path d="M588.94 617.52 L593.97 615.82 L592.14 610.38 L587.11 612.08 Z" fill="#fff" stroke="none" stroke-width="0" />
<line x1="588.94" y1="617.52" x2="593.97" y2="615.82" stroke="#000" stroke-width="1.0"/>
<line x1="587.11" y1="612.08" x2="592.14" y2="610.38" stroke="#000" stroke-width="1.0"/>
<path d="M593.97 615.82 L594.30 615.64 L594.58 615.37 L594.81 615.02 L594.97 614.58 L595.05 614.10 L595.06 613.57 L594.99 613.02 L594.85 612.48 L594.63 611.96 L594.36 611.49 L594.04 611.08 L593.67 610.74 L593.29 610.50 L592.89 610.35 L592.51 610.31 L592.14 610.38" fill="none" stroke="#000" stroke-width="1.0" />
<path d="M590.22 615.54 L590.15 614.76 L589.93 613.97 L589.58 613.24 L589.13 612.62 L588.60 612.14 L588.03 611.85 L587.46 611.76 L586.93 611.87 L586.47 612.19 L586.13 612.68 L585.91 613.31 L585.83 614.05 L585.91 614.84 L586.13 615.62 L586.47 616.35 L586.93 616.98 L587.46 617.45 L588.03 617.74 L588.60 617.84 L589.13 617.72 L589.58 617.41 L589.93 616.92 L590.15 616.28 Z" fill="#fff" stroke="#000" stroke-width="1.1" />
<path d="M607.62 620.46 L607.96 620.29 L608.24 620.02 L608.47 619.66 L608.62 619.23 L608.71 618.74 L608.72 618.21 L608.65 617.67 L608.50 617.13 L608.29 616.61 L608.02 616.13 L607.69 615.72 L607.33 615.39 L606.95 615.14 L606.55 615.00 L606.16 614.96 L605.80 615.03 Z" fill="#fff" stroke="none" stroke-width="0" />
<path d="M602.60 622.16 L607.62 620.46 L605.80 615.03 L600.77 616.73 Z" fill="#fff" stroke="none" stroke-width="0" />
<line x1="602.60" y1="622.16" x2="607.62" y2="620.46" stroke="#000" stroke-width="1.0"/>
<line x1="600.77" y1="616.73" x2="605.80" y2="615.03" stroke="#000" stroke-width="1.0"/>
<path d="M607.62 620.46 L607.96 620.29 L608.24 620.02 L608.47 619.66 L608.62 619.23 L608.71 618.74 L608.72 618.21 L608.65 617.67 L608.50 617.13 L608.29 616.61 L608.02 616.13 L607.69 615.72 L607.33 615.39 L606.95 615.14 L606.55 615.00 L606.16 614.96 L605.80 615.03" fill="none" stroke="#000" stroke-width="1.0" />
<path d="M603.88 620.19 L603.81 619.40 L603.59 618.62 L603.24 617.89 L602.78 617.26 L602.25 616.79 L601.68 616.50 L601.12 616.40 L600.59 616.52 L600.13 616.83 L599.78 617.32 L599.56 617.96 L599.49 618.70 L599.56 619.48 L599.78 620.27 L600.13 621.00 L600.59 621.62 L601.12 622.10 L601.68 622.39 L602.25 622.48 L602.78 622.37 L603.24 622.06 L603.59 621.56 L603.81 620.93 Z" fill="#fff" stroke="#000" stroke-width="1.1" />
<path d="M621.38 625.14 L621.71 624.97 L622.00 624.70 L622.22 624.34 L622.38 623.91 L622.47 623.42 L622.47 622.89 L622.40 622.35 L622.26 621.81 L622.05 621.29 L621.77 620.81 L621.45 620.40 L621.09 620.07 L620.70 619.82 L620.31 619.68 L619.92 619.64 L619.55 619.70 Z" fill="#fff" stroke="none" stroke-width="0" />
<path d="M616.35 626.84 L621.38 625.14 L619.55 619.70 L614.53 621.40 Z" fill="#fff" stroke="none" stroke-width="0" />
<line x1="616.35" y1="626.84" x2="621.38" y2="625.14" stroke="#000" stroke-width="1.0"/>
<line x1="614.53" y1="621.40" x2="619.55" y2="619.70" stroke="#000" stroke-width="1.0"/>
<path d="M621.38 625.14 L621.71 624.97 L622.00 624.70 L622.22 624.34 L622.38 623.91 L622.47 623.42 L622.47 622.89 L622.40 622.35 L622.26 621.81 L622.05 621.29 L621.77 620.81 L621.45 620.40 L621.09 620.07 L620.70 619.82 L620.31 619.68 L619.92 619.64 L619.55 619.70" fill="none" stroke="#000" stroke-width="1.0" />
<path d="M617.64 624.87 L617.56 624.08 L617.34 623.30 L616.99 622.57 L616.54 621.94 L616.01 621.47 L615.44 621.18 L614.87 621.08 L614.34 621.20 L613.89 621.51 L613.54 622.00 L613.32 622.64 L613.24 623.38 L613.32 624.16 L613.54 624.95 L613.89 625.68 L614.34 626.30 L614.87 626.78 L615.44 627.07 L616.01 627.16 L616.54 627.05 L616.99 626.74 L617.34 626.24 L617.56 625.61 Z" fill="#fff" stroke="#000" stroke-width="1.1" />
<path d="M635.16 629.83 L635.49 629.66 L635.78 629.39 L636.00 629.03 L636.16 628.60 L636.25 628.11 L636.25 627.58 L636.18 627.04 L636.04 626.49 L635.83 625.98 L635.55 625.50 L635.23 625.09 L634.87 624.75 L634.48 624.51 L634.09 624.36 L633.70 624.32 L633.33 624.39 Z" fill="#fff" stroke="none" stroke-width="0" />
<path d="M630.14 631.53 L635.16 629.83 L633.33 624.39 L628.31 626.09 Z" fill="#fff" stroke="none" stroke-width="0" />
<line x1="630.14" y1="631.53" x2="635.16" y2="629.83" stroke="#000" stroke-width="1.0"/>
<line x1="628.31" y1="626.09" x2="633.33" y2="624.39" stroke="#000" stroke-width="1.0"/>
<path d="M635.16 629.83 L635.49 629.66 L635.78 629.39 L636.00 629.03 L636.16 628.60 L636.25 628.11 L636.25 627.58 L636.18 627.04 L636.04 626.49 L635.83 625.98 L635.55 625.50 L635.23 625.09 L634.87 624.75 L634.48 624.51 L634.09 624.36 L633.70 624.32 L633.33 624.39" fill="none" stroke="#000" stroke-width="1.0" />
<path d="M631.42 629.56 L631.34 628.77 L631.12 627.98 L630.77 627.25 L630.32 626.63 L629.79 626.16 L629.22 625.86 L628.65 625.77 L628.12 625.88 L627.67 626.20 L627.32 626.69 L627.10 627.33 L627.02 628.06 L627.10 628.85 L627.32 629.64 L627.67 630.37 L628.12 630.99 L628.65 631.46 L629.22 631.76 L629.79 631.85 L630.32 631.74 L630.77 631.42 L631.12 630.93 L631.34 630.30 Z" fill="#fff" stroke="#000" stroke-width="1.1" />
<path d="M648.89 634.50 L649.22 634.33 L649.51 634.06 L649.73 633.70 L649.89 633.27 L649.98 632.78 L649.98 632.25 L649.91 631.71 L649.77 631.17 L649.56 630.65 L649.28 630.17 L648.96 629.76 L648.60 629.42 L648.21 629.18 L647.82 629.03 L647.43 629.00 L647.06 629.06 Z" fill="#fff" stroke="none" stroke-width="0" />
<path d="M643.87 636.20 L648.89 634.50 L647.06 629.06 L642.04 630.76 Z" fill="#fff" stroke="none" stroke-width="0" />
<line x1="643.87" y1="636.20" x2="648.89" y2="634.50" stroke="#000" stroke-width="1.0"/>
<line x1="642.04" y1="630.76" x2="647.06" y2="629.06" stroke="#000" stroke-width="1.0"/>
<path d="M648.89 634.50 L649.22 634.33 L649.51 634.06 L649.73 633.70 L649.89 633.27 L649.98 632.78 L649.98 632.25 L649.91 631.71 L649.77 631.17 L649.56 630.65 L649.28 630.17 L648.96 629.76 L648.60 629.42 L648.21 629.18 L647.82 629.03 L647.43 629.00 L647.06 629.06" fill="none" stroke="#000" stroke-width="1.0" />
<path d="M645.15 634.23 L645.07 633.44 L644.85 632.66 L644.51 631.93 L644.05 631.30 L643.52 630.83 L642.95 630.53 L642.38 630.44 L641.85 630.56 L641.40 630.87 L641.05 631.36 L640.83 632.00 L640.75 632.73 L640.83 633.52 L641.05 634.31 L641.40 635.04 L641.85 635.66 L642.38 636.13 L642.95 636.43 L643.52 636.52 L644.05 636.41 L644.51 636.09 L644.85 635.60 L645.07 634.97 Z" fill="#fff" stroke="#000" stroke-width="1.1" />
<path d="M662.70 639.20 L663.03 639.02 L663.31 638.75 L663.54 638.40 L663.70 637.96 L663.78 637.48 L663.79 636.95 L663.72 636.40 L663.58 635.86 L663.36 635.34 L663.09 634.87 L662.77 634.46 L662.40 634.12 L662.02 633.88 L661.62 633.73 L661.24 633.69 L660.87 633.76 Z" fill="#fff" stroke="none" stroke-width="0" />
<path d="M657.67 640.90 L662.70 639.20 L660.87 633.76 L655.84 635.46 Z" fill="#fff" stroke="none" stroke-width="0" />
<line x1="657.67" y1="640.90" x2="662.70" y2="639.20" stroke="#000" stroke-width="1.0"/>
<line x1="655.84" y1="635.46" x2="660.87" y2="633.76" stroke="#000" stroke-width="1.0"/>
<path d="M662.70 639.20 L663.03 639.02 L663.31 638.75 L663.54 638.40 L663.70 637.96 L663.78 637.48 L663.79 636.95 L663.72 636.40 L663.58 635.86 L663.36 635.34 L663.09 634.87 L662.77 634.46 L662.40 634.12 L662.02 633.88 L661.62 633.73 L661.24 633.69 L660.87 633.76" fill="none" stroke="#000" stroke-width="1.0" />
<path d="M658.95 638.93 L658.88 638.14 L658.66 637.35 L658.31 636.62 L657.86 636.00 L657.33 635.52 L656.76 635.23 L656.19 635.14 L655.66 635.25 L655.20 635.57 L654.85 636.06 L654.63 636.69 L654.56 637.43 L654.63 638.22 L654.85 639.00 L655.20 639.73 L655.66 640.36 L656.19 640.83 L656.76 641.12 L657.33 641.22 L657.86 641.10 L658.31 640.79 L658.66 640.30 L658.88 639.66 Z" fill="#fff" stroke="#000" stroke-width="1.1" />
<path d="M676.38 643.85 L676.71 643.68 L676.99 643.41 L677.22 643.05 L677.38 642.62 L677.46 642.13 L677.47 641.60 L677.40 641.06 L677.26 640.52 L677.04 640.00 L676.77 639.52 L676.45 639.11 L676.09 638.77 L675.70 638.53 L675.31 638.39 L674.92 638.35 L674.55 638.41 Z" fill="#fff" stroke="none" stroke-width="0" />
<path d="M671.35 645.55 L676.38 643.85 L674.55 638.41 L669.52 640.11 Z" fill="#fff" stroke="none" stroke-width="0" />
<line x1="671.35" y1="645.55" x2="676.38" y2="643.85" stroke="#000" stroke-width="1.0"/>
<line x1="669.52" y1="640.11" x2="674.55" y2="638.41" stroke="#000" stroke-width="1.0"/>
<path d="M676.38 643.85 L676.71 643.68 L676.99 643.41 L677.22 643.05 L677.38 642.62 L677.46 642.13 L677.47 641.60 L677.40 641.06 L677.26 640.52 L677.04 640.00 L676.77 639.52 L676.45 639.11 L676.09 638.77 L675.70 638.53 L675.31 638.39 L674.92 638.35 L674.55 638.41" fill="none" stroke="#000" stroke-width="1.0" />
<path d="M672.64 643.58 L672.56 642.79 L672.34 642.01 L671.99 641.28 L671.54 640.65 L671.01 640.18 L670.44 639.88 L669.87 639.79 L669.34 639.91 L668.89 640.22 L668.54 640.71 L668.32 641.35 L668.24 642.08 L668.32 642.87 L668.54 643.66 L668.89 644.39 L669.34 645.01 L669.87 645.49 L670.44 645.78 L671.01 645.87 L671.54 645.76 L671.99 645.44 L672.34 644.95 L672.56 644.32 Z" fill="#fff" stroke="#000" stroke-width="1.1" />
<path d="M575.98 560.67 L574.85 561.13 L574.02 561.66 L573.50 562.24 L573.33 562.84 L573.51 563.43 L574.02 564.01 L574.86 564.54 L575.99 565.01 L666.06 595.65 L667.44 596.04 L669.00 596.32 L670.70 596.50 L672.47 596.56 L674.23 596.50 L675.93 596.33 L677.50 596.05 L678.87 595.67 L679.55 600.72 L678.18 601.10 L676.62 601.38 L674.92 601.55 L673.15 601.61 L671.39 601.55 L669.69 601.37 L668.12 601.08 L666.75 600.70 L576.67 570.06 L575.55 569.59 L574.71 569.06 L574.19 568.48 L574.02 567.88 L574.19 567.29 L574.70 566.71 L575.54 566.18 L576.66 565.72 Z" fill="#fff" stroke="#000" stroke-width="0.9" />
<line x1="582.12" y1="567.89" x2="580.21" y2="571.06" stroke="#000" stroke-width="1.25"/>
<line x1="583.97" y1="568.52" x2="582.06" y2="571.69" stroke="#000" stroke-width="1.25"/>
<line x1="585.82" y1="569.15" x2="583.91" y2="572.32" stroke="#000" stroke-width="1.25"/>
<line x1="587.67" y1="569.78" x2="585.76" y2="572.95" stroke="#000" stroke-width="1.25"/>
<line x1="589.52" y1="570.41" x2="587.61" y2="573.58" stroke="#000" stroke-width="1.25"/>
<line x1="591.37" y1="571.04" x2="589.46" y2="574.21" stroke="#000" stroke-width="1.25"/>
<line x1="593.22" y1="571.67" x2="591.31" y2="574.84" stroke="#000" stroke-width="1.25"/>
<line x1="595.07" y1="572.30" x2="593.16" y2="575.47" stroke="#000" stroke-width="1.25"/>
<line x1="596.92" y1="572.93" x2="595.01" y2="576.10" stroke="#000" stroke-width="1.25"/>
<line x1="598.77" y1="573.56" x2="596.87" y2="576.73" stroke="#000" stroke-width="1.25"/>
<line x1="600.62" y1="574.19" x2="598.72" y2="577.36" stroke="#000" stroke-width="1.25"/>
<line x1="602.47" y1="574.82" x2="600.57" y2="577.99" stroke="#000" stroke-width="1.25"/>
<line x1="604.32" y1="575.45" x2="602.42" y2="578.62" stroke="#000" stroke-width="1.25"/>
<line x1="606.17" y1="576.08" x2="604.27" y2="579.25" stroke="#000" stroke-width="1.25"/>
<line x1="608.02" y1="576.71" x2="606.12" y2="579.88" stroke="#000" stroke-width="1.25"/>
<line x1="609.88" y1="577.34" x2="607.97" y2="580.51" stroke="#000" stroke-width="1.25"/>
<line x1="611.73" y1="577.97" x2="609.82" y2="581.13" stroke="#000" stroke-width="1.25"/>
<line x1="613.58" y1="578.60" x2="611.67" y2="581.76" stroke="#000" stroke-width="1.25"/>
<line x1="615.43" y1="579.23" x2="613.52" y2="582.39" stroke="#000" stroke-width="1.25"/>
<line x1="617.28" y1="579.86" x2="615.37" y2="583.02" stroke="#000" stroke-width="1.25"/>
<line x1="619.13" y1="580.49" x2="617.22" y2="583.65" stroke="#000" stroke-width="1.25"/>
<line x1="620.98" y1="581.12" x2="619.07" y2="584.28" stroke="#000" stroke-width="1.25"/>
<line x1="622.83" y1="581.74" x2="620.92" y2="584.91" stroke="#000" stroke-width="1.25"/>
<line x1="624.68" y1="582.37" x2="622.77" y2="585.54" stroke="#000" stroke-width="1.25"/>
<line x1="626.53" y1="583.00" x2="624.63" y2="586.17" stroke="#000" stroke-width="1.25"/>
<line x1="628.38" y1="583.63" x2="626.48" y2="586.80" stroke="#000" stroke-width="1.25"/>
<line x1="630.23" y1="584.26" x2="628.33" y2="587.43" stroke="#000" stroke-width="1.25"/>
<line x1="632.08" y1="584.89" x2="630.18" y2="588.06" stroke="#000" stroke-width="1.25"/>
<line x1="633.93" y1="585.52" x2="632.03" y2="588.69" stroke="#000" stroke-width="1.25"/>
<line x1="635.78" y1="586.15" x2="633.88" y2="589.32" stroke="#000" stroke-width="1.25"/>
<line x1="637.64" y1="586.78" x2="635.73" y2="589.95" stroke="#000" stroke-width="1.25"/>
<line x1="639.49" y1="587.41" x2="637.58" y2="590.58" stroke="#000" stroke-width="1.25"/>
<line x1="641.34" y1="588.04" x2="639.43" y2="591.21" stroke="#000" stroke-width="1.25"/>
<line x1="643.19" y1="588.67" x2="641.28" y2="591.84" stroke="#000" stroke-width="1.25"/>
<line x1="645.04" y1="589.30" x2="643.13" y2="592.47" stroke="#000" stroke-width="1.25"/>
<line x1="646.89" y1="589.93" x2="644.98" y2="593.10" stroke="#000" stroke-width="1.25"/>
<line x1="648.74" y1="590.56" x2="646.83" y2="593.73" stroke="#000" stroke-width="1.25"/>
<line x1="650.59" y1="591.19" x2="648.68" y2="594.36" stroke="#000" stroke-width="1.25"/>
<line x1="652.44" y1="591.82" x2="650.53" y2="594.99" stroke="#000" stroke-width="1.25"/>
<line x1="654.29" y1="592.45" x2="652.39" y2="595.61" stroke="#000" stroke-width="1.25"/>
<line x1="656.14" y1="593.08" x2="654.24" y2="596.24" stroke="#000" stroke-width="1.25"/>
<line x1="657.99" y1="593.71" x2="656.09" y2="596.87" stroke="#000" stroke-width="1.25"/>
<line x1="659.84" y1="594.34" x2="657.94" y2="597.50" stroke="#000" stroke-width="2.3"/>
<line x1="661.69" y1="594.97" x2="659.79" y2="598.13" stroke="#000" stroke-width="2.3"/>
<line x1="663.54" y1="595.60" x2="661.64" y2="598.76" stroke="#000" stroke-width="2.3"/>
<line x1="665.40" y1="596.22" x2="663.49" y2="599.39" stroke="#000" stroke-width="2.3"/>
<line x1="667.27" y1="596.79" x2="665.34" y2="600.02" stroke="#000" stroke-width="2.3"/>
<line x1="669.19" y1="597.14" x2="667.20" y2="600.63" stroke="#000" stroke-width="2.3"/>
<line x1="671.13" y1="597.31" x2="669.10" y2="601.06" stroke="#000" stroke-width="2.3"/>
<line x1="673.09" y1="597.34" x2="671.04" y2="601.31" stroke="#000" stroke-width="2.3"/>
<line x1="675.04" y1="597.22" x2="672.99" y2="601.40" stroke="#000" stroke-width="2.3"/>
<line x1="676.97" y1="596.94" x2="674.95" y2="601.35" stroke="#000" stroke-width="2.3"/>
<path d="M678.87 597.63 L688.18 594.48 L688.18 592.52 L678.87 595.67 Z" fill="#fff" stroke="#000" stroke-width="0.9" stroke-linejoin="round"/>
<path d="M585.29 557.52 L575.98 560.67 L574.85 561.13 L574.02 561.66 L573.50 562.24 L573.33 562.84 L573.51 563.43 L574.02 564.01 L574.86 564.54 L575.99 565.01 L666.06 595.65 L667.44 596.04 L669.00 596.32 L670.70 596.50 L672.47 596.56 L674.23 596.50 L675.93 596.33 L677.50 596.05 L678.87 595.67 L688.18 592.52 Z" fill="#fff" stroke="#000" stroke-width="1.3" stroke-linejoin="round"/>
</svg>
</body></html>
